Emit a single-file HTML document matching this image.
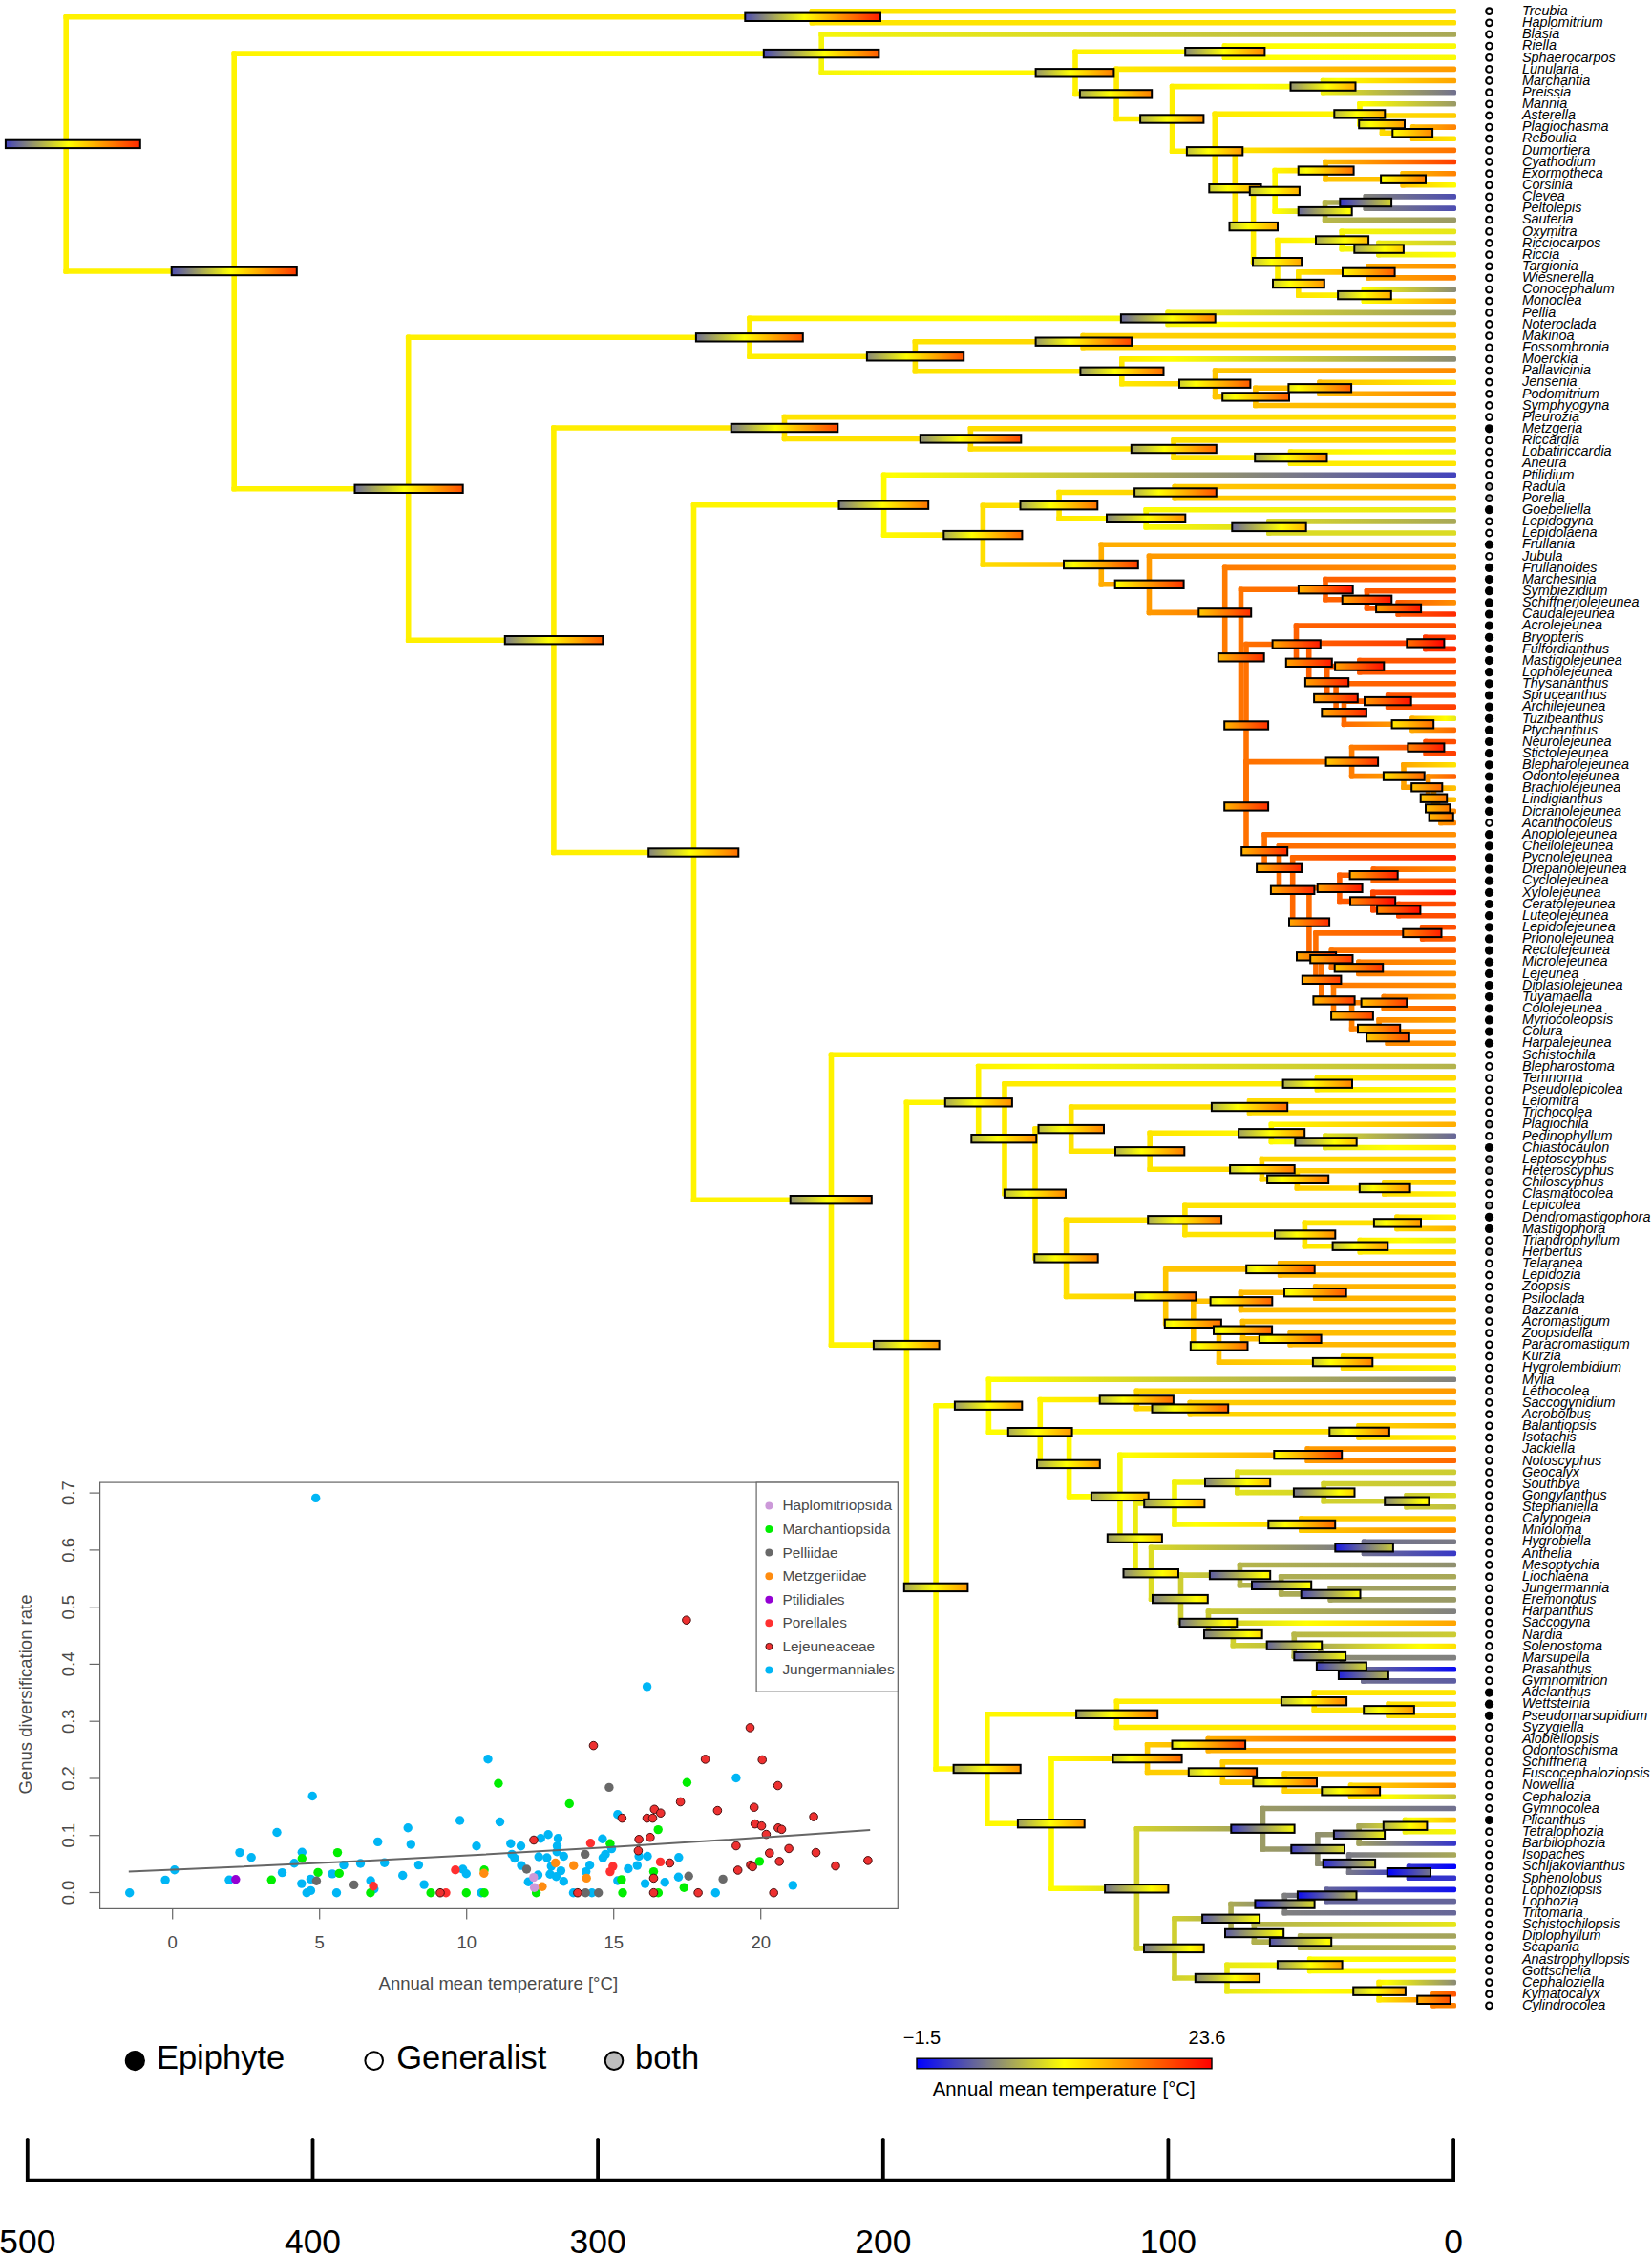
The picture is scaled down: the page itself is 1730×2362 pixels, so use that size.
<!DOCTYPE html>
<html><head><meta charset="utf-8"><title>Liverwort phylogeny</title>
<style>html,body{margin:0;padding:0;background:#fff}svg{display:block}</style></head>
<body><svg width="1730" height="2362" viewBox="0 0 1730 2362"><defs><linearGradient id="g1"><stop offset="0.000" stop-color="#fff200"/><stop offset="1.000" stop-color="#ffe600"/></linearGradient><linearGradient id="g2"><stop offset="0.000" stop-color="#fff200"/><stop offset="1.000" stop-color="#fff400"/></linearGradient><linearGradient id="g3"><stop offset="0.000" stop-color="#4242bd"/><stop offset="0.467" stop-color="#ffff00"/><stop offset="1.000" stop-color="#ff2700"/></linearGradient><linearGradient id="g4"><stop offset="0.000" stop-color="#ffe600"/><stop offset="1.000" stop-color="#ffe000"/></linearGradient><linearGradient id="g5"><stop offset="0.000" stop-color="#ffe600"/><stop offset="1.000" stop-color="#ffe000"/></linearGradient><linearGradient id="g6"><stop offset="0.000" stop-color="#4d4db2"/><stop offset="0.437" stop-color="#ffff00"/><stop offset="1.000" stop-color="#ff1a00"/></linearGradient><linearGradient id="g7"><stop offset="0.000" stop-color="#fff400"/><stop offset="0.537" stop-color="#ffff00"/><stop offset="1.000" stop-color="#f6f609"/></linearGradient><linearGradient id="g8"><stop offset="0.000" stop-color="#fff400"/><stop offset="1.000" stop-color="#fff100"/></linearGradient><linearGradient id="g9"><stop offset="0.000" stop-color="#4e4eb1"/><stop offset="0.471" stop-color="#ffff00"/><stop offset="1.000" stop-color="#ff3800"/></linearGradient><linearGradient id="g10"><stop offset="0.000" stop-color="#f6f609"/><stop offset="1.000" stop-color="#a8a857"/></linearGradient><linearGradient id="g11"><stop offset="0.000" stop-color="#f6f609"/><stop offset="0.413" stop-color="#ffff00"/><stop offset="1.000" stop-color="#fff200"/></linearGradient><linearGradient id="g12"><stop offset="0.000" stop-color="#4949b6"/><stop offset="0.527" stop-color="#ffff00"/><stop offset="1.000" stop-color="#ff5b00"/></linearGradient><linearGradient id="g13"><stop offset="0.000" stop-color="#fff200"/><stop offset="1.000" stop-color="#fffc00"/></linearGradient><linearGradient id="g14"><stop offset="0.000" stop-color="#fff200"/><stop offset="1.000" stop-color="#ffeb00"/></linearGradient><linearGradient id="g15"><stop offset="0.000" stop-color="#969669"/><stop offset="0.444" stop-color="#ffff00"/><stop offset="1.000" stop-color="#ff7c00"/></linearGradient><linearGradient id="g16"><stop offset="0.000" stop-color="#fffc00"/><stop offset="0.356" stop-color="#ffff00"/><stop offset="1.000" stop-color="#fafa05"/></linearGradient><linearGradient id="g17"><stop offset="0.000" stop-color="#fffc00"/><stop offset="0.356" stop-color="#ffff00"/><stop offset="1.000" stop-color="#fafa05"/></linearGradient><linearGradient id="g18"><stop offset="0.000" stop-color="#8a8a75"/><stop offset="0.488" stop-color="#ffff00"/><stop offset="1.000" stop-color="#ff8400"/></linearGradient><linearGradient id="g19"><stop offset="0.000" stop-color="#ffeb00"/><stop offset="1.000" stop-color="#ff9900"/></linearGradient><linearGradient id="g20"><stop offset="0.000" stop-color="#ffeb00"/><stop offset="1.000" stop-color="#fff000"/></linearGradient><linearGradient id="g21"><stop offset="0.000" stop-color="#a6a659"/><stop offset="0.410" stop-color="#ffff00"/><stop offset="1.000" stop-color="#ff7f00"/></linearGradient><linearGradient id="g22"><stop offset="0.000" stop-color="#fff000"/><stop offset="0.526" stop-color="#ffff00"/><stop offset="1.000" stop-color="#f2f20d"/></linearGradient><linearGradient id="g23"><stop offset="0.000" stop-color="#fff000"/><stop offset="1.000" stop-color="#ffec00"/></linearGradient><linearGradient id="g24"><stop offset="0.000" stop-color="#aeae51"/><stop offset="0.423" stop-color="#ffff00"/><stop offset="1.000" stop-color="#ff9100"/></linearGradient><linearGradient id="g25"><stop offset="0.000" stop-color="#f2f20d"/><stop offset="0.127" stop-color="#ffff00"/><stop offset="1.000" stop-color="#ffa300"/></linearGradient><linearGradient id="g26"><stop offset="0.000" stop-color="#f2f20d"/><stop offset="1.000" stop-color="#70708f"/></linearGradient><linearGradient id="g27"><stop offset="0.000" stop-color="#90906f"/><stop offset="0.568" stop-color="#ffff00"/><stop offset="1.000" stop-color="#ffaa00"/></linearGradient><linearGradient id="g28"><stop offset="0.000" stop-color="#ffec00"/><stop offset="1.000" stop-color="#fff700"/></linearGradient><linearGradient id="g29"><stop offset="0.000" stop-color="#ffec00"/><stop offset="1.000" stop-color="#ffe800"/></linearGradient><linearGradient id="g30"><stop offset="0.000" stop-color="#bebe41"/><stop offset="0.387" stop-color="#ffff00"/><stop offset="1.000" stop-color="#ff9800"/></linearGradient><linearGradient id="g31"><stop offset="0.000" stop-color="#fff700"/><stop offset="0.075" stop-color="#ffff00"/><stop offset="1.000" stop-color="#999966"/></linearGradient><linearGradient id="g32"><stop offset="0.000" stop-color="#fff700"/><stop offset="1.000" stop-color="#ffde00"/></linearGradient><linearGradient id="g33"><stop offset="0.000" stop-color="#bbbb44"/><stop offset="0.446" stop-color="#ffff00"/><stop offset="1.000" stop-color="#ffaa00"/></linearGradient><linearGradient id="g34"><stop offset="0.000" stop-color="#ffde00"/><stop offset="1.000" stop-color="#ffcc00"/></linearGradient><linearGradient id="g35"><stop offset="0.000" stop-color="#ffde00"/><stop offset="1.000" stop-color="#ffc400"/></linearGradient><linearGradient id="g36"><stop offset="0.000" stop-color="#dbdb24"/><stop offset="0.261" stop-color="#ffff00"/><stop offset="1.000" stop-color="#ff9900"/></linearGradient><linearGradient id="g37"><stop offset="0.000" stop-color="#ffc400"/><stop offset="1.000" stop-color="#ff8000"/></linearGradient><linearGradient id="g38"><stop offset="0.000" stop-color="#ffc400"/><stop offset="1.000" stop-color="#ffe500"/></linearGradient><linearGradient id="g39"><stop offset="0.000" stop-color="#fefe01"/><stop offset="0.012" stop-color="#ffff00"/><stop offset="1.000" stop-color="#ff8700"/></linearGradient><linearGradient id="g40"><stop offset="0.000" stop-color="#ffe800"/><stop offset="1.000" stop-color="#ff7000"/></linearGradient><linearGradient id="g41"><stop offset="0.000" stop-color="#ffe800"/><stop offset="1.000" stop-color="#ffef00"/></linearGradient><linearGradient id="g42"><stop offset="0.000" stop-color="#c7c738"/><stop offset="0.357" stop-color="#ffff00"/><stop offset="1.000" stop-color="#ff9a00"/></linearGradient><linearGradient id="g43"><stop offset="0.000" stop-color="#ffef00"/><stop offset="1.000" stop-color="#fff900"/></linearGradient><linearGradient id="g44"><stop offset="0.000" stop-color="#c5c53a"/><stop offset="0.393" stop-color="#ffff00"/><stop offset="1.000" stop-color="#ffa600"/></linearGradient><linearGradient id="g45"><stop offset="0.000" stop-color="#fff900"/><stop offset="1.000" stop-color="#ffc300"/></linearGradient><linearGradient id="g46"><stop offset="0.000" stop-color="#fff900"/><stop offset="0.078" stop-color="#ffff00"/><stop offset="1.000" stop-color="#b9b946"/></linearGradient><linearGradient id="g47"><stop offset="0.000" stop-color="#baba45"/><stop offset="0.461" stop-color="#ffff00"/><stop offset="1.000" stop-color="#ffae00"/></linearGradient><linearGradient id="g48"><stop offset="0.000" stop-color="#ffc300"/><stop offset="1.000" stop-color="#ff3d00"/></linearGradient><linearGradient id="g49"><stop offset="0.000" stop-color="#ffc300"/><stop offset="1.000" stop-color="#ffc000"/></linearGradient><linearGradient id="g50"><stop offset="0.000" stop-color="#e8e817"/><stop offset="0.140" stop-color="#ffff00"/><stop offset="1.000" stop-color="#ff6f00"/></linearGradient><linearGradient id="g51"><stop offset="0.000" stop-color="#ffc000"/><stop offset="1.000" stop-color="#ff8000"/></linearGradient><linearGradient id="g52"><stop offset="0.000" stop-color="#ffc000"/><stop offset="1.000" stop-color="#ffff00"/></linearGradient><linearGradient id="g53"><stop offset="0.000" stop-color="#fafa05"/><stop offset="0.037" stop-color="#ffff00"/><stop offset="1.000" stop-color="#ff7c00"/></linearGradient><linearGradient id="g54"><stop offset="0.000" stop-color="#b9b946"/><stop offset="1.000" stop-color="#84847b"/></linearGradient><linearGradient id="g55"><stop offset="0.000" stop-color="#b9b946"/><stop offset="1.000" stop-color="#999966"/></linearGradient><linearGradient id="g56"><stop offset="0.000" stop-color="#686897"/><stop offset="0.934" stop-color="#ffff00"/><stop offset="1.000" stop-color="#fff400"/></linearGradient><linearGradient id="g57"><stop offset="0.000" stop-color="#84847b"/><stop offset="1.000" stop-color="#4c4cb2"/></linearGradient><linearGradient id="g58"><stop offset="0.000" stop-color="#84847b"/><stop offset="1.000" stop-color="#4c4cb2"/></linearGradient><linearGradient id="g59"><stop offset="0.000" stop-color="#3737c8"/><stop offset="1.000" stop-color="#d2d22d"/></linearGradient><linearGradient id="g60"><stop offset="0.000" stop-color="#ffee00"/><stop offset="0.685" stop-color="#ffff00"/><stop offset="1.000" stop-color="#f7f708"/></linearGradient><linearGradient id="g61"><stop offset="0.000" stop-color="#ffee00"/><stop offset="1.000" stop-color="#ffe400"/></linearGradient><linearGradient id="g62"><stop offset="0.000" stop-color="#c6c639"/><stop offset="0.383" stop-color="#ffff00"/><stop offset="1.000" stop-color="#ffa400"/></linearGradient><linearGradient id="g63"><stop offset="0.000" stop-color="#f7f708"/><stop offset="1.000" stop-color="#e6e619"/></linearGradient><linearGradient id="g64"><stop offset="0.000" stop-color="#f7f708"/><stop offset="1.000" stop-color="#eeee11"/></linearGradient><linearGradient id="g65"><stop offset="0.000" stop-color="#a7a758"/><stop offset="0.550" stop-color="#ffff00"/><stop offset="1.000" stop-color="#ffb700"/></linearGradient><linearGradient id="g66"><stop offset="0.000" stop-color="#eeee11"/><stop offset="1.000" stop-color="#cccc33"/></linearGradient><linearGradient id="g67"><stop offset="0.000" stop-color="#eeee11"/><stop offset="1.000" stop-color="#ffff00"/></linearGradient><linearGradient id="g68"><stop offset="0.000" stop-color="#a4a45b"/><stop offset="0.612" stop-color="#ffff00"/><stop offset="1.000" stop-color="#ffc500"/></linearGradient><linearGradient id="g69"><stop offset="0.000" stop-color="#ffe400"/><stop offset="1.000" stop-color="#ffaa00"/></linearGradient><linearGradient id="g70"><stop offset="0.000" stop-color="#ffe400"/><stop offset="1.000" stop-color="#fffc00"/></linearGradient><linearGradient id="g71"><stop offset="0.000" stop-color="#cccc33"/><stop offset="0.327" stop-color="#ffff00"/><stop offset="1.000" stop-color="#ff9600"/></linearGradient><linearGradient id="g72"><stop offset="0.000" stop-color="#ffaa00"/><stop offset="1.000" stop-color="#ff8f00"/></linearGradient><linearGradient id="g73"><stop offset="0.000" stop-color="#ffaa00"/><stop offset="1.000" stop-color="#ff8000"/></linearGradient><linearGradient id="g74"><stop offset="0.000" stop-color="#fff900"/><stop offset="1.000" stop-color="#ff5b00"/></linearGradient><linearGradient id="g75"><stop offset="0.000" stop-color="#fffc00"/><stop offset="0.028" stop-color="#ffff00"/><stop offset="1.000" stop-color="#8a8a75"/></linearGradient><linearGradient id="g76"><stop offset="0.000" stop-color="#fffc00"/><stop offset="1.000" stop-color="#ffa300"/></linearGradient><linearGradient id="g77"><stop offset="0.000" stop-color="#b2b24d"/><stop offset="0.479" stop-color="#ffff00"/><stop offset="1.000" stop-color="#ffab00"/></linearGradient><linearGradient id="g78"><stop offset="0.000" stop-color="#6a6a95"/><stop offset="0.457" stop-color="#ffff00"/><stop offset="1.000" stop-color="#ff4e00"/></linearGradient><linearGradient id="g79"><stop offset="0.000" stop-color="#ffef00"/><stop offset="0.580" stop-color="#ffff00"/><stop offset="1.000" stop-color="#f4f40b"/></linearGradient><linearGradient id="g80"><stop offset="0.000" stop-color="#ffef00"/><stop offset="1.000" stop-color="#ffe400"/></linearGradient><linearGradient id="g81"><stop offset="0.000" stop-color="#6e6e91"/><stop offset="0.452" stop-color="#ffff00"/><stop offset="1.000" stop-color="#ff4f00"/></linearGradient><linearGradient id="g82"><stop offset="0.000" stop-color="#f4f40b"/><stop offset="1.000" stop-color="#999966"/></linearGradient><linearGradient id="g83"><stop offset="0.000" stop-color="#f4f40b"/><stop offset="0.155" stop-color="#ffff00"/><stop offset="1.000" stop-color="#ffc200"/></linearGradient><linearGradient id="g84"><stop offset="0.000" stop-color="#666699"/><stop offset="0.540" stop-color="#ffff00"/><stop offset="1.000" stop-color="#ff7c00"/></linearGradient><linearGradient id="g85"><stop offset="0.000" stop-color="#ffe400"/><stop offset="1.000" stop-color="#ffd400"/></linearGradient><linearGradient id="g86"><stop offset="0.000" stop-color="#ffe400"/><stop offset="1.000" stop-color="#ffea00"/></linearGradient><linearGradient id="g87"><stop offset="0.000" stop-color="#888877"/><stop offset="0.408" stop-color="#ffff00"/><stop offset="1.000" stop-color="#ff5200"/></linearGradient><linearGradient id="g88"><stop offset="0.000" stop-color="#ffd400"/><stop offset="1.000" stop-color="#ffc200"/></linearGradient><linearGradient id="g89"><stop offset="0.000" stop-color="#ffd400"/><stop offset="1.000" stop-color="#ffc200"/></linearGradient><linearGradient id="g90"><stop offset="0.000" stop-color="#9a9a65"/><stop offset="0.351" stop-color="#ffff00"/><stop offset="1.000" stop-color="#ff4300"/></linearGradient><linearGradient id="g91"><stop offset="0.000" stop-color="#ffea00"/><stop offset="0.153" stop-color="#ffff00"/><stop offset="1.000" stop-color="#8a8a75"/></linearGradient><linearGradient id="g92"><stop offset="0.000" stop-color="#ffea00"/><stop offset="1.000" stop-color="#ffc600"/></linearGradient><linearGradient id="g93"><stop offset="0.000" stop-color="#979768"/><stop offset="0.416" stop-color="#ffff00"/><stop offset="1.000" stop-color="#ff6c00"/></linearGradient><linearGradient id="g94"><stop offset="0.000" stop-color="#ffc600"/><stop offset="1.000" stop-color="#ff8a00"/></linearGradient><linearGradient id="g95"><stop offset="0.000" stop-color="#ffc600"/><stop offset="1.000" stop-color="#ffc000"/></linearGradient><linearGradient id="g96"><stop offset="0.000" stop-color="#cdcd32"/><stop offset="0.232" stop-color="#ffff00"/><stop offset="1.000" stop-color="#ff5a00"/></linearGradient><linearGradient id="g97"><stop offset="0.000" stop-color="#ffc000"/><stop offset="1.000" stop-color="#ffbd00"/></linearGradient><linearGradient id="g98"><stop offset="0.000" stop-color="#ffc000"/><stop offset="1.000" stop-color="#ffad00"/></linearGradient><linearGradient id="g99"><stop offset="0.000" stop-color="#d9d926"/><stop offset="0.187" stop-color="#ffff00"/><stop offset="1.000" stop-color="#ff5b00"/></linearGradient><linearGradient id="g100"><stop offset="0.000" stop-color="#ffbd00"/><stop offset="1.000" stop-color="#fff500"/></linearGradient><linearGradient id="g101"><stop offset="0.000" stop-color="#ffbd00"/><stop offset="1.000" stop-color="#ff8000"/></linearGradient><linearGradient id="g102"><stop offset="0.000" stop-color="#e2e21d"/><stop offset="0.153" stop-color="#ffff00"/><stop offset="1.000" stop-color="#ff5e00"/></linearGradient><linearGradient id="g103"><stop offset="0.000" stop-color="#ffef00"/><stop offset="1.000" stop-color="#ffe400"/></linearGradient><linearGradient id="g104"><stop offset="0.000" stop-color="#ffef00"/><stop offset="1.000" stop-color="#fff400"/></linearGradient><linearGradient id="g105"><stop offset="0.000" stop-color="#7b7b84"/><stop offset="0.446" stop-color="#ffff00"/><stop offset="1.000" stop-color="#ff5c00"/></linearGradient><linearGradient id="g106"><stop offset="0.000" stop-color="#ffe400"/><stop offset="1.000" stop-color="#ffdb00"/></linearGradient><linearGradient id="g107"><stop offset="0.000" stop-color="#ffe400"/><stop offset="1.000" stop-color="#ffde00"/></linearGradient><linearGradient id="g108"><stop offset="0.000" stop-color="#797986"/><stop offset="0.416" stop-color="#ffff00"/><stop offset="1.000" stop-color="#ff4400"/></linearGradient><linearGradient id="g109"><stop offset="0.000" stop-color="#ffde00"/><stop offset="1.000" stop-color="#ffc200"/></linearGradient><linearGradient id="g110"><stop offset="0.000" stop-color="#ffde00"/><stop offset="1.000" stop-color="#ffe300"/></linearGradient><linearGradient id="g111"><stop offset="0.000" stop-color="#898976"/><stop offset="0.391" stop-color="#ffff00"/><stop offset="1.000" stop-color="#ff4600"/></linearGradient><linearGradient id="g112"><stop offset="0.000" stop-color="#ffe300"/><stop offset="1.000" stop-color="#ffcc00"/></linearGradient><linearGradient id="g113"><stop offset="0.000" stop-color="#ffe300"/><stop offset="1.000" stop-color="#ffef00"/></linearGradient><linearGradient id="g114"><stop offset="0.000" stop-color="#9b9b64"/><stop offset="0.389" stop-color="#ffff00"/><stop offset="1.000" stop-color="#ff6300"/></linearGradient><linearGradient id="g115"><stop offset="0.000" stop-color="#ffef00"/><stop offset="0.613" stop-color="#ffff00"/><stop offset="1.000" stop-color="#f5f50a"/></linearGradient><linearGradient id="g116"><stop offset="0.000" stop-color="#ffef00"/><stop offset="1.000" stop-color="#ffe500"/></linearGradient><linearGradient id="g117"><stop offset="0.000" stop-color="#a3a35c"/><stop offset="0.426" stop-color="#ffff00"/><stop offset="1.000" stop-color="#ff8200"/></linearGradient><linearGradient id="g118"><stop offset="0.000" stop-color="#fff400"/><stop offset="1.000" stop-color="#fffb00"/></linearGradient><linearGradient id="g119"><stop offset="0.000" stop-color="#83837c"/><stop offset="0.459" stop-color="#ffff00"/><stop offset="1.000" stop-color="#ff6d00"/></linearGradient><linearGradient id="g120"><stop offset="0.000" stop-color="#fffb00"/><stop offset="0.020" stop-color="#ffff00"/><stop offset="1.000" stop-color="#4242bd"/></linearGradient><linearGradient id="g121"><stop offset="0.000" stop-color="#fffb00"/><stop offset="1.000" stop-color="#ffde00"/></linearGradient><linearGradient id="g122"><stop offset="0.000" stop-color="#7c7c83"/><stop offset="0.486" stop-color="#ffff00"/><stop offset="1.000" stop-color="#ff7400"/></linearGradient><linearGradient id="g123"><stop offset="0.000" stop-color="#ffde00"/><stop offset="1.000" stop-color="#ffe600"/></linearGradient><linearGradient id="g124"><stop offset="0.000" stop-color="#ffde00"/><stop offset="1.000" stop-color="#ffad00"/></linearGradient><linearGradient id="g125"><stop offset="0.000" stop-color="#aaaa55"/><stop offset="0.358" stop-color="#ffff00"/><stop offset="1.000" stop-color="#ff6700"/></linearGradient><linearGradient id="g126"><stop offset="0.000" stop-color="#ffe600"/><stop offset="1.000" stop-color="#ffcc00"/></linearGradient><linearGradient id="g127"><stop offset="0.000" stop-color="#ffe600"/><stop offset="0.857" stop-color="#ffff00"/><stop offset="1.000" stop-color="#fbfb04"/></linearGradient><linearGradient id="g128"><stop offset="0.000" stop-color="#a4a45b"/><stop offset="0.393" stop-color="#ffff00"/><stop offset="1.000" stop-color="#ff7200"/></linearGradient><linearGradient id="g129"><stop offset="0.000" stop-color="#ffcc00"/><stop offset="1.000" stop-color="#ffa300"/></linearGradient><linearGradient id="g130"><stop offset="0.000" stop-color="#ffcc00"/><stop offset="1.000" stop-color="#ffb800"/></linearGradient><linearGradient id="g131"><stop offset="0.000" stop-color="#b6b649"/><stop offset="0.295" stop-color="#ffff00"/><stop offset="1.000" stop-color="#ff5100"/></linearGradient><linearGradient id="g132"><stop offset="0.000" stop-color="#fbfb04"/><stop offset="1.000" stop-color="#e6e619"/></linearGradient><linearGradient id="g133"><stop offset="0.000" stop-color="#fbfb04"/><stop offset="1.000" stop-color="#dada25"/></linearGradient><linearGradient id="g134"><stop offset="0.000" stop-color="#84847b"/><stop offset="0.518" stop-color="#ffff00"/><stop offset="1.000" stop-color="#ff8d00"/></linearGradient><linearGradient id="g135"><stop offset="0.000" stop-color="#dada25"/><stop offset="1.000" stop-color="#a8a857"/></linearGradient><linearGradient id="g136"><stop offset="0.000" stop-color="#6b6b94"/><stop offset="0.665" stop-color="#ffff00"/><stop offset="1.000" stop-color="#ffb400"/></linearGradient><linearGradient id="g137"><stop offset="0.000" stop-color="#ffad00"/><stop offset="1.000" stop-color="#ffa300"/></linearGradient><linearGradient id="g138"><stop offset="0.000" stop-color="#ffad00"/><stop offset="1.000" stop-color="#ff9a00"/></linearGradient><linearGradient id="g139"><stop offset="0.000" stop-color="#e1e11e"/><stop offset="0.133" stop-color="#ffff00"/><stop offset="1.000" stop-color="#ff3d00"/></linearGradient><linearGradient id="g140"><stop offset="0.000" stop-color="#ff9a00"/><stop offset="1.000" stop-color="#ffa300"/></linearGradient><linearGradient id="g141"><stop offset="0.000" stop-color="#ff9a00"/><stop offset="1.000" stop-color="#ff7b00"/></linearGradient><linearGradient id="g142"><stop offset="0.000" stop-color="#fcfc03"/><stop offset="0.014" stop-color="#ffff00"/><stop offset="1.000" stop-color="#ff3300"/></linearGradient><linearGradient id="g143"><stop offset="0.000" stop-color="#ff7b00"/><stop offset="1.000" stop-color="#ff8f00"/></linearGradient><linearGradient id="g144"><stop offset="0.000" stop-color="#ff7b00"/><stop offset="1.000" stop-color="#ff7300"/></linearGradient><linearGradient id="g145"><stop offset="0.000" stop-color="#ffca00"/><stop offset="1.000" stop-color="#ff2c00"/></linearGradient><linearGradient id="g146"><stop offset="0.000" stop-color="#ff7300"/><stop offset="1.000" stop-color="#ff6200"/></linearGradient><linearGradient id="g147"><stop offset="0.000" stop-color="#ffb800"/><stop offset="1.000" stop-color="#ff2e00"/></linearGradient><linearGradient id="g148"><stop offset="0.000" stop-color="#ff6200"/><stop offset="1.000" stop-color="#ff5c00"/></linearGradient><linearGradient id="g149"><stop offset="0.000" stop-color="#ff6200"/><stop offset="1.000" stop-color="#ff5b00"/></linearGradient><linearGradient id="g150"><stop offset="0.000" stop-color="#ffb400"/><stop offset="1.000" stop-color="#ff1000"/></linearGradient><linearGradient id="g151"><stop offset="0.000" stop-color="#ff5b00"/><stop offset="1.000" stop-color="#ff4d00"/></linearGradient><linearGradient id="g152"><stop offset="0.000" stop-color="#ffa600"/><stop offset="1.000" stop-color="#ff1000"/></linearGradient><linearGradient id="g153"><stop offset="0.000" stop-color="#ff5b00"/><stop offset="1.000" stop-color="#ff8f00"/></linearGradient><linearGradient id="g154"><stop offset="0.000" stop-color="#ff5b00"/><stop offset="1.000" stop-color="#ff2900"/></linearGradient><linearGradient id="g155"><stop offset="0.000" stop-color="#ffa000"/><stop offset="1.000" stop-color="#ff1700"/></linearGradient><linearGradient id="g156"><stop offset="0.000" stop-color="#ff7100"/><stop offset="1.000" stop-color="#ff6100"/></linearGradient><linearGradient id="g157"><stop offset="0.000" stop-color="#ffb400"/><stop offset="1.000" stop-color="#ff2f00"/></linearGradient><linearGradient id="g158"><stop offset="0.000" stop-color="#ff6100"/><stop offset="1.000" stop-color="#ff4d00"/></linearGradient><linearGradient id="g159"><stop offset="0.000" stop-color="#ff6100"/><stop offset="1.000" stop-color="#ff5f00"/></linearGradient><linearGradient id="g160"><stop offset="0.000" stop-color="#ffaa00"/><stop offset="1.000" stop-color="#ff1900"/></linearGradient><linearGradient id="g161"><stop offset="0.000" stop-color="#ff5f00"/><stop offset="1.000" stop-color="#ff3800"/></linearGradient><linearGradient id="g162"><stop offset="0.000" stop-color="#ff5f00"/><stop offset="1.000" stop-color="#ff6200"/></linearGradient><linearGradient id="g163"><stop offset="0.000" stop-color="#ffa400"/><stop offset="1.000" stop-color="#ff1900"/></linearGradient><linearGradient id="g164"><stop offset="0.000" stop-color="#ff3800"/><stop offset="1.000" stop-color="#ff3d00"/></linearGradient><linearGradient id="g165"><stop offset="0.000" stop-color="#ff3800"/><stop offset="1.000" stop-color="#ff2900"/></linearGradient><linearGradient id="g166"><stop offset="0.000" stop-color="#ff7100"/><stop offset="1.000" stop-color="#ff0000"/></linearGradient><linearGradient id="g167"><stop offset="0.000" stop-color="#ff6200"/><stop offset="1.000" stop-color="#ff5900"/></linearGradient><linearGradient id="g168"><stop offset="0.000" stop-color="#ff6200"/><stop offset="1.000" stop-color="#ff6500"/></linearGradient><linearGradient id="g169"><stop offset="0.000" stop-color="#ffa300"/><stop offset="1.000" stop-color="#ff2000"/></linearGradient><linearGradient id="g170"><stop offset="0.000" stop-color="#ff5900"/><stop offset="1.000" stop-color="#ff4d00"/></linearGradient><linearGradient id="g171"><stop offset="0.000" stop-color="#ff5900"/><stop offset="1.000" stop-color="#ff4d00"/></linearGradient><linearGradient id="g172"><stop offset="0.000" stop-color="#ffa300"/><stop offset="1.000" stop-color="#ff0f00"/></linearGradient><linearGradient id="g173"><stop offset="0.000" stop-color="#ff6500"/><stop offset="1.000" stop-color="#ff5c00"/></linearGradient><linearGradient id="g174"><stop offset="0.000" stop-color="#ff6500"/><stop offset="1.000" stop-color="#ff6900"/></linearGradient><linearGradient id="g175"><stop offset="0.000" stop-color="#ffa800"/><stop offset="1.000" stop-color="#ff2300"/></linearGradient><linearGradient id="g176"><stop offset="0.000" stop-color="#ff6900"/><stop offset="1.000" stop-color="#ff5400"/></linearGradient><linearGradient id="g177"><stop offset="0.000" stop-color="#ff6900"/><stop offset="1.000" stop-color="#ffab00"/></linearGradient><linearGradient id="g178"><stop offset="0.000" stop-color="#ffad00"/><stop offset="1.000" stop-color="#ff2600"/></linearGradient><linearGradient id="g179"><stop offset="0.000" stop-color="#ff5400"/><stop offset="1.000" stop-color="#ff4d00"/></linearGradient><linearGradient id="g180"><stop offset="0.000" stop-color="#ff5400"/><stop offset="1.000" stop-color="#ff3d00"/></linearGradient><linearGradient id="g181"><stop offset="0.000" stop-color="#ff9b00"/><stop offset="1.000" stop-color="#ff0e00"/></linearGradient><linearGradient id="g182"><stop offset="0.000" stop-color="#ffab00"/><stop offset="0.766" stop-color="#ffff00"/><stop offset="1.000" stop-color="#e6e619"/></linearGradient><linearGradient id="g183"><stop offset="0.000" stop-color="#ffab00"/><stop offset="1.000" stop-color="#ff6600"/></linearGradient><linearGradient id="g184"><stop offset="0.000" stop-color="#ffeb00"/><stop offset="1.000" stop-color="#ff6c00"/></linearGradient><linearGradient id="g185"><stop offset="0.000" stop-color="#ff7100"/><stop offset="1.000" stop-color="#ff7d00"/></linearGradient><linearGradient id="g186"><stop offset="0.000" stop-color="#ffb400"/><stop offset="1.000" stop-color="#ff2f00"/></linearGradient><linearGradient id="g187"><stop offset="0.000" stop-color="#ff7d00"/><stop offset="1.000" stop-color="#ff4e00"/></linearGradient><linearGradient id="g188"><stop offset="0.000" stop-color="#ff7d00"/><stop offset="1.000" stop-color="#ffa300"/></linearGradient><linearGradient id="g189"><stop offset="0.000" stop-color="#ffcb00"/><stop offset="1.000" stop-color="#ff2e00"/></linearGradient><linearGradient id="g190"><stop offset="0.000" stop-color="#ff4e00"/><stop offset="1.000" stop-color="#ff3d00"/></linearGradient><linearGradient id="g191"><stop offset="0.000" stop-color="#ff8500"/><stop offset="1.000" stop-color="#ff1600"/></linearGradient><linearGradient id="g192"><stop offset="0.000" stop-color="#ffa300"/><stop offset="1.000" stop-color="#ffe500"/></linearGradient><linearGradient id="g193"><stop offset="0.000" stop-color="#ffa300"/><stop offset="1.000" stop-color="#ff9400"/></linearGradient><linearGradient id="g194"><stop offset="0.000" stop-color="#ffe100"/><stop offset="1.000" stop-color="#ff6500"/></linearGradient><linearGradient id="g195"><stop offset="0.000" stop-color="#ff9400"/><stop offset="1.000" stop-color="#ff5c00"/></linearGradient><linearGradient id="g196"><stop offset="0.000" stop-color="#ff9400"/><stop offset="1.000" stop-color="#ff9e00"/></linearGradient><linearGradient id="g197"><stop offset="0.000" stop-color="#ffc300"/><stop offset="1.000" stop-color="#ff6600"/></linearGradient><linearGradient id="g198"><stop offset="0.000" stop-color="#ff9e00"/><stop offset="1.000" stop-color="#ffc200"/></linearGradient><linearGradient id="g199"><stop offset="0.000" stop-color="#ffc600"/><stop offset="1.000" stop-color="#ff7500"/></linearGradient><linearGradient id="g200"><stop offset="0.000" stop-color="#ff9d00"/><stop offset="1.000" stop-color="#ffc200"/></linearGradient><linearGradient id="g201"><stop offset="0.000" stop-color="#ff9d00"/><stop offset="1.000" stop-color="#ff9400"/></linearGradient><linearGradient id="g202"><stop offset="0.000" stop-color="#ffc200"/><stop offset="1.000" stop-color="#ff7800"/></linearGradient><linearGradient id="g203"><stop offset="0.000" stop-color="#ff9400"/><stop offset="1.000" stop-color="#ff8500"/></linearGradient><linearGradient id="g204"><stop offset="0.000" stop-color="#ff9400"/><stop offset="1.000" stop-color="#ff8500"/></linearGradient><linearGradient id="g205"><stop offset="0.000" stop-color="#ffb900"/><stop offset="1.000" stop-color="#ff6f00"/></linearGradient><linearGradient id="g206"><stop offset="0.000" stop-color="#ff7000"/><stop offset="1.000" stop-color="#ff8f00"/></linearGradient><linearGradient id="g207"><stop offset="0.000" stop-color="#ff7000"/><stop offset="1.000" stop-color="#ff6c00"/></linearGradient><linearGradient id="g208"><stop offset="0.000" stop-color="#ffb600"/><stop offset="1.000" stop-color="#ff2a00"/></linearGradient><linearGradient id="g209"><stop offset="0.000" stop-color="#ff6c00"/><stop offset="1.000" stop-color="#ff8000"/></linearGradient><linearGradient id="g210"><stop offset="0.000" stop-color="#ff6c00"/><stop offset="1.000" stop-color="#ff6800"/></linearGradient><linearGradient id="g211"><stop offset="0.000" stop-color="#ffb100"/><stop offset="1.000" stop-color="#ff2800"/></linearGradient><linearGradient id="g212"><stop offset="0.000" stop-color="#ff6800"/><stop offset="1.000" stop-color="#ff1a00"/></linearGradient><linearGradient id="g213"><stop offset="0.000" stop-color="#ff6800"/><stop offset="1.000" stop-color="#ff6a00"/></linearGradient><linearGradient id="g214"><stop offset="0.000" stop-color="#ffaa00"/><stop offset="1.000" stop-color="#ff2600"/></linearGradient><linearGradient id="g215"><stop offset="0.000" stop-color="#ff6a00"/><stop offset="1.000" stop-color="#ff5d00"/></linearGradient><linearGradient id="g216"><stop offset="0.000" stop-color="#ff6a00"/><stop offset="1.000" stop-color="#ff6e00"/></linearGradient><linearGradient id="g217"><stop offset="0.000" stop-color="#ffa700"/><stop offset="1.000" stop-color="#ff2d00"/></linearGradient><linearGradient id="g218"><stop offset="0.000" stop-color="#ff5d00"/><stop offset="1.000" stop-color="#ff6500"/></linearGradient><linearGradient id="g219"><stop offset="0.000" stop-color="#ff5d00"/><stop offset="1.000" stop-color="#ff4800"/></linearGradient><linearGradient id="g220"><stop offset="0.000" stop-color="#ffa100"/><stop offset="1.000" stop-color="#ff1900"/></linearGradient><linearGradient id="g221"><stop offset="0.000" stop-color="#ff6500"/><stop offset="1.000" stop-color="#ff8f00"/></linearGradient><linearGradient id="g222"><stop offset="0.000" stop-color="#ff6500"/><stop offset="1.000" stop-color="#ff4d00"/></linearGradient><linearGradient id="g223"><stop offset="0.000" stop-color="#ffad00"/><stop offset="1.000" stop-color="#ff1c00"/></linearGradient><linearGradient id="g224"><stop offset="0.000" stop-color="#ff4800"/><stop offset="1.000" stop-color="#ff0f00"/></linearGradient><linearGradient id="g225"><stop offset="0.000" stop-color="#ff8d00"/><stop offset="1.000" stop-color="#ff0400"/></linearGradient><linearGradient id="g226"><stop offset="0.000" stop-color="#ff4a00"/><stop offset="1.000" stop-color="#ff4d00"/></linearGradient><linearGradient id="g227"><stop offset="0.000" stop-color="#ff4a00"/><stop offset="1.000" stop-color="#ff4d00"/></linearGradient><linearGradient id="g228"><stop offset="0.000" stop-color="#ff8c00"/><stop offset="1.000" stop-color="#ff0900"/></linearGradient><linearGradient id="g229"><stop offset="0.000" stop-color="#ff6e00"/><stop offset="1.000" stop-color="#ff5700"/></linearGradient><linearGradient id="g230"><stop offset="0.000" stop-color="#ff6e00"/><stop offset="1.000" stop-color="#ff7200"/></linearGradient><linearGradient id="g231"><stop offset="0.000" stop-color="#ffa900"/><stop offset="1.000" stop-color="#ff3200"/></linearGradient><linearGradient id="g232"><stop offset="0.000" stop-color="#ff5700"/><stop offset="1.000" stop-color="#ff4d00"/></linearGradient><linearGradient id="g233"><stop offset="0.000" stop-color="#ff5700"/><stop offset="1.000" stop-color="#ff5c00"/></linearGradient><linearGradient id="g234"><stop offset="0.000" stop-color="#ff9200"/><stop offset="1.000" stop-color="#ff1d00"/></linearGradient><linearGradient id="g235"><stop offset="0.000" stop-color="#ff7200"/><stop offset="1.000" stop-color="#ff7900"/></linearGradient><linearGradient id="g236"><stop offset="0.000" stop-color="#ffad00"/><stop offset="1.000" stop-color="#ff3700"/></linearGradient><linearGradient id="g237"><stop offset="0.000" stop-color="#ff7400"/><stop offset="1.000" stop-color="#ff5c00"/></linearGradient><linearGradient id="g238"><stop offset="0.000" stop-color="#ff7400"/><stop offset="1.000" stop-color="#ff7d00"/></linearGradient><linearGradient id="g239"><stop offset="0.000" stop-color="#ffb400"/><stop offset="1.000" stop-color="#ff3300"/></linearGradient><linearGradient id="g240"><stop offset="0.000" stop-color="#ff7d00"/><stop offset="1.000" stop-color="#ff8f00"/></linearGradient><linearGradient id="g241"><stop offset="0.000" stop-color="#ff7d00"/><stop offset="1.000" stop-color="#ff8f00"/></linearGradient><linearGradient id="g242"><stop offset="0.000" stop-color="#ffc700"/><stop offset="1.000" stop-color="#ff3400"/></linearGradient><linearGradient id="g243"><stop offset="0.000" stop-color="#ff7900"/><stop offset="1.000" stop-color="#ff8f00"/></linearGradient><linearGradient id="g244"><stop offset="0.000" stop-color="#ff7900"/><stop offset="1.000" stop-color="#ff8000"/></linearGradient><linearGradient id="g245"><stop offset="0.000" stop-color="#ffb800"/><stop offset="1.000" stop-color="#ff3a00"/></linearGradient><linearGradient id="g246"><stop offset="0.000" stop-color="#ff8000"/><stop offset="1.000" stop-color="#ff8b00"/></linearGradient><linearGradient id="g247"><stop offset="0.000" stop-color="#ffc000"/><stop offset="1.000" stop-color="#ff4100"/></linearGradient><linearGradient id="g248"><stop offset="0.000" stop-color="#ff8000"/><stop offset="1.000" stop-color="#ff9900"/></linearGradient><linearGradient id="g249"><stop offset="0.000" stop-color="#ff8000"/><stop offset="1.000" stop-color="#ff6600"/></linearGradient><linearGradient id="g250"><stop offset="0.000" stop-color="#ffc500"/><stop offset="1.000" stop-color="#ff3b00"/></linearGradient><linearGradient id="g251"><stop offset="0.000" stop-color="#ff8b00"/><stop offset="1.000" stop-color="#ffa300"/></linearGradient><linearGradient id="g252"><stop offset="0.000" stop-color="#ffcb00"/><stop offset="1.000" stop-color="#ff4b00"/></linearGradient><linearGradient id="g253"><stop offset="0.000" stop-color="#ff8c00"/><stop offset="1.000" stop-color="#ff8f00"/></linearGradient><linearGradient id="g254"><stop offset="0.000" stop-color="#ff8c00"/><stop offset="1.000" stop-color="#ff8f00"/></linearGradient><linearGradient id="g255"><stop offset="0.000" stop-color="#ffcd00"/><stop offset="1.000" stop-color="#ff4b00"/></linearGradient><linearGradient id="g256"><stop offset="0.000" stop-color="#fff300"/><stop offset="1.000" stop-color="#ffdb00"/></linearGradient><linearGradient id="g257"><stop offset="0.000" stop-color="#fff300"/><stop offset="1.000" stop-color="#fff600"/></linearGradient><linearGradient id="g258"><stop offset="0.000" stop-color="#90906f"/><stop offset="0.453" stop-color="#ffff00"/><stop offset="1.000" stop-color="#ff7900"/></linearGradient><linearGradient id="g259"><stop offset="0.000" stop-color="#fff600"/><stop offset="1.000" stop-color="#fff200"/></linearGradient><linearGradient id="g260"><stop offset="0.000" stop-color="#fff600"/><stop offset="1.000" stop-color="#fff900"/></linearGradient><linearGradient id="g261"><stop offset="0.000" stop-color="#a5a55a"/><stop offset="0.455" stop-color="#ffff00"/><stop offset="1.000" stop-color="#ff9300"/></linearGradient><linearGradient id="g262"><stop offset="0.000" stop-color="#fff200"/><stop offset="0.142" stop-color="#ffff00"/><stop offset="1.000" stop-color="#b2b24d"/></linearGradient><linearGradient id="g263"><stop offset="0.000" stop-color="#fff200"/><stop offset="1.000" stop-color="#ffec00"/></linearGradient><linearGradient id="g264"><stop offset="0.000" stop-color="#a7a758"/><stop offset="0.438" stop-color="#ffff00"/><stop offset="1.000" stop-color="#ff8d00"/></linearGradient><linearGradient id="g265"><stop offset="0.000" stop-color="#ffec00"/><stop offset="1.000" stop-color="#ffe500"/></linearGradient><linearGradient id="g266"><stop offset="0.000" stop-color="#b0b04f"/><stop offset="0.404" stop-color="#ffff00"/><stop offset="1.000" stop-color="#ff8a00"/></linearGradient><linearGradient id="g267"><stop offset="0.000" stop-color="#ffeb00"/><stop offset="1.000" stop-color="#ffd600"/></linearGradient><linearGradient id="g268"><stop offset="0.000" stop-color="#ffeb00"/><stop offset="1.000" stop-color="#ffff00"/></linearGradient><linearGradient id="g269"><stop offset="0.000" stop-color="#abab54"/><stop offset="0.404" stop-color="#ffff00"/><stop offset="1.000" stop-color="#ff8200"/></linearGradient><linearGradient id="g270"><stop offset="0.000" stop-color="#ffe500"/><stop offset="1.000" stop-color="#ffdf00"/></linearGradient><linearGradient id="g271"><stop offset="0.000" stop-color="#bdbd42"/><stop offset="0.359" stop-color="#ffff00"/><stop offset="1.000" stop-color="#ff8800"/></linearGradient><linearGradient id="g272"><stop offset="0.000" stop-color="#ffe400"/><stop offset="1.000" stop-color="#ffdb00"/></linearGradient><linearGradient id="g273"><stop offset="0.000" stop-color="#b7b748"/><stop offset="0.363" stop-color="#ffff00"/><stop offset="1.000" stop-color="#ff8100"/></linearGradient><linearGradient id="g274"><stop offset="0.000" stop-color="#ffdb00"/><stop offset="1.000" stop-color="#ffd600"/></linearGradient><linearGradient id="g275"><stop offset="0.000" stop-color="#ffdb00"/><stop offset="1.000" stop-color="#ffd600"/></linearGradient><linearGradient id="g276"><stop offset="0.000" stop-color="#b1b14e"/><stop offset="0.343" stop-color="#ffff00"/><stop offset="1.000" stop-color="#ff6900"/></linearGradient><linearGradient id="g277"><stop offset="0.000" stop-color="#ffe600"/><stop offset="1.000" stop-color="#fffa00"/></linearGradient><linearGradient id="g278"><stop offset="0.000" stop-color="#ffe600"/><stop offset="1.000" stop-color="#ffd500"/></linearGradient><linearGradient id="g279"><stop offset="0.000" stop-color="#b0b04f"/><stop offset="0.378" stop-color="#ffff00"/><stop offset="1.000" stop-color="#ff7d00"/></linearGradient><linearGradient id="g280"><stop offset="0.000" stop-color="#fffa00"/><stop offset="1.000" stop-color="#ffad00"/></linearGradient><linearGradient id="g281"><stop offset="0.000" stop-color="#fffa00"/><stop offset="0.168" stop-color="#ffff00"/><stop offset="1.000" stop-color="#e5e51a"/></linearGradient><linearGradient id="g282"><stop offset="0.000" stop-color="#a1a15e"/><stop offset="0.473" stop-color="#ffff00"/><stop offset="1.000" stop-color="#ff9600"/></linearGradient><linearGradient id="g283"><stop offset="0.000" stop-color="#e5e51a"/><stop offset="1.000" stop-color="#666699"/></linearGradient><linearGradient id="g284"><stop offset="0.000" stop-color="#e5e51a"/><stop offset="0.508" stop-color="#ffff00"/><stop offset="1.000" stop-color="#ffe500"/></linearGradient><linearGradient id="g285"><stop offset="0.000" stop-color="#888877"/><stop offset="0.641" stop-color="#ffff00"/><stop offset="1.000" stop-color="#ffbc00"/></linearGradient><linearGradient id="g286"><stop offset="0.000" stop-color="#ffd500"/><stop offset="1.000" stop-color="#ffd000"/></linearGradient><linearGradient id="g287"><stop offset="0.000" stop-color="#c7c738"/><stop offset="0.286" stop-color="#ffff00"/><stop offset="1.000" stop-color="#ff7400"/></linearGradient><linearGradient id="g288"><stop offset="0.000" stop-color="#ffd000"/><stop offset="1.000" stop-color="#ffa300"/></linearGradient><linearGradient id="g289"><stop offset="0.000" stop-color="#ffd000"/><stop offset="1.000" stop-color="#ffdc00"/></linearGradient><linearGradient id="g290"><stop offset="0.000" stop-color="#d2d22d"/><stop offset="0.246" stop-color="#ffff00"/><stop offset="1.000" stop-color="#ff7300"/></linearGradient><linearGradient id="g291"><stop offset="0.000" stop-color="#ffdc00"/><stop offset="1.000" stop-color="#ffcc00"/></linearGradient><linearGradient id="g292"><stop offset="0.000" stop-color="#ffdc00"/><stop offset="1.000" stop-color="#fff500"/></linearGradient><linearGradient id="g293"><stop offset="0.000" stop-color="#d6d629"/><stop offset="0.269" stop-color="#ffff00"/><stop offset="1.000" stop-color="#ff8f00"/></linearGradient><linearGradient id="g294"><stop offset="0.000" stop-color="#ffdf00"/><stop offset="1.000" stop-color="#ffe300"/></linearGradient><linearGradient id="g295"><stop offset="0.000" stop-color="#ffdf00"/><stop offset="1.000" stop-color="#ffc600"/></linearGradient><linearGradient id="g296"><stop offset="0.000" stop-color="#c0c03f"/><stop offset="0.331" stop-color="#ffff00"/><stop offset="1.000" stop-color="#ff7f00"/></linearGradient><linearGradient id="g297"><stop offset="0.000" stop-color="#ffe300"/><stop offset="1.000" stop-color="#ffe500"/></linearGradient><linearGradient id="g298"><stop offset="0.000" stop-color="#ffe300"/><stop offset="1.000" stop-color="#ffe600"/></linearGradient><linearGradient id="g299"><stop offset="0.000" stop-color="#acac53"/><stop offset="0.374" stop-color="#ffff00"/><stop offset="1.000" stop-color="#ff7400"/></linearGradient><linearGradient id="g300"><stop offset="0.000" stop-color="#ffe600"/><stop offset="1.000" stop-color="#ffdc00"/></linearGradient><linearGradient id="g301"><stop offset="0.000" stop-color="#ffe600"/><stop offset="1.000" stop-color="#ffee00"/></linearGradient><linearGradient id="g302"><stop offset="0.000" stop-color="#bcbc43"/><stop offset="0.365" stop-color="#ffff00"/><stop offset="1.000" stop-color="#ff8b00"/></linearGradient><linearGradient id="g303"><stop offset="0.000" stop-color="#ffdc00"/><stop offset="1.000" stop-color="#ffff00"/></linearGradient><linearGradient id="g304"><stop offset="0.000" stop-color="#ffdc00"/><stop offset="1.000" stop-color="#ffb200"/></linearGradient><linearGradient id="g305"><stop offset="0.000" stop-color="#dbdb24"/><stop offset="0.253" stop-color="#ffff00"/><stop offset="1.000" stop-color="#ff9500"/></linearGradient><linearGradient id="g306"><stop offset="0.000" stop-color="#ffee00"/><stop offset="0.452" stop-color="#ffff00"/><stop offset="1.000" stop-color="#ebeb14"/></linearGradient><linearGradient id="g307"><stop offset="0.000" stop-color="#ffee00"/><stop offset="1.000" stop-color="#ffd600"/></linearGradient><linearGradient id="g308"><stop offset="0.000" stop-color="#bcbc43"/><stop offset="0.399" stop-color="#ffff00"/><stop offset="1.000" stop-color="#ff9b00"/></linearGradient><linearGradient id="g309"><stop offset="0.000" stop-color="#ffc600"/><stop offset="1.000" stop-color="#ffb800"/></linearGradient><linearGradient id="g310"><stop offset="0.000" stop-color="#ffc600"/><stop offset="1.000" stop-color="#ffc300"/></linearGradient><linearGradient id="g311"><stop offset="0.000" stop-color="#dcdc23"/><stop offset="0.189" stop-color="#ffff00"/><stop offset="1.000" stop-color="#ff6b00"/></linearGradient><linearGradient id="g312"><stop offset="0.000" stop-color="#ffb800"/><stop offset="1.000" stop-color="#ff9900"/></linearGradient><linearGradient id="g313"><stop offset="0.000" stop-color="#ffb800"/><stop offset="1.000" stop-color="#ffc200"/></linearGradient><linearGradient id="g314"><stop offset="0.000" stop-color="#dfdf20"/><stop offset="0.156" stop-color="#ffff00"/><stop offset="1.000" stop-color="#ff5100"/></linearGradient><linearGradient id="g315"><stop offset="0.000" stop-color="#ffc300"/><stop offset="1.000" stop-color="#ffbd00"/></linearGradient><linearGradient id="g316"><stop offset="0.000" stop-color="#e6e619"/><stop offset="0.148" stop-color="#ffff00"/><stop offset="1.000" stop-color="#ff6d00"/></linearGradient><linearGradient id="g317"><stop offset="0.000" stop-color="#ffbd00"/><stop offset="1.000" stop-color="#ffb500"/></linearGradient><linearGradient id="g318"><stop offset="0.000" stop-color="#ffbd00"/><stop offset="1.000" stop-color="#ffb800"/></linearGradient><linearGradient id="g319"><stop offset="0.000" stop-color="#e4e41b"/><stop offset="0.145" stop-color="#ffff00"/><stop offset="1.000" stop-color="#ff5f00"/></linearGradient><linearGradient id="g320"><stop offset="0.000" stop-color="#ffb500"/><stop offset="1.000" stop-color="#ffad00"/></linearGradient><linearGradient id="g321"><stop offset="0.000" stop-color="#ffb500"/><stop offset="1.000" stop-color="#ffad00"/></linearGradient><linearGradient id="g322"><stop offset="0.000" stop-color="#ecec13"/><stop offset="0.102" stop-color="#ffff00"/><stop offset="1.000" stop-color="#ff5700"/></linearGradient><linearGradient id="g323"><stop offset="0.000" stop-color="#ffc300"/><stop offset="1.000" stop-color="#ffbf00"/></linearGradient><linearGradient id="g324"><stop offset="0.000" stop-color="#ffc300"/><stop offset="1.000" stop-color="#ffdb00"/></linearGradient><linearGradient id="g325"><stop offset="0.000" stop-color="#e5e51a"/><stop offset="0.153" stop-color="#ffff00"/><stop offset="1.000" stop-color="#ff6d00"/></linearGradient><linearGradient id="g326"><stop offset="0.000" stop-color="#ffbf00"/><stop offset="1.000" stop-color="#ffa800"/></linearGradient><linearGradient id="g327"><stop offset="0.000" stop-color="#ffbf00"/><stop offset="1.000" stop-color="#ffbb00"/></linearGradient><linearGradient id="g328"><stop offset="0.000" stop-color="#e7e718"/><stop offset="0.136" stop-color="#ffff00"/><stop offset="1.000" stop-color="#ff6700"/></linearGradient><linearGradient id="g329"><stop offset="0.000" stop-color="#ffbb00"/><stop offset="1.000" stop-color="#ffad00"/></linearGradient><linearGradient id="g330"><stop offset="0.000" stop-color="#e5e51a"/><stop offset="0.138" stop-color="#ffff00"/><stop offset="1.000" stop-color="#ff5e00"/></linearGradient><linearGradient id="g331"><stop offset="0.000" stop-color="#ffdb00"/><stop offset="1.000" stop-color="#ffd600"/></linearGradient><linearGradient id="g332"><stop offset="0.000" stop-color="#ffdb00"/><stop offset="1.000" stop-color="#fff500"/></linearGradient><linearGradient id="g333"><stop offset="0.000" stop-color="#c9c936"/><stop offset="0.300" stop-color="#ffff00"/><stop offset="1.000" stop-color="#ff8100"/></linearGradient><linearGradient id="g334"><stop offset="0.000" stop-color="#fff900"/><stop offset="1.000" stop-color="#fffe00"/></linearGradient><linearGradient id="g335"><stop offset="0.000" stop-color="#a5a55a"/><stop offset="0.467" stop-color="#ffff00"/><stop offset="1.000" stop-color="#ff9900"/></linearGradient><linearGradient id="g336"><stop offset="0.000" stop-color="#fffe00"/><stop offset="0.008" stop-color="#ffff00"/><stop offset="1.000" stop-color="#808080"/></linearGradient><linearGradient id="g337"><stop offset="0.000" stop-color="#fffe00"/><stop offset="1.000" stop-color="#fff500"/></linearGradient><linearGradient id="g338"><stop offset="0.000" stop-color="#9a9a65"/><stop offset="0.495" stop-color="#ffff00"/><stop offset="1.000" stop-color="#ff9800"/></linearGradient><linearGradient id="g339"><stop offset="0.000" stop-color="#fff500"/><stop offset="1.000" stop-color="#ffd700"/></linearGradient><linearGradient id="g340"><stop offset="0.000" stop-color="#fff500"/><stop offset="1.000" stop-color="#fff900"/></linearGradient><linearGradient id="g341"><stop offset="0.000" stop-color="#a9a956"/><stop offset="0.448" stop-color="#ffff00"/><stop offset="1.000" stop-color="#ff9500"/></linearGradient><linearGradient id="g342"><stop offset="0.000" stop-color="#ffd700"/><stop offset="1.000" stop-color="#ff9900"/></linearGradient><linearGradient id="g343"><stop offset="0.000" stop-color="#ffd700"/><stop offset="1.000" stop-color="#ffd100"/></linearGradient><linearGradient id="g344"><stop offset="0.000" stop-color="#b8b847"/><stop offset="0.320" stop-color="#ffff00"/><stop offset="1.000" stop-color="#ff6800"/></linearGradient><linearGradient id="g345"><stop offset="0.000" stop-color="#ffd100"/><stop offset="1.000" stop-color="#ffad00"/></linearGradient><linearGradient id="g346"><stop offset="0.000" stop-color="#ffd100"/><stop offset="1.000" stop-color="#ffd600"/></linearGradient><linearGradient id="g347"><stop offset="0.000" stop-color="#baba45"/><stop offset="0.299" stop-color="#ffff00"/><stop offset="1.000" stop-color="#ff5e00"/></linearGradient><linearGradient id="g348"><stop offset="0.000" stop-color="#fff900"/><stop offset="1.000" stop-color="#ffd900"/></linearGradient><linearGradient id="g349"><stop offset="0.000" stop-color="#fff900"/><stop offset="0.497" stop-color="#ffff00"/><stop offset="1.000" stop-color="#f9f906"/></linearGradient><linearGradient id="g350"><stop offset="0.000" stop-color="#a6a659"/><stop offset="0.467" stop-color="#ffff00"/><stop offset="1.000" stop-color="#ff9a00"/></linearGradient><linearGradient id="g351"><stop offset="0.000" stop-color="#ffd900"/><stop offset="1.000" stop-color="#ffb200"/></linearGradient><linearGradient id="g352"><stop offset="0.000" stop-color="#ffd900"/><stop offset="1.000" stop-color="#fff500"/></linearGradient><linearGradient id="g353"><stop offset="0.000" stop-color="#cbcb34"/><stop offset="0.289" stop-color="#ffff00"/><stop offset="1.000" stop-color="#ff7e00"/></linearGradient><linearGradient id="g354"><stop offset="0.000" stop-color="#f9f906"/><stop offset="0.059" stop-color="#ffff00"/><stop offset="1.000" stop-color="#ff9c00"/></linearGradient><linearGradient id="g355"><stop offset="0.000" stop-color="#f9f906"/><stop offset="1.000" stop-color="#ecec13"/></linearGradient><linearGradient id="g356"><stop offset="0.000" stop-color="#a2a25d"/><stop offset="0.536" stop-color="#ffff00"/><stop offset="1.000" stop-color="#ffaf00"/></linearGradient><linearGradient id="g357"><stop offset="0.000" stop-color="#ff9c00"/><stop offset="1.000" stop-color="#ff8000"/></linearGradient><linearGradient id="g358"><stop offset="0.000" stop-color="#ff9c00"/><stop offset="1.000" stop-color="#ff6600"/></linearGradient><linearGradient id="g359"><stop offset="0.000" stop-color="#fcfc03"/><stop offset="0.015" stop-color="#ffff00"/><stop offset="1.000" stop-color="#ff3600"/></linearGradient><linearGradient id="g360"><stop offset="0.000" stop-color="#ecec13"/><stop offset="1.000" stop-color="#f4f40b"/></linearGradient><linearGradient id="g361"><stop offset="0.000" stop-color="#ecec13"/><stop offset="1.000" stop-color="#dcdc23"/></linearGradient><linearGradient id="g362"><stop offset="0.000" stop-color="#9a9a65"/><stop offset="0.613" stop-color="#ffff00"/><stop offset="1.000" stop-color="#ffbf00"/></linearGradient><linearGradient id="g363"><stop offset="0.000" stop-color="#f4f40b"/><stop offset="1.000" stop-color="#e2e21d"/></linearGradient><linearGradient id="g364"><stop offset="0.000" stop-color="#f4f40b"/><stop offset="0.180" stop-color="#ffff00"/><stop offset="1.000" stop-color="#ffcd00"/></linearGradient><linearGradient id="g365"><stop offset="0.000" stop-color="#999966"/><stop offset="0.560" stop-color="#ffff00"/><stop offset="1.000" stop-color="#ffaf00"/></linearGradient><linearGradient id="g366"><stop offset="0.000" stop-color="#e2e21d"/><stop offset="1.000" stop-color="#cccc33"/></linearGradient><linearGradient id="g367"><stop offset="0.000" stop-color="#e2e21d"/><stop offset="1.000" stop-color="#d2d22d"/></linearGradient><linearGradient id="g368"><stop offset="0.000" stop-color="#80807f"/><stop offset="0.647" stop-color="#ffff00"/><stop offset="1.000" stop-color="#ffba00"/></linearGradient><linearGradient id="g369"><stop offset="0.000" stop-color="#d2d22d"/><stop offset="1.000" stop-color="#c2c23d"/></linearGradient><linearGradient id="g370"><stop offset="0.000" stop-color="#d2d22d"/><stop offset="1.000" stop-color="#cdcd32"/></linearGradient><linearGradient id="g371"><stop offset="0.000" stop-color="#767689"/><stop offset="0.744" stop-color="#ffff00"/><stop offset="1.000" stop-color="#ffd000"/></linearGradient><linearGradient id="g372"><stop offset="0.000" stop-color="#cdcd32"/><stop offset="1.000" stop-color="#dbdb24"/></linearGradient><linearGradient id="g373"><stop offset="0.000" stop-color="#cdcd32"/><stop offset="1.000" stop-color="#bdbd42"/></linearGradient><linearGradient id="g374"><stop offset="0.000" stop-color="#8a8a75"/><stop offset="0.871" stop-color="#ffff00"/><stop offset="1.000" stop-color="#ffee00"/></linearGradient><linearGradient id="g375"><stop offset="0.000" stop-color="#ffcd00"/><stop offset="1.000" stop-color="#ff8500"/></linearGradient><linearGradient id="g376"><stop offset="0.000" stop-color="#cccc33"/><stop offset="0.252" stop-color="#ffff00"/><stop offset="1.000" stop-color="#ff6800"/></linearGradient><linearGradient id="g377"><stop offset="0.000" stop-color="#dcdc23"/><stop offset="1.000" stop-color="#70708f"/></linearGradient><linearGradient id="g378"><stop offset="0.000" stop-color="#dcdc23"/><stop offset="1.000" stop-color="#cece31"/></linearGradient><linearGradient id="g379"><stop offset="0.000" stop-color="#898976"/><stop offset="0.708" stop-color="#ffff00"/><stop offset="1.000" stop-color="#ffce00"/></linearGradient><linearGradient id="g380"><stop offset="0.000" stop-color="#70708f"/><stop offset="1.000" stop-color="#7a7a85"/></linearGradient><linearGradient id="g381"><stop offset="0.000" stop-color="#70708f"/><stop offset="1.000" stop-color="#3838c7"/></linearGradient><linearGradient id="g382"><stop offset="0.000" stop-color="#1818e7"/><stop offset="1.000" stop-color="#c8c837"/></linearGradient><linearGradient id="g383"><stop offset="0.000" stop-color="#cece31"/><stop offset="1.000" stop-color="#b6b649"/></linearGradient><linearGradient id="g384"><stop offset="0.000" stop-color="#cece31"/><stop offset="1.000" stop-color="#cbcb34"/></linearGradient><linearGradient id="g385"><stop offset="0.000" stop-color="#7a7a85"/><stop offset="0.794" stop-color="#ffff00"/><stop offset="1.000" stop-color="#ffdd00"/></linearGradient><linearGradient id="g386"><stop offset="0.000" stop-color="#b6b649"/><stop offset="1.000" stop-color="#8f8f70"/></linearGradient><linearGradient id="g387"><stop offset="0.000" stop-color="#b6b649"/><stop offset="1.000" stop-color="#adad52"/></linearGradient><linearGradient id="g388"><stop offset="0.000" stop-color="#5b5ba4"/><stop offset="0.898" stop-color="#ffff00"/><stop offset="1.000" stop-color="#ffec00"/></linearGradient><linearGradient id="g389"><stop offset="0.000" stop-color="#adad52"/><stop offset="1.000" stop-color="#a8a857"/></linearGradient><linearGradient id="g390"><stop offset="0.000" stop-color="#adad52"/><stop offset="1.000" stop-color="#a4a45b"/></linearGradient><linearGradient id="g391"><stop offset="0.000" stop-color="#5454ab"/><stop offset="0.954" stop-color="#ffff00"/><stop offset="1.000" stop-color="#fff700"/></linearGradient><linearGradient id="g392"><stop offset="0.000" stop-color="#a4a45b"/><stop offset="1.000" stop-color="#999966"/></linearGradient><linearGradient id="g393"><stop offset="0.000" stop-color="#a4a45b"/><stop offset="1.000" stop-color="#999966"/></linearGradient><linearGradient id="g394"><stop offset="0.000" stop-color="#4b4bb4"/><stop offset="1.000" stop-color="#fefe01"/></linearGradient><linearGradient id="g395"><stop offset="0.000" stop-color="#cbcb34"/><stop offset="1.000" stop-color="#808080"/></linearGradient><linearGradient id="g396"><stop offset="0.000" stop-color="#cbcb34"/><stop offset="1.000" stop-color="#d1d12e"/></linearGradient><linearGradient id="g397"><stop offset="0.000" stop-color="#75758a"/><stop offset="0.799" stop-color="#ffff00"/><stop offset="1.000" stop-color="#ffdc00"/></linearGradient><linearGradient id="g398"><stop offset="0.000" stop-color="#d1d12e"/><stop offset="0.336" stop-color="#ffff00"/><stop offset="1.000" stop-color="#ffa300"/></linearGradient><linearGradient id="g399"><stop offset="0.000" stop-color="#d1d12e"/><stop offset="1.000" stop-color="#b7b748"/></linearGradient><linearGradient id="g400"><stop offset="0.000" stop-color="#797986"/><stop offset="0.765" stop-color="#ffff00"/><stop offset="1.000" stop-color="#ffd600"/></linearGradient><linearGradient id="g401"><stop offset="0.000" stop-color="#b7b748"/><stop offset="1.000" stop-color="#cccc33"/></linearGradient><linearGradient id="g402"><stop offset="0.000" stop-color="#b7b748"/><stop offset="1.000" stop-color="#a9a956"/></linearGradient><linearGradient id="g403"><stop offset="0.000" stop-color="#64649b"/><stop offset="0.931" stop-color="#ffff00"/><stop offset="1.000" stop-color="#fff400"/></linearGradient><linearGradient id="g404"><stop offset="0.000" stop-color="#a9a956"/><stop offset="0.737" stop-color="#ffff00"/><stop offset="1.000" stop-color="#ffe000"/></linearGradient><linearGradient id="g405"><stop offset="0.000" stop-color="#a9a956"/><stop offset="1.000" stop-color="#8b8b74"/></linearGradient><linearGradient id="g406"><stop offset="0.000" stop-color="#5b5ba4"/><stop offset="1.000" stop-color="#f7f708"/></linearGradient><linearGradient id="g407"><stop offset="0.000" stop-color="#8b8b74"/><stop offset="1.000" stop-color="#808080"/></linearGradient><linearGradient id="g408"><stop offset="0.000" stop-color="#8b8b74"/><stop offset="1.000" stop-color="#6e6e91"/></linearGradient><linearGradient id="g409"><stop offset="0.000" stop-color="#3f3fc0"/><stop offset="1.000" stop-color="#d6d629"/></linearGradient><linearGradient id="g410"><stop offset="0.000" stop-color="#6e6e91"/><stop offset="1.000" stop-color="#0a0af5"/></linearGradient><linearGradient id="g411"><stop offset="0.000" stop-color="#6e6e91"/><stop offset="1.000" stop-color="#5c5ca3"/></linearGradient><linearGradient id="g412"><stop offset="0.000" stop-color="#2323dc"/><stop offset="1.000" stop-color="#baba45"/></linearGradient><linearGradient id="g413"><stop offset="0.000" stop-color="#fff800"/><stop offset="1.000" stop-color="#ffee00"/></linearGradient><linearGradient id="g414"><stop offset="0.000" stop-color="#fff800"/><stop offset="1.000" stop-color="#fffc00"/></linearGradient><linearGradient id="g415"><stop offset="0.000" stop-color="#a1a15e"/><stop offset="0.465" stop-color="#ffff00"/><stop offset="1.000" stop-color="#ff9300"/></linearGradient><linearGradient id="g416"><stop offset="0.000" stop-color="#ffee00"/><stop offset="1.000" stop-color="#ffe400"/></linearGradient><linearGradient id="g417"><stop offset="0.000" stop-color="#ffee00"/><stop offset="1.000" stop-color="#ffe500"/></linearGradient><linearGradient id="g418"><stop offset="0.000" stop-color="#95956a"/><stop offset="0.431" stop-color="#ffff00"/><stop offset="1.000" stop-color="#ff7400"/></linearGradient><linearGradient id="g419"><stop offset="0.000" stop-color="#ffe400"/><stop offset="1.000" stop-color="#ffe000"/></linearGradient><linearGradient id="g420"><stop offset="0.000" stop-color="#b7b748"/><stop offset="0.364" stop-color="#ffff00"/><stop offset="1.000" stop-color="#ff8200"/></linearGradient><linearGradient id="g421"><stop offset="0.000" stop-color="#ffe000"/><stop offset="1.000" stop-color="#ffe500"/></linearGradient><linearGradient id="g422"><stop offset="0.000" stop-color="#ffe000"/><stop offset="1.000" stop-color="#ffd600"/></linearGradient><linearGradient id="g423"><stop offset="0.000" stop-color="#d2d22d"/><stop offset="0.295" stop-color="#ffff00"/><stop offset="1.000" stop-color="#ff9400"/></linearGradient><linearGradient id="g424"><stop offset="0.000" stop-color="#fffc00"/><stop offset="1.000" stop-color="#ffcd00"/></linearGradient><linearGradient id="g425"><stop offset="0.000" stop-color="#fffc00"/><stop offset="0.066" stop-color="#ffff00"/><stop offset="1.000" stop-color="#d3d32c"/></linearGradient><linearGradient id="g426"><stop offset="0.000" stop-color="#9d9d62"/><stop offset="0.485" stop-color="#ffff00"/><stop offset="1.000" stop-color="#ff9700"/></linearGradient><linearGradient id="g427"><stop offset="0.000" stop-color="#ffcd00"/><stop offset="1.000" stop-color="#ffaf00"/></linearGradient><linearGradient id="g428"><stop offset="0.000" stop-color="#c9c936"/><stop offset="0.258" stop-color="#ffff00"/><stop offset="1.000" stop-color="#ff6500"/></linearGradient><linearGradient id="g429"><stop offset="0.000" stop-color="#ffaf00"/><stop offset="1.000" stop-color="#ff3300"/></linearGradient><linearGradient id="g430"><stop offset="0.000" stop-color="#ffaf00"/><stop offset="1.000" stop-color="#ffb200"/></linearGradient><linearGradient id="g431"><stop offset="0.000" stop-color="#e1e11e"/><stop offset="0.137" stop-color="#ffff00"/><stop offset="1.000" stop-color="#ff4000"/></linearGradient><linearGradient id="g432"><stop offset="0.000" stop-color="#ffcd00"/><stop offset="1.000" stop-color="#ffc200"/></linearGradient><linearGradient id="g433"><stop offset="0.000" stop-color="#ffcd00"/><stop offset="1.000" stop-color="#ffcf00"/></linearGradient><linearGradient id="g434"><stop offset="0.000" stop-color="#cbcb34"/><stop offset="0.255" stop-color="#ffff00"/><stop offset="1.000" stop-color="#ff6600"/></linearGradient><linearGradient id="g435"><stop offset="0.000" stop-color="#ffcf00"/><stop offset="1.000" stop-color="#ffb800"/></linearGradient><linearGradient id="g436"><stop offset="0.000" stop-color="#ffcf00"/><stop offset="1.000" stop-color="#ffdc00"/></linearGradient><linearGradient id="g437"><stop offset="0.000" stop-color="#cece31"/><stop offset="0.253" stop-color="#ffff00"/><stop offset="1.000" stop-color="#ff6f00"/></linearGradient><linearGradient id="g438"><stop offset="0.000" stop-color="#ffdc00"/><stop offset="1.000" stop-color="#ff8f00"/></linearGradient><linearGradient id="g439"><stop offset="0.000" stop-color="#ffdc00"/><stop offset="0.365" stop-color="#ffff00"/><stop offset="1.000" stop-color="#c2c23d"/></linearGradient><linearGradient id="g440"><stop offset="0.000" stop-color="#caca35"/><stop offset="0.300" stop-color="#ffff00"/><stop offset="1.000" stop-color="#ff8400"/></linearGradient><linearGradient id="g441"><stop offset="0.000" stop-color="#d3d32c"/><stop offset="1.000" stop-color="#9b9b64"/></linearGradient><linearGradient id="g442"><stop offset="0.000" stop-color="#d3d32c"/><stop offset="1.000" stop-color="#cfcf30"/></linearGradient><linearGradient id="g443"><stop offset="0.000" stop-color="#73738c"/><stop offset="0.730" stop-color="#ffff00"/><stop offset="1.000" stop-color="#ffcb00"/></linearGradient><linearGradient id="g444"><stop offset="0.000" stop-color="#9b9b64"/><stop offset="1.000" stop-color="#70708f"/></linearGradient><linearGradient id="g445"><stop offset="0.000" stop-color="#9b9b64"/><stop offset="1.000" stop-color="#8f8f70"/></linearGradient><linearGradient id="g446"><stop offset="0.000" stop-color="#3b3bc4"/><stop offset="1.000" stop-color="#fbfb04"/></linearGradient><linearGradient id="g447"><stop offset="0.000" stop-color="#8f8f70"/><stop offset="1.000" stop-color="#a3a35c"/></linearGradient><linearGradient id="g448"><stop offset="0.000" stop-color="#8f8f70"/><stop offset="1.000" stop-color="#797986"/></linearGradient><linearGradient id="g449"><stop offset="0.000" stop-color="#3e3ec1"/><stop offset="1.000" stop-color="#dfdf20"/></linearGradient><linearGradient id="g450"><stop offset="0.000" stop-color="#a3a35c"/><stop offset="1.000" stop-color="#f0f00f"/></linearGradient><linearGradient id="g451"><stop offset="0.000" stop-color="#a3a35c"/><stop offset="1.000" stop-color="#3333cc"/></linearGradient><linearGradient id="g452"><stop offset="0.000" stop-color="#5656a9"/><stop offset="1.000" stop-color="#f0f00f"/></linearGradient><linearGradient id="g453"><stop offset="0.000" stop-color="#f0f00f"/><stop offset="0.195" stop-color="#ffff00"/><stop offset="1.000" stop-color="#ffc200"/></linearGradient><linearGradient id="g454"><stop offset="0.000" stop-color="#f0f00f"/><stop offset="1.000" stop-color="#f5f50a"/></linearGradient><linearGradient id="g455"><stop offset="0.000" stop-color="#aeae51"/><stop offset="0.612" stop-color="#ffff00"/><stop offset="1.000" stop-color="#ffcc00"/></linearGradient><linearGradient id="g456"><stop offset="0.000" stop-color="#797986"/><stop offset="1.000" stop-color="#a8a857"/></linearGradient><linearGradient id="g457"><stop offset="0.000" stop-color="#797986"/><stop offset="1.000" stop-color="#3333cc"/></linearGradient><linearGradient id="g458"><stop offset="0.000" stop-color="#2a2ad5"/><stop offset="1.000" stop-color="#c8c837"/></linearGradient><linearGradient id="g459"><stop offset="0.000" stop-color="#3333cc"/><stop offset="1.000" stop-color="#0000ff"/></linearGradient><linearGradient id="g460"><stop offset="0.000" stop-color="#0000ff"/><stop offset="1.000" stop-color="#75758a"/></linearGradient><linearGradient id="g461"><stop offset="0.000" stop-color="#cfcf30"/><stop offset="1.000" stop-color="#acac53"/></linearGradient><linearGradient id="g462"><stop offset="0.000" stop-color="#cfcf30"/><stop offset="1.000" stop-color="#e9e916"/></linearGradient><linearGradient id="g463"><stop offset="0.000" stop-color="#74748b"/><stop offset="0.766" stop-color="#ffff00"/><stop offset="1.000" stop-color="#ffd500"/></linearGradient><linearGradient id="g464"><stop offset="0.000" stop-color="#acac53"/><stop offset="1.000" stop-color="#80807f"/></linearGradient><linearGradient id="g465"><stop offset="0.000" stop-color="#acac53"/><stop offset="1.000" stop-color="#b1b14e"/></linearGradient><linearGradient id="g466"><stop offset="0.000" stop-color="#5656a9"/><stop offset="0.976" stop-color="#ffff00"/><stop offset="1.000" stop-color="#fffb00"/></linearGradient><linearGradient id="g467"><stop offset="0.000" stop-color="#80807f"/><stop offset="1.000" stop-color="#65659a"/></linearGradient><linearGradient id="g468"><stop offset="0.000" stop-color="#80807f"/><stop offset="1.000" stop-color="#666699"/></linearGradient><linearGradient id="g469"><stop offset="0.000" stop-color="#2727d8"/><stop offset="1.000" stop-color="#dada25"/></linearGradient><linearGradient id="g470"><stop offset="0.000" stop-color="#65659a"/><stop offset="1.000" stop-color="#0f0ff0"/></linearGradient><linearGradient id="g471"><stop offset="0.000" stop-color="#0c0cf3"/><stop offset="1.000" stop-color="#bebe41"/></linearGradient><linearGradient id="g472"><stop offset="0.000" stop-color="#b1b14e"/><stop offset="1.000" stop-color="#e6e619"/></linearGradient><linearGradient id="g473"><stop offset="0.000" stop-color="#b1b14e"/><stop offset="1.000" stop-color="#afaf50"/></linearGradient><linearGradient id="g474"><stop offset="0.000" stop-color="#5959a6"/><stop offset="0.940" stop-color="#ffff00"/><stop offset="1.000" stop-color="#fff400"/></linearGradient><linearGradient id="g475"><stop offset="0.000" stop-color="#afaf50"/><stop offset="1.000" stop-color="#a3a35c"/></linearGradient><linearGradient id="g476"><stop offset="0.000" stop-color="#afaf50"/><stop offset="1.000" stop-color="#b2b24d"/></linearGradient><linearGradient id="g477"><stop offset="0.000" stop-color="#5252ad"/><stop offset="0.932" stop-color="#ffff00"/><stop offset="1.000" stop-color="#fff200"/></linearGradient><linearGradient id="g478"><stop offset="0.000" stop-color="#e9e916"/><stop offset="1.000" stop-color="#fdfd02"/></linearGradient><linearGradient id="g479"><stop offset="0.000" stop-color="#e9e916"/><stop offset="0.559" stop-color="#ffff00"/><stop offset="1.000" stop-color="#ffee00"/></linearGradient><linearGradient id="g480"><stop offset="0.000" stop-color="#888877"/><stop offset="0.613" stop-color="#ffff00"/><stop offset="1.000" stop-color="#ffb400"/></linearGradient><linearGradient id="g481"><stop offset="0.000" stop-color="#fdfd02"/><stop offset="0.117" stop-color="#ffff00"/><stop offset="1.000" stop-color="#fff000"/></linearGradient><linearGradient id="g482"><stop offset="0.000" stop-color="#fdfd02"/><stop offset="0.117" stop-color="#ffff00"/><stop offset="1.000" stop-color="#fff000"/></linearGradient><linearGradient id="g483"><stop offset="0.000" stop-color="#9b9b64"/><stop offset="0.510" stop-color="#ffff00"/><stop offset="1.000" stop-color="#ff9f00"/></linearGradient><linearGradient id="g484"><stop offset="0.000" stop-color="#ffee00"/><stop offset="0.129" stop-color="#ffff00"/><stop offset="1.000" stop-color="#8a8a75"/></linearGradient><linearGradient id="g485"><stop offset="0.000" stop-color="#ffee00"/><stop offset="1.000" stop-color="#ff7d00"/></linearGradient><linearGradient id="g486"><stop offset="0.000" stop-color="#c1c13e"/><stop offset="0.390" stop-color="#ffff00"/><stop offset="1.000" stop-color="#ff9f00"/></linearGradient><linearGradient id="g487"><stop offset="0.000" stop-color="#ff7d00"/><stop offset="1.000" stop-color="#ff5200"/></linearGradient><linearGradient id="g488"><stop offset="0.000" stop-color="#ff7d00"/><stop offset="1.000" stop-color="#ff8000"/></linearGradient><linearGradient id="g489"><stop offset="0.000" stop-color="#ffb000"/><stop offset="1.000" stop-color="#ff4b00"/></linearGradient><linearGradient id="cb"><stop offset="0" stop-color="#0000ff"/><stop offset="0.5" stop-color="#ffff00"/><stop offset="1" stop-color="#ff0000"/></linearGradient></defs>
<g shape-rendering="auto">
<rect rx="1.6" x="66.4" y="15.0" width="5.6" height="271.8" fill="#fff200"/>
<rect rx="1.6" x="847.7" y="8.9" width="5.6" height="17.7" fill="#ffe600"/>
<rect rx="1.6" x="242.4" y="53.3" width="5.6" height="461.2" fill="#fff400"/>
<rect rx="1.6" x="857.4" y="33.2" width="5.6" height="45.9" fill="#f6f609"/>
<rect rx="1.6" x="1123.2" y="51.4" width="5.6" height="49.8" fill="#fff200"/>
<rect rx="1.6" x="1279.7" y="45.3" width="5.6" height="17.7" fill="#fffc00"/>
<rect rx="1.6" x="1166.3" y="69.6" width="5.6" height="57.7" fill="#ffeb00"/>
<rect rx="1.6" x="1224.8" y="87.8" width="5.6" height="73.3" fill="#fff000"/>
<rect rx="1.6" x="1382.9" y="81.7" width="5.6" height="17.7" fill="#f2f20d"/>
<rect rx="1.6" x="1269.5" y="116.6" width="5.6" height="83.4" fill="#ffec00"/>
<rect rx="1.6" x="1421.2" y="106.0" width="5.6" height="26.8" fill="#fff700"/>
<rect rx="1.6" x="1444.7" y="118.2" width="5.6" height="23.8" fill="#ffde00"/>
<rect rx="1.6" x="1476.9" y="130.3" width="5.6" height="17.7" fill="#ffc400"/>
<rect rx="1.6" x="1290.5" y="154.6" width="5.6" height="85.3" fill="#ffe800"/>
<rect rx="1.6" x="1309.8" y="197.1" width="5.6" height="80.0" fill="#ffef00"/>
<rect rx="1.6" x="1332.4" y="175.8" width="5.6" height="48.1" fill="#fff900"/>
<rect rx="1.6" x="1385.3" y="166.7" width="5.6" height="23.8" fill="#ffc300"/>
<rect rx="1.6" x="1466.5" y="178.9" width="5.6" height="17.7" fill="#ffc000"/>
<rect rx="1.6" x="1384.8" y="209.2" width="5.6" height="23.8" fill="#b9b946"/>
<rect rx="1.6" x="1427.6" y="203.1" width="5.6" height="17.7" fill="#84847b"/>
<rect rx="1.6" x="1335.2" y="248.7" width="5.6" height="51.1" fill="#ffee00"/>
<rect rx="1.6" x="1402.5" y="239.6" width="5.6" height="23.8" fill="#f7f708"/>
<rect rx="1.6" x="1441.2" y="251.7" width="5.6" height="17.7" fill="#eeee11"/>
<rect rx="1.6" x="1357.0" y="282.1" width="5.6" height="29.9" fill="#ffe400"/>
<rect rx="1.6" x="1430.3" y="276.0" width="5.6" height="17.7" fill="#ffaa00"/>
<rect rx="1.6" x="1425.7" y="300.3" width="5.6" height="17.7" fill="#fffc00"/>
<rect rx="1.6" x="424.9" y="350.5" width="5.6" height="322.5" fill="#fff100"/>
<rect rx="1.6" x="782.2" y="330.6" width="5.6" height="45.4" fill="#ffef00"/>
<rect rx="1.6" x="1220.5" y="324.6" width="5.6" height="17.7" fill="#f4f40b"/>
<rect rx="1.6" x="955.6" y="354.9" width="5.6" height="36.7" fill="#ffe400"/>
<rect rx="1.6" x="1131.5" y="348.8" width="5.6" height="17.7" fill="#ffd400"/>
<rect rx="1.6" x="1172.0" y="373.1" width="5.6" height="31.4" fill="#ffea00"/>
<rect rx="1.6" x="1269.8" y="385.3" width="5.6" height="32.9" fill="#ffc600"/>
<rect rx="1.6" x="1312.1" y="403.5" width="5.6" height="23.8" fill="#ffc000"/>
<rect rx="1.6" x="1379.3" y="397.4" width="5.6" height="17.7" fill="#ffbd00"/>
<rect rx="1.6" x="577.1" y="445.2" width="5.6" height="450.1" fill="#ffef00"/>
<rect rx="1.6" x="818.7" y="433.8" width="5.6" height="28.4" fill="#ffe400"/>
<rect rx="1.6" x="1013.6" y="446.0" width="5.6" height="26.8" fill="#ffde00"/>
<rect rx="1.6" x="1226.3" y="458.1" width="5.6" height="23.8" fill="#ffe300"/>
<rect rx="1.6" x="1348.8" y="470.2" width="5.6" height="17.7" fill="#ffef00"/>
<rect rx="1.6" x="723.7" y="525.9" width="5.6" height="733.1" fill="#fff400"/>
<rect rx="1.6" x="922.8" y="494.5" width="5.6" height="68.4" fill="#fffb00"/>
<rect rx="1.6" x="1026.6" y="526.4" width="5.6" height="67.4" fill="#ffde00"/>
<rect rx="1.6" x="1106.3" y="512.7" width="5.6" height="32.9" fill="#ffe600"/>
<rect rx="1.6" x="1227.6" y="506.7" width="5.6" height="17.7" fill="#ffcc00"/>
<rect rx="1.6" x="1197.4" y="530.9" width="5.6" height="23.8" fill="#fbfb04"/>
<rect rx="1.6" x="1326.2" y="543.1" width="5.6" height="17.7" fill="#dada25"/>
<rect rx="1.6" x="1150.5" y="567.4" width="5.6" height="47.3" fill="#ffad00"/>
<rect rx="1.6" x="1200.7" y="579.5" width="5.6" height="64.7" fill="#ff9a00"/>
<rect rx="1.6" x="1279.9" y="591.6" width="5.6" height="99.5" fill="#ff7b00"/>
<rect rx="1.6" x="1296.7" y="614.4" width="5.6" height="147.8" fill="#ff7300"/>
<rect rx="1.6" x="1385.2" y="603.8" width="5.6" height="26.8" fill="#ff6200"/>
<rect rx="1.6" x="1428.7" y="615.9" width="5.6" height="23.8" fill="#ff5b00"/>
<rect rx="1.6" x="1461.5" y="628.1" width="5.6" height="17.7" fill="#ff5b00"/>
<rect rx="1.6" x="1302.2" y="671.7" width="5.6" height="175.5" fill="#ff7100"/>
<rect rx="1.6" x="1354.7" y="652.3" width="5.6" height="44.3" fill="#ff6100"/>
<rect rx="1.6" x="1367.9" y="670.6" width="5.6" height="46.6" fill="#ff5f00"/>
<rect rx="1.6" x="1490.1" y="664.5" width="5.6" height="17.7" fill="#ff3800"/>
<rect rx="1.6" x="1386.9" y="694.8" width="5.6" height="39.0" fill="#ff6200"/>
<rect rx="1.6" x="1421.2" y="688.8" width="5.6" height="17.7" fill="#ff5900"/>
<rect rx="1.6" x="1396.3" y="713.0" width="5.6" height="36.0" fill="#ff6500"/>
<rect rx="1.6" x="1404.7" y="731.3" width="5.6" height="29.9" fill="#ff6900"/>
<rect rx="1.6" x="1450.9" y="725.2" width="5.6" height="17.7" fill="#ff5400"/>
<rect rx="1.6" x="1476.3" y="749.5" width="5.6" height="17.7" fill="#ffab00"/>
<rect rx="1.6" x="1302.2" y="794.8" width="5.6" height="99.2" fill="#ff7100"/>
<rect rx="1.6" x="1412.8" y="779.8" width="5.6" height="35.6" fill="#ff7d00"/>
<rect rx="1.6" x="1490.5" y="773.7" width="5.6" height="17.7" fill="#ff4e00"/>
<rect rx="1.6" x="1467.2" y="798.0" width="5.6" height="29.1" fill="#ffa300"/>
<rect rx="1.6" x="1492.8" y="810.2" width="5.6" height="28.4" fill="#ff9400"/>
<rect rx="1.6" x="1498.7" y="822.3" width="5.6" height="26.8" fill="#ff9e00"/>
<rect rx="1.6" x="1502.7" y="834.4" width="5.6" height="23.8" fill="#ff9d00"/>
<rect rx="1.6" x="1506.2" y="846.6" width="5.6" height="17.7" fill="#ff9400"/>
<rect rx="1.6" x="1321.3" y="870.9" width="5.6" height="40.7" fill="#ff7000"/>
<rect rx="1.6" x="1336.7" y="883.0" width="5.6" height="51.6" fill="#ff6c00"/>
<rect rx="1.6" x="1350.9" y="895.1" width="5.6" height="73.2" fill="#ff6800"/>
<rect rx="1.6" x="1368.1" y="927.0" width="5.6" height="77.1" fill="#ff6a00"/>
<rect rx="1.6" x="1400.1" y="913.4" width="5.6" height="32.9" fill="#ff5d00"/>
<rect rx="1.6" x="1435.6" y="907.3" width="5.6" height="17.7" fill="#ff6500"/>
<rect rx="1.6" x="1435.0" y="931.6" width="5.6" height="23.8" fill="#ff4800"/>
<rect rx="1.6" x="1462.1" y="943.7" width="5.6" height="17.7" fill="#ff4a00"/>
<rect rx="1.6" x="1375.1" y="974.1" width="5.6" height="54.5" fill="#ff6e00"/>
<rect rx="1.6" x="1486.9" y="968.0" width="5.6" height="17.7" fill="#ff5700"/>
<rect rx="1.6" x="1381.0" y="1001.4" width="5.6" height="48.9" fill="#ff7200"/>
<rect rx="1.6" x="1391.6" y="992.3" width="5.6" height="23.8" fill="#ff7400"/>
<rect rx="1.6" x="1420.2" y="1004.4" width="5.6" height="17.7" fill="#ff7d00"/>
<rect rx="1.6" x="1393.7" y="1028.7" width="5.6" height="37.5" fill="#ff7900"/>
<rect rx="1.6" x="1412.8" y="1046.9" width="5.6" height="32.9" fill="#ff8000"/>
<rect rx="1.6" x="1446.6" y="1040.8" width="5.6" height="17.7" fill="#ff8000"/>
<rect rx="1.6" x="1441.3" y="1065.1" width="5.6" height="23.8" fill="#ff8b00"/>
<rect rx="1.6" x="1450.5" y="1077.3" width="5.6" height="17.7" fill="#ff8c00"/>
<rect rx="1.6" x="867.7" y="1101.5" width="5.6" height="309.4" fill="#fff300"/>
<rect rx="1.6" x="946.6" y="1151.5" width="5.6" height="513.1" fill="#fff600"/>
<rect rx="1.6" x="1021.9" y="1113.7" width="5.6" height="81.3" fill="#fff200"/>
<rect rx="1.6" x="1049.2" y="1131.9" width="5.6" height="120.6" fill="#ffec00"/>
<rect rx="1.6" x="1376.7" y="1125.8" width="5.6" height="17.7" fill="#ffeb00"/>
<rect rx="1.6" x="1081.2" y="1179.3" width="5.6" height="140.9" fill="#ffe500"/>
<rect rx="1.6" x="1118.9" y="1156.2" width="5.6" height="51.9" fill="#ffe400"/>
<rect rx="1.6" x="1305.8" y="1150.1" width="5.6" height="17.7" fill="#ffdb00"/>
<rect rx="1.6" x="1201.4" y="1183.5" width="5.6" height="43.5" fill="#ffe600"/>
<rect rx="1.6" x="1328.6" y="1174.4" width="5.6" height="23.8" fill="#fffa00"/>
<rect rx="1.6" x="1385.2" y="1186.5" width="5.6" height="17.7" fill="#e5e51a"/>
<rect rx="1.6" x="1318.6" y="1210.8" width="5.6" height="26.8" fill="#ffd500"/>
<rect rx="1.6" x="1355.6" y="1222.9" width="5.6" height="23.8" fill="#ffd000"/>
<rect rx="1.6" x="1447.2" y="1235.1" width="5.6" height="17.7" fill="#ffdc00"/>
<rect rx="1.6" x="1113.8" y="1274.5" width="5.6" height="85.7" fill="#ffdf00"/>
<rect rx="1.6" x="1238.1" y="1259.4" width="5.6" height="36.0" fill="#ffe300"/>
<rect rx="1.6" x="1363.6" y="1277.6" width="5.6" height="29.9" fill="#ffe600"/>
<rect rx="1.6" x="1460.3" y="1271.5" width="5.6" height="17.7" fill="#ffdc00"/>
<rect rx="1.6" x="1421.6" y="1295.8" width="5.6" height="17.7" fill="#ffee00"/>
<rect rx="1.6" x="1217.9" y="1326.1" width="5.6" height="62.5" fill="#ffc600"/>
<rect rx="1.6" x="1337.9" y="1320.1" width="5.6" height="17.7" fill="#ffb800"/>
<rect rx="1.6" x="1247.0" y="1359.5" width="5.6" height="52.6" fill="#ffc300"/>
<rect rx="1.6" x="1296.7" y="1350.4" width="5.6" height="23.8" fill="#ffbd00"/>
<rect rx="1.6" x="1374.9" y="1344.3" width="5.6" height="17.7" fill="#ffb500"/>
<rect rx="1.6" x="1273.7" y="1389.9" width="5.6" height="39.0" fill="#ffc300"/>
<rect rx="1.6" x="1298.7" y="1380.8" width="5.6" height="23.8" fill="#ffbf00"/>
<rect rx="1.6" x="1348.5" y="1392.9" width="5.6" height="17.7" fill="#ffbb00"/>
<rect rx="1.6" x="1403.9" y="1417.2" width="5.6" height="17.7" fill="#ffdb00"/>
<rect rx="1.6" x="977.3" y="1468.9" width="5.6" height="385.9" fill="#fff900"/>
<rect rx="1.6" x="1032.6" y="1441.5" width="5.6" height="60.5" fill="#fffe00"/>
<rect rx="1.6" x="1086.5" y="1462.7" width="5.6" height="73.0" fill="#fff500"/>
<rect rx="1.6" x="1187.6" y="1453.6" width="5.6" height="23.8" fill="#ffd700"/>
<rect rx="1.6" x="1243.6" y="1465.7" width="5.6" height="17.7" fill="#ffd100"/>
<rect rx="1.6" x="1116.8" y="1496.1" width="5.6" height="73.6" fill="#fff900"/>
<rect rx="1.6" x="1420.4" y="1490.0" width="5.6" height="17.7" fill="#ffd900"/>
<rect rx="1.6" x="1170.1" y="1520.4" width="5.6" height="93.0" fill="#f9f906"/>
<rect rx="1.6" x="1366.5" y="1514.3" width="5.6" height="17.7" fill="#ff9c00"/>
<rect rx="1.6" x="1186.2" y="1571.2" width="5.6" height="78.8" fill="#ecec13"/>
<rect rx="1.6" x="1227.2" y="1549.2" width="5.6" height="49.6" fill="#f4f40b"/>
<rect rx="1.6" x="1293.1" y="1538.6" width="5.6" height="26.8" fill="#e2e21d"/>
<rect rx="1.6" x="1383.5" y="1550.7" width="5.6" height="23.8" fill="#d2d22d"/>
<rect rx="1.6" x="1470.4" y="1562.9" width="5.6" height="17.7" fill="#cdcd32"/>
<rect rx="1.6" x="1360.1" y="1587.2" width="5.6" height="17.7" fill="#ffcd00"/>
<rect rx="1.6" x="1202.8" y="1617.5" width="5.6" height="59.4" fill="#dcdc23"/>
<rect rx="1.6" x="1425.8" y="1611.4" width="5.6" height="17.7" fill="#70708f"/>
<rect rx="1.6" x="1233.7" y="1646.3" width="5.6" height="55.5" fill="#cece31"/>
<rect rx="1.6" x="1295.7" y="1635.7" width="5.6" height="26.8" fill="#b6b649"/>
<rect rx="1.6" x="1338.9" y="1647.9" width="5.6" height="23.8" fill="#adad52"/>
<rect rx="1.6" x="1390.5" y="1660.0" width="5.6" height="17.7" fill="#a4a45b"/>
<rect rx="1.6" x="1262.7" y="1684.3" width="5.6" height="29.5" fill="#cbcb34"/>
<rect rx="1.6" x="1288.6" y="1696.4" width="5.6" height="29.1" fill="#d1d12e"/>
<rect rx="1.6" x="1352.5" y="1708.6" width="5.6" height="28.4" fill="#b7b748"/>
<rect rx="1.6" x="1380.2" y="1720.7" width="5.6" height="26.8" fill="#a9a956"/>
<rect rx="1.6" x="1402.7" y="1732.8" width="5.6" height="23.8" fill="#8b8b74"/>
<rect rx="1.6" x="1425.0" y="1745.0" width="5.6" height="17.7" fill="#6e6e91"/>
<rect rx="1.6" x="1031.0" y="1792.0" width="5.6" height="120.0" fill="#fff800"/>
<rect rx="1.6" x="1166.6" y="1778.4" width="5.6" height="32.9" fill="#ffee00"/>
<rect rx="1.6" x="1373.5" y="1769.3" width="5.6" height="23.8" fill="#ffe400"/>
<rect rx="1.6" x="1451.4" y="1781.4" width="5.6" height="17.7" fill="#ffe000"/>
<rect rx="1.6" x="1098.2" y="1838.3" width="5.6" height="141.8" fill="#fffc00"/>
<rect rx="1.6" x="1198.8" y="1823.9" width="5.6" height="34.4" fill="#ffcd00"/>
<rect rx="1.6" x="1262.6" y="1817.8" width="5.6" height="17.7" fill="#ffaf00"/>
<rect rx="1.6" x="1277.6" y="1842.1" width="5.6" height="26.8" fill="#ffcd00"/>
<rect rx="1.6" x="1342.5" y="1854.2" width="5.6" height="23.8" fill="#ffcf00"/>
<rect rx="1.6" x="1411.8" y="1866.4" width="5.6" height="17.7" fill="#ffdc00"/>
<rect rx="1.6" x="1187.6" y="1911.9" width="5.6" height="130.8" fill="#d3d32c"/>
<rect rx="1.6" x="1319.7" y="1890.7" width="5.6" height="48.1" fill="#9b9b64"/>
<rect rx="1.6" x="1377.1" y="1918.0" width="5.6" height="36.0" fill="#8f8f70"/>
<rect rx="1.6" x="1420.4" y="1908.9" width="5.6" height="23.8" fill="#a3a35c"/>
<rect rx="1.6" x="1468.8" y="1902.8" width="5.6" height="17.7" fill="#f0f00f"/>
<rect rx="1.6" x="1409.8" y="1939.2" width="5.6" height="23.8" fill="#797986"/>
<rect rx="1.6" x="1472.8" y="1951.4" width="5.6" height="17.7" fill="#3333cc"/>
<rect rx="1.6" x="1227.2" y="2006.0" width="5.6" height="67.8" fill="#cfcf30"/>
<rect rx="1.6" x="1286.3" y="1990.8" width="5.6" height="36.0" fill="#acac53"/>
<rect rx="1.6" x="1342.5" y="1981.7" width="5.6" height="23.8" fill="#80807f"/>
<rect rx="1.6" x="1386.5" y="1975.6" width="5.6" height="17.7" fill="#65659a"/>
<rect rx="1.6" x="1310.6" y="2012.1" width="5.6" height="23.8" fill="#b1b14e"/>
<rect rx="1.6" x="1358.9" y="2024.2" width="5.6" height="17.7" fill="#afaf50"/>
<rect rx="1.6" x="1282.2" y="2054.6" width="5.6" height="32.9" fill="#e9e916"/>
<rect rx="1.6" x="1368.9" y="2048.5" width="5.6" height="17.7" fill="#fdfd02"/>
<rect rx="1.6" x="1441.4" y="2072.8" width="5.6" height="23.8" fill="#ffee00"/>
<rect rx="1.6" x="1498.3" y="2084.9" width="5.6" height="17.7" fill="#ff7d00"/>
<rect rx="1.6" x="66.4" y="15.0" width="786.9" height="5.6" fill="url(#g1)"/>
<rect rx="1.6" x="66.4" y="281.2" width="181.6" height="5.6" fill="url(#g2)"/>
<rect rx="1.6" x="847.7" y="8.9" width="677.3" height="5.6" fill="url(#g4)"/>
<rect rx="1.6" x="847.7" y="21.0" width="677.3" height="5.6" fill="url(#g5)"/>
<rect rx="1.6" x="242.4" y="53.3" width="620.6" height="5.6" fill="url(#g7)"/>
<rect rx="1.6" x="242.4" y="509.0" width="188.1" height="5.6" fill="url(#g8)"/>
<rect rx="1.6" x="857.4" y="33.2" width="667.6" height="5.6" fill="url(#g10)"/>
<rect rx="1.6" x="857.4" y="73.5" width="271.4" height="5.6" fill="url(#g11)"/>
<rect rx="1.6" x="1123.2" y="51.4" width="162.1" height="5.6" fill="url(#g13)"/>
<rect rx="1.6" x="1123.2" y="95.6" width="48.7" height="5.6" fill="url(#g14)"/>
<rect rx="1.6" x="1279.7" y="45.3" width="245.3" height="5.6" fill="url(#g16)"/>
<rect rx="1.6" x="1279.7" y="57.5" width="245.3" height="5.6" fill="url(#g17)"/>
<rect rx="1.6" x="1166.3" y="69.6" width="358.7" height="5.6" fill="url(#g19)"/>
<rect rx="1.6" x="1166.3" y="121.7" width="64.1" height="5.6" fill="url(#g20)"/>
<rect rx="1.6" x="1224.8" y="87.8" width="163.7" height="5.6" fill="url(#g22)"/>
<rect rx="1.6" x="1224.8" y="155.5" width="50.3" height="5.6" fill="url(#g23)"/>
<rect rx="1.6" x="1382.9" y="81.7" width="142.1" height="5.6" fill="url(#g25)"/>
<rect rx="1.6" x="1382.9" y="93.9" width="142.1" height="5.6" fill="url(#g26)"/>
<rect rx="1.6" x="1269.5" y="116.6" width="157.3" height="5.6" fill="url(#g28)"/>
<rect rx="1.6" x="1269.5" y="194.4" width="26.6" height="5.6" fill="url(#g29)"/>
<rect rx="1.6" x="1421.2" y="106.0" width="103.8" height="5.6" fill="url(#g31)"/>
<rect rx="1.6" x="1421.2" y="127.3" width="29.1" height="5.6" fill="url(#g32)"/>
<rect rx="1.6" x="1444.7" y="118.2" width="80.3" height="5.6" fill="url(#g34)"/>
<rect rx="1.6" x="1444.7" y="136.4" width="37.8" height="5.6" fill="url(#g35)"/>
<rect rx="1.6" x="1476.9" y="130.3" width="48.1" height="5.6" fill="url(#g37)"/>
<rect rx="1.6" x="1476.9" y="142.4" width="48.1" height="5.6" fill="url(#g38)"/>
<rect rx="1.6" x="1290.5" y="154.6" width="234.5" height="5.6" fill="url(#g40)"/>
<rect rx="1.6" x="1290.5" y="234.3" width="24.9" height="5.6" fill="url(#g41)"/>
<rect rx="1.6" x="1309.8" y="197.1" width="28.2" height="5.6" fill="url(#g43)"/>
<rect rx="1.6" x="1309.8" y="271.4" width="31.0" height="5.6" fill="#ffef00"/>
<rect rx="1.6" x="1332.4" y="175.8" width="58.5" height="5.6" fill="url(#g45)"/>
<rect rx="1.6" x="1332.4" y="218.3" width="58.0" height="5.6" fill="url(#g46)"/>
<rect rx="1.6" x="1385.3" y="166.7" width="139.7" height="5.6" fill="url(#g48)"/>
<rect rx="1.6" x="1385.3" y="184.9" width="86.8" height="5.6" fill="url(#g49)"/>
<rect rx="1.6" x="1466.5" y="178.9" width="58.5" height="5.6" fill="url(#g51)"/>
<rect rx="1.6" x="1466.5" y="191.0" width="58.5" height="5.6" fill="url(#g52)"/>
<rect rx="1.6" x="1384.8" y="209.2" width="48.4" height="5.6" fill="url(#g54)"/>
<rect rx="1.6" x="1384.8" y="227.4" width="140.2" height="5.6" fill="url(#g55)"/>
<rect rx="1.6" x="1427.6" y="203.1" width="97.4" height="5.6" fill="url(#g57)"/>
<rect rx="1.6" x="1427.6" y="215.3" width="97.4" height="5.6" fill="url(#g58)"/>
<rect rx="1.6" x="1335.2" y="248.7" width="72.9" height="5.6" fill="url(#g60)"/>
<rect rx="1.6" x="1335.2" y="294.2" width="27.4" height="5.6" fill="url(#g61)"/>
<rect rx="1.6" x="1402.5" y="239.6" width="122.5" height="5.6" fill="url(#g63)"/>
<rect rx="1.6" x="1402.5" y="257.8" width="44.3" height="5.6" fill="url(#g64)"/>
<rect rx="1.6" x="1441.2" y="251.7" width="83.8" height="5.6" fill="url(#g66)"/>
<rect rx="1.6" x="1441.2" y="263.8" width="83.8" height="5.6" fill="url(#g67)"/>
<rect rx="1.6" x="1357.0" y="282.1" width="78.9" height="5.6" fill="url(#g69)"/>
<rect rx="1.6" x="1357.0" y="306.3" width="74.3" height="5.6" fill="url(#g70)"/>
<rect rx="1.6" x="1430.3" y="276.0" width="94.7" height="5.6" fill="url(#g72)"/>
<rect rx="1.6" x="1430.3" y="288.1" width="94.7" height="5.6" fill="url(#g73)"/>
<rect rx="1.6" x="1425.7" y="300.3" width="99.3" height="5.6" fill="url(#g75)"/>
<rect rx="1.6" x="1425.7" y="312.4" width="99.3" height="5.6" fill="url(#g76)"/>
<rect rx="1.6" x="424.9" y="350.5" width="362.9" height="5.6" fill="#fff000"/>
<rect rx="1.6" x="424.9" y="667.4" width="157.8" height="5.6" fill="#fff000"/>
<rect rx="1.6" x="782.2" y="330.6" width="443.9" height="5.6" fill="url(#g79)"/>
<rect rx="1.6" x="782.2" y="370.5" width="179.0" height="5.6" fill="url(#g80)"/>
<rect rx="1.6" x="1220.5" y="324.6" width="304.5" height="5.6" fill="url(#g82)"/>
<rect rx="1.6" x="1220.5" y="336.7" width="304.5" height="5.6" fill="url(#g83)"/>
<rect rx="1.6" x="955.6" y="354.9" width="181.5" height="5.6" fill="url(#g85)"/>
<rect rx="1.6" x="955.6" y="386.0" width="222.0" height="5.6" fill="url(#g86)"/>
<rect rx="1.6" x="1131.5" y="348.8" width="393.5" height="5.6" fill="url(#g88)"/>
<rect rx="1.6" x="1131.5" y="361.0" width="393.5" height="5.6" fill="url(#g89)"/>
<rect rx="1.6" x="1172.0" y="373.1" width="353.0" height="5.6" fill="url(#g91)"/>
<rect rx="1.6" x="1172.0" y="398.9" width="103.4" height="5.6" fill="url(#g92)"/>
<rect rx="1.6" x="1269.8" y="385.3" width="255.2" height="5.6" fill="url(#g94)"/>
<rect rx="1.6" x="1269.8" y="412.6" width="47.9" height="5.6" fill="url(#g95)"/>
<rect rx="1.6" x="1312.1" y="403.5" width="72.8" height="5.6" fill="url(#g97)"/>
<rect rx="1.6" x="1312.1" y="421.7" width="212.9" height="5.6" fill="url(#g98)"/>
<rect rx="1.6" x="1379.3" y="397.4" width="145.7" height="5.6" fill="url(#g100)"/>
<rect rx="1.6" x="1379.3" y="409.5" width="145.7" height="5.6" fill="url(#g101)"/>
<rect rx="1.6" x="577.1" y="445.2" width="247.2" height="5.6" fill="url(#g103)"/>
<rect rx="1.6" x="577.1" y="889.7" width="152.2" height="5.6" fill="url(#g104)"/>
<rect rx="1.6" x="818.7" y="433.8" width="706.3" height="5.6" fill="url(#g106)"/>
<rect rx="1.6" x="818.7" y="456.6" width="200.5" height="5.6" fill="url(#g107)"/>
<rect rx="1.6" x="1013.6" y="446.0" width="511.4" height="5.6" fill="url(#g109)"/>
<rect rx="1.6" x="1013.6" y="467.2" width="218.3" height="5.6" fill="url(#g110)"/>
<rect rx="1.6" x="1226.3" y="458.1" width="298.7" height="5.6" fill="url(#g112)"/>
<rect rx="1.6" x="1226.3" y="476.3" width="128.1" height="5.6" fill="url(#g113)"/>
<rect rx="1.6" x="1348.8" y="470.2" width="176.2" height="5.6" fill="url(#g115)"/>
<rect rx="1.6" x="1348.8" y="482.4" width="176.2" height="5.6" fill="url(#g116)"/>
<rect rx="1.6" x="723.7" y="525.9" width="204.7" height="5.6" fill="url(#g118)"/>
<rect rx="1.6" x="723.7" y="1253.4" width="149.6" height="5.6" fill="#fff400"/>
<rect rx="1.6" x="922.8" y="494.5" width="602.2" height="5.6" fill="url(#g120)"/>
<rect rx="1.6" x="922.8" y="557.3" width="109.4" height="5.6" fill="url(#g121)"/>
<rect rx="1.6" x="1026.6" y="526.4" width="85.3" height="5.6" fill="url(#g123)"/>
<rect rx="1.6" x="1026.6" y="588.2" width="129.5" height="5.6" fill="url(#g124)"/>
<rect rx="1.6" x="1106.3" y="512.7" width="126.9" height="5.6" fill="url(#g126)"/>
<rect rx="1.6" x="1106.3" y="540.0" width="96.7" height="5.6" fill="url(#g127)"/>
<rect rx="1.6" x="1227.6" y="506.7" width="297.4" height="5.6" fill="url(#g129)"/>
<rect rx="1.6" x="1227.6" y="518.8" width="297.4" height="5.6" fill="url(#g130)"/>
<rect rx="1.6" x="1197.4" y="530.9" width="327.6" height="5.6" fill="url(#g132)"/>
<rect rx="1.6" x="1197.4" y="549.1" width="134.4" height="5.6" fill="url(#g133)"/>
<rect rx="1.6" x="1326.2" y="543.1" width="198.8" height="5.6" fill="url(#g135)"/>
<rect rx="1.6" x="1326.2" y="555.2" width="198.8" height="5.6" fill="#dbdb24"/>
<rect rx="1.6" x="1150.5" y="567.4" width="374.5" height="5.6" fill="url(#g137)"/>
<rect rx="1.6" x="1150.5" y="609.0" width="55.8" height="5.6" fill="url(#g138)"/>
<rect rx="1.6" x="1200.7" y="579.5" width="324.3" height="5.6" fill="url(#g140)"/>
<rect rx="1.6" x="1200.7" y="638.6" width="84.8" height="5.6" fill="url(#g141)"/>
<rect rx="1.6" x="1279.9" y="591.6" width="245.1" height="5.6" fill="url(#g143)"/>
<rect rx="1.6" x="1279.9" y="685.5" width="22.4" height="5.6" fill="url(#g144)"/>
<rect rx="1.6" x="1296.7" y="614.4" width="94.1" height="5.6" fill="url(#g146)"/>
<rect rx="1.6" x="1296.7" y="756.7" width="11.1" height="5.6" fill="#ff7200"/>
<rect rx="1.6" x="1385.2" y="603.8" width="139.8" height="5.6" fill="url(#g148)"/>
<rect rx="1.6" x="1385.2" y="625.0" width="49.1" height="5.6" fill="url(#g149)"/>
<rect rx="1.6" x="1428.7" y="615.9" width="96.3" height="5.6" fill="url(#g151)"/>
<rect rx="1.6" x="1428.7" y="634.1" width="38.4" height="5.6" fill="#ff5b00"/>
<rect rx="1.6" x="1461.5" y="628.1" width="63.5" height="5.6" fill="url(#g153)"/>
<rect rx="1.6" x="1461.5" y="640.2" width="63.5" height="5.6" fill="url(#g154)"/>
<rect rx="1.6" x="1302.2" y="671.7" width="58.1" height="5.6" fill="url(#g156)"/>
<rect rx="1.6" x="1302.2" y="841.6" width="5.6" height="5.6" fill="#ff7100"/>
<rect rx="1.6" x="1354.7" y="652.3" width="170.3" height="5.6" fill="url(#g158)"/>
<rect rx="1.6" x="1354.7" y="691.0" width="18.8" height="5.6" fill="url(#g159)"/>
<rect rx="1.6" x="1367.9" y="670.6" width="127.8" height="5.6" fill="url(#g161)"/>
<rect rx="1.6" x="1367.9" y="711.5" width="24.6" height="5.6" fill="url(#g162)"/>
<rect rx="1.6" x="1490.1" y="664.5" width="34.9" height="5.6" fill="url(#g164)"/>
<rect rx="1.6" x="1490.1" y="676.6" width="34.9" height="5.6" fill="url(#g165)"/>
<rect rx="1.6" x="1386.9" y="694.8" width="39.9" height="5.6" fill="url(#g167)"/>
<rect rx="1.6" x="1386.9" y="728.2" width="15.0" height="5.6" fill="url(#g168)"/>
<rect rx="1.6" x="1421.2" y="688.8" width="103.8" height="5.6" fill="url(#g170)"/>
<rect rx="1.6" x="1421.2" y="700.9" width="103.8" height="5.6" fill="url(#g171)"/>
<rect rx="1.6" x="1396.3" y="713.0" width="128.7" height="5.6" fill="url(#g173)"/>
<rect rx="1.6" x="1396.3" y="743.4" width="14.0" height="5.6" fill="url(#g174)"/>
<rect rx="1.6" x="1404.7" y="731.3" width="51.8" height="5.6" fill="url(#g176)"/>
<rect rx="1.6" x="1404.7" y="755.5" width="77.2" height="5.6" fill="url(#g177)"/>
<rect rx="1.6" x="1450.9" y="725.2" width="74.1" height="5.6" fill="url(#g179)"/>
<rect rx="1.6" x="1450.9" y="737.3" width="74.1" height="5.6" fill="url(#g180)"/>
<rect rx="1.6" x="1476.3" y="749.5" width="48.7" height="5.6" fill="url(#g182)"/>
<rect rx="1.6" x="1476.3" y="761.6" width="48.7" height="5.6" fill="url(#g183)"/>
<rect rx="1.6" x="1302.2" y="794.8" width="116.2" height="5.6" fill="url(#g185)"/>
<rect rx="1.6" x="1302.2" y="888.4" width="24.7" height="5.6" fill="#ff7100"/>
<rect rx="1.6" x="1412.8" y="779.8" width="83.3" height="5.6" fill="url(#g187)"/>
<rect rx="1.6" x="1412.8" y="809.8" width="60.0" height="5.6" fill="url(#g188)"/>
<rect rx="1.6" x="1490.5" y="773.7" width="34.5" height="5.6" fill="#ff4d00"/>
<rect rx="1.6" x="1490.5" y="785.9" width="34.5" height="5.6" fill="url(#g190)"/>
<rect rx="1.6" x="1467.2" y="798.0" width="57.8" height="5.6" fill="url(#g192)"/>
<rect rx="1.6" x="1467.2" y="821.5" width="31.2" height="5.6" fill="url(#g193)"/>
<rect rx="1.6" x="1492.8" y="810.2" width="32.2" height="5.6" fill="url(#g195)"/>
<rect rx="1.6" x="1492.8" y="832.9" width="11.5" height="5.6" fill="url(#g196)"/>
<rect rx="1.6" x="1498.7" y="822.3" width="26.3" height="5.6" fill="url(#g198)"/>
<rect rx="1.6" x="1498.7" y="843.6" width="9.6" height="5.6" fill="#ff9d00"/>
<rect rx="1.6" x="1502.7" y="834.4" width="22.3" height="5.6" fill="url(#g200)"/>
<rect rx="1.6" x="1502.7" y="852.7" width="9.1" height="5.6" fill="url(#g201)"/>
<rect rx="1.6" x="1506.2" y="846.6" width="18.8" height="5.6" fill="url(#g203)"/>
<rect rx="1.6" x="1506.2" y="858.7" width="18.8" height="5.6" fill="url(#g204)"/>
<rect rx="1.6" x="1321.3" y="870.9" width="203.7" height="5.6" fill="url(#g206)"/>
<rect rx="1.6" x="1321.3" y="906.0" width="21.0" height="5.6" fill="url(#g207)"/>
<rect rx="1.6" x="1336.7" y="883.0" width="188.3" height="5.6" fill="url(#g209)"/>
<rect rx="1.6" x="1336.7" y="929.0" width="19.8" height="5.6" fill="url(#g210)"/>
<rect rx="1.6" x="1350.9" y="895.1" width="174.1" height="5.6" fill="url(#g212)"/>
<rect rx="1.6" x="1350.9" y="962.8" width="22.8" height="5.6" fill="url(#g213)"/>
<rect rx="1.6" x="1368.1" y="927.0" width="37.6" height="5.6" fill="url(#g215)"/>
<rect rx="1.6" x="1368.1" y="998.5" width="12.6" height="5.6" fill="url(#g216)"/>
<rect rx="1.6" x="1400.1" y="913.4" width="41.1" height="5.6" fill="url(#g218)"/>
<rect rx="1.6" x="1400.1" y="940.7" width="40.5" height="5.6" fill="url(#g219)"/>
<rect rx="1.6" x="1435.6" y="907.3" width="89.4" height="5.6" fill="url(#g221)"/>
<rect rx="1.6" x="1435.6" y="919.4" width="89.4" height="5.6" fill="url(#g222)"/>
<rect rx="1.6" x="1435.0" y="931.6" width="90.0" height="5.6" fill="url(#g224)"/>
<rect rx="1.6" x="1435.0" y="949.8" width="32.7" height="5.6" fill="#ff4900"/>
<rect rx="1.6" x="1462.1" y="943.7" width="62.9" height="5.6" fill="url(#g226)"/>
<rect rx="1.6" x="1462.1" y="955.9" width="62.9" height="5.6" fill="url(#g227)"/>
<rect rx="1.6" x="1375.1" y="974.1" width="117.4" height="5.6" fill="url(#g229)"/>
<rect rx="1.6" x="1375.1" y="1023.0" width="11.5" height="5.6" fill="url(#g230)"/>
<rect rx="1.6" x="1486.9" y="968.0" width="38.1" height="5.6" fill="url(#g232)"/>
<rect rx="1.6" x="1486.9" y="980.1" width="38.1" height="5.6" fill="url(#g233)"/>
<rect rx="1.6" x="1381.0" y="1001.4" width="16.2" height="5.6" fill="#ff7300"/>
<rect rx="1.6" x="1381.0" y="1044.6" width="18.3" height="5.6" fill="url(#g235)"/>
<rect rx="1.6" x="1391.6" y="992.3" width="133.4" height="5.6" fill="url(#g237)"/>
<rect rx="1.6" x="1391.6" y="1010.5" width="34.2" height="5.6" fill="url(#g238)"/>
<rect rx="1.6" x="1420.2" y="1004.4" width="104.8" height="5.6" fill="url(#g240)"/>
<rect rx="1.6" x="1420.2" y="1016.6" width="104.8" height="5.6" fill="url(#g241)"/>
<rect rx="1.6" x="1393.7" y="1028.7" width="131.3" height="5.6" fill="url(#g243)"/>
<rect rx="1.6" x="1393.7" y="1060.6" width="24.7" height="5.6" fill="url(#g244)"/>
<rect rx="1.6" x="1412.8" y="1046.9" width="39.4" height="5.6" fill="#ff8000"/>
<rect rx="1.6" x="1412.8" y="1074.2" width="34.1" height="5.6" fill="url(#g246)"/>
<rect rx="1.6" x="1446.6" y="1040.8" width="78.4" height="5.6" fill="url(#g248)"/>
<rect rx="1.6" x="1446.6" y="1053.0" width="78.4" height="5.6" fill="url(#g249)"/>
<rect rx="1.6" x="1441.3" y="1065.1" width="83.7" height="5.6" fill="url(#g251)"/>
<rect rx="1.6" x="1441.3" y="1083.3" width="14.8" height="5.6" fill="#ff8c00"/>
<rect rx="1.6" x="1450.5" y="1077.3" width="74.5" height="5.6" fill="url(#g253)"/>
<rect rx="1.6" x="1450.5" y="1089.4" width="74.5" height="5.6" fill="url(#g254)"/>
<rect rx="1.6" x="867.7" y="1101.5" width="657.3" height="5.6" fill="url(#g256)"/>
<rect rx="1.6" x="867.7" y="1405.3" width="84.5" height="5.6" fill="url(#g257)"/>
<rect rx="1.6" x="946.6" y="1151.5" width="80.9" height="5.6" fill="url(#g259)"/>
<rect rx="1.6" x="946.6" y="1659.1" width="36.3" height="5.6" fill="url(#g260)"/>
<rect rx="1.6" x="1021.9" y="1113.7" width="503.1" height="5.6" fill="url(#g262)"/>
<rect rx="1.6" x="1021.9" y="1189.4" width="32.9" height="5.6" fill="url(#g263)"/>
<rect rx="1.6" x="1049.2" y="1131.9" width="333.1" height="5.6" fill="#ffec00"/>
<rect rx="1.6" x="1049.2" y="1246.9" width="37.6" height="5.6" fill="url(#g265)"/>
<rect rx="1.6" x="1376.7" y="1125.8" width="148.3" height="5.6" fill="url(#g267)"/>
<rect rx="1.6" x="1376.7" y="1138.0" width="148.3" height="5.6" fill="url(#g268)"/>
<rect rx="1.6" x="1081.2" y="1179.3" width="43.3" height="5.6" fill="#ffe400"/>
<rect rx="1.6" x="1081.2" y="1314.6" width="38.2" height="5.6" fill="url(#g270)"/>
<rect rx="1.6" x="1118.9" y="1156.2" width="192.5" height="5.6" fill="url(#g272)"/>
<rect rx="1.6" x="1118.9" y="1202.5" width="88.1" height="5.6" fill="#ffe500"/>
<rect rx="1.6" x="1305.8" y="1150.1" width="219.2" height="5.6" fill="url(#g274)"/>
<rect rx="1.6" x="1305.8" y="1162.2" width="219.2" height="5.6" fill="url(#g275)"/>
<rect rx="1.6" x="1201.4" y="1183.5" width="132.8" height="5.6" fill="url(#g277)"/>
<rect rx="1.6" x="1201.4" y="1221.4" width="122.8" height="5.6" fill="url(#g278)"/>
<rect rx="1.6" x="1328.6" y="1174.4" width="196.4" height="5.6" fill="url(#g280)"/>
<rect rx="1.6" x="1328.6" y="1192.6" width="62.2" height="5.6" fill="url(#g281)"/>
<rect rx="1.6" x="1385.2" y="1186.5" width="139.8" height="5.6" fill="url(#g283)"/>
<rect rx="1.6" x="1385.2" y="1198.7" width="139.8" height="5.6" fill="url(#g284)"/>
<rect rx="1.6" x="1318.6" y="1210.8" width="206.4" height="5.6" fill="#ffd600"/>
<rect rx="1.6" x="1318.6" y="1232.0" width="42.6" height="5.6" fill="url(#g286)"/>
<rect rx="1.6" x="1355.6" y="1222.9" width="169.4" height="5.6" fill="url(#g288)"/>
<rect rx="1.6" x="1355.6" y="1241.2" width="97.2" height="5.6" fill="url(#g289)"/>
<rect rx="1.6" x="1447.2" y="1235.1" width="77.8" height="5.6" fill="url(#g291)"/>
<rect rx="1.6" x="1447.2" y="1247.2" width="77.8" height="5.6" fill="url(#g292)"/>
<rect rx="1.6" x="1113.8" y="1274.5" width="129.9" height="5.6" fill="url(#g294)"/>
<rect rx="1.6" x="1113.8" y="1354.6" width="109.7" height="5.6" fill="url(#g295)"/>
<rect rx="1.6" x="1238.1" y="1259.4" width="286.9" height="5.6" fill="url(#g297)"/>
<rect rx="1.6" x="1238.1" y="1289.7" width="131.1" height="5.6" fill="url(#g298)"/>
<rect rx="1.6" x="1363.6" y="1277.6" width="102.3" height="5.6" fill="url(#g300)"/>
<rect rx="1.6" x="1363.6" y="1301.9" width="63.6" height="5.6" fill="url(#g301)"/>
<rect rx="1.6" x="1460.3" y="1271.5" width="64.7" height="5.6" fill="url(#g303)"/>
<rect rx="1.6" x="1460.3" y="1283.6" width="64.7" height="5.6" fill="url(#g304)"/>
<rect rx="1.6" x="1421.6" y="1295.8" width="103.4" height="5.6" fill="url(#g306)"/>
<rect rx="1.6" x="1421.6" y="1307.9" width="103.4" height="5.6" fill="url(#g307)"/>
<rect rx="1.6" x="1217.9" y="1326.1" width="125.6" height="5.6" fill="url(#g309)"/>
<rect rx="1.6" x="1217.9" y="1383.0" width="34.7" height="5.6" fill="url(#g310)"/>
<rect rx="1.6" x="1337.9" y="1320.1" width="187.1" height="5.6" fill="url(#g312)"/>
<rect rx="1.6" x="1337.9" y="1332.2" width="187.1" height="5.6" fill="url(#g313)"/>
<rect rx="1.6" x="1247.0" y="1359.5" width="55.3" height="5.6" fill="url(#g315)"/>
<rect rx="1.6" x="1247.0" y="1406.6" width="32.3" height="5.6" fill="#ffc300"/>
<rect rx="1.6" x="1296.7" y="1350.4" width="83.8" height="5.6" fill="url(#g317)"/>
<rect rx="1.6" x="1296.7" y="1368.6" width="228.3" height="5.6" fill="url(#g318)"/>
<rect rx="1.6" x="1374.9" y="1344.3" width="150.1" height="5.6" fill="url(#g320)"/>
<rect rx="1.6" x="1374.9" y="1356.5" width="150.1" height="5.6" fill="url(#g321)"/>
<rect rx="1.6" x="1273.7" y="1389.9" width="30.6" height="5.6" fill="url(#g323)"/>
<rect rx="1.6" x="1273.7" y="1423.3" width="135.8" height="5.6" fill="url(#g324)"/>
<rect rx="1.6" x="1298.7" y="1380.8" width="226.3" height="5.6" fill="url(#g326)"/>
<rect rx="1.6" x="1298.7" y="1399.0" width="55.4" height="5.6" fill="url(#g327)"/>
<rect rx="1.6" x="1348.5" y="1392.9" width="176.5" height="5.6" fill="#ffbc00"/>
<rect rx="1.6" x="1348.5" y="1405.0" width="176.5" height="5.6" fill="url(#g329)"/>
<rect rx="1.6" x="1403.9" y="1417.2" width="121.1" height="5.6" fill="url(#g331)"/>
<rect rx="1.6" x="1403.9" y="1429.3" width="121.1" height="5.6" fill="url(#g332)"/>
<rect rx="1.6" x="977.3" y="1468.9" width="60.9" height="5.6" fill="url(#g334)"/>
<rect rx="1.6" x="977.3" y="1849.2" width="59.3" height="5.6" fill="#fff800"/>
<rect rx="1.6" x="1032.6" y="1441.5" width="492.4" height="5.6" fill="url(#g336)"/>
<rect rx="1.6" x="1032.6" y="1496.4" width="59.5" height="5.6" fill="url(#g337)"/>
<rect rx="1.6" x="1086.5" y="1462.7" width="106.7" height="5.6" fill="url(#g339)"/>
<rect rx="1.6" x="1086.5" y="1530.1" width="35.9" height="5.6" fill="url(#g340)"/>
<rect rx="1.6" x="1187.6" y="1453.6" width="337.4" height="5.6" fill="url(#g342)"/>
<rect rx="1.6" x="1187.6" y="1471.8" width="61.6" height="5.6" fill="url(#g343)"/>
<rect rx="1.6" x="1243.6" y="1465.7" width="281.4" height="5.6" fill="url(#g345)"/>
<rect rx="1.6" x="1243.6" y="1477.9" width="281.4" height="5.6" fill="url(#g346)"/>
<rect rx="1.6" x="1116.8" y="1496.1" width="309.2" height="5.6" fill="url(#g348)"/>
<rect rx="1.6" x="1116.8" y="1564.1" width="58.9" height="5.6" fill="url(#g349)"/>
<rect rx="1.6" x="1420.4" y="1490.0" width="104.6" height="5.6" fill="url(#g351)"/>
<rect rx="1.6" x="1420.4" y="1502.2" width="104.6" height="5.6" fill="url(#g352)"/>
<rect rx="1.6" x="1170.1" y="1520.4" width="202.0" height="5.6" fill="url(#g354)"/>
<rect rx="1.6" x="1170.1" y="1607.8" width="21.7" height="5.6" fill="url(#g355)"/>
<rect rx="1.6" x="1366.5" y="1514.3" width="158.5" height="5.6" fill="url(#g357)"/>
<rect rx="1.6" x="1366.5" y="1526.5" width="158.5" height="5.6" fill="url(#g358)"/>
<rect rx="1.6" x="1186.2" y="1571.2" width="46.6" height="5.6" fill="url(#g360)"/>
<rect rx="1.6" x="1186.2" y="1644.4" width="22.2" height="5.6" fill="url(#g361)"/>
<rect rx="1.6" x="1227.2" y="1549.2" width="71.5" height="5.6" fill="url(#g363)"/>
<rect rx="1.6" x="1227.2" y="1593.2" width="138.5" height="5.6" fill="url(#g364)"/>
<rect rx="1.6" x="1293.1" y="1538.6" width="231.9" height="5.6" fill="url(#g366)"/>
<rect rx="1.6" x="1293.1" y="1559.8" width="96.0" height="5.6" fill="url(#g367)"/>
<rect rx="1.6" x="1383.5" y="1550.7" width="141.5" height="5.6" fill="url(#g369)"/>
<rect rx="1.6" x="1383.5" y="1568.9" width="92.5" height="5.6" fill="url(#g370)"/>
<rect rx="1.6" x="1470.4" y="1562.9" width="54.6" height="5.6" fill="url(#g372)"/>
<rect rx="1.6" x="1470.4" y="1575.0" width="54.6" height="5.6" fill="url(#g373)"/>
<rect rx="1.6" x="1360.1" y="1587.2" width="164.9" height="5.6" fill="#ffcc00"/>
<rect rx="1.6" x="1360.1" y="1599.3" width="164.9" height="5.6" fill="url(#g375)"/>
<rect rx="1.6" x="1202.8" y="1617.5" width="228.6" height="5.6" fill="url(#g377)"/>
<rect rx="1.6" x="1202.8" y="1671.3" width="36.5" height="5.6" fill="url(#g378)"/>
<rect rx="1.6" x="1425.8" y="1611.4" width="99.2" height="5.6" fill="url(#g380)"/>
<rect rx="1.6" x="1425.8" y="1623.6" width="99.2" height="5.6" fill="url(#g381)"/>
<rect rx="1.6" x="1233.7" y="1646.3" width="67.6" height="5.6" fill="url(#g383)"/>
<rect rx="1.6" x="1233.7" y="1696.2" width="34.6" height="5.6" fill="url(#g384)"/>
<rect rx="1.6" x="1295.7" y="1635.7" width="229.3" height="5.6" fill="url(#g386)"/>
<rect rx="1.6" x="1295.7" y="1657.0" width="48.8" height="5.6" fill="url(#g387)"/>
<rect rx="1.6" x="1338.9" y="1647.9" width="186.1" height="5.6" fill="url(#g389)"/>
<rect rx="1.6" x="1338.9" y="1666.1" width="57.2" height="5.6" fill="url(#g390)"/>
<rect rx="1.6" x="1390.5" y="1660.0" width="134.5" height="5.6" fill="url(#g392)"/>
<rect rx="1.6" x="1390.5" y="1672.1" width="134.5" height="5.6" fill="url(#g393)"/>
<rect rx="1.6" x="1262.7" y="1684.3" width="262.3" height="5.6" fill="url(#g395)"/>
<rect rx="1.6" x="1262.7" y="1708.2" width="31.5" height="5.6" fill="url(#g396)"/>
<rect rx="1.6" x="1288.6" y="1696.4" width="236.4" height="5.6" fill="url(#g398)"/>
<rect rx="1.6" x="1288.6" y="1719.9" width="69.5" height="5.6" fill="url(#g399)"/>
<rect rx="1.6" x="1352.5" y="1708.6" width="172.5" height="5.6" fill="url(#g401)"/>
<rect rx="1.6" x="1352.5" y="1731.3" width="33.3" height="5.6" fill="url(#g402)"/>
<rect rx="1.6" x="1380.2" y="1720.7" width="144.8" height="5.6" fill="url(#g404)"/>
<rect rx="1.6" x="1380.2" y="1741.9" width="28.1" height="5.6" fill="url(#g405)"/>
<rect rx="1.6" x="1402.7" y="1732.8" width="122.3" height="5.6" fill="url(#g407)"/>
<rect rx="1.6" x="1402.7" y="1751.0" width="27.9" height="5.6" fill="url(#g408)"/>
<rect rx="1.6" x="1425.0" y="1745.0" width="100.0" height="5.6" fill="url(#g410)"/>
<rect rx="1.6" x="1425.0" y="1757.1" width="100.0" height="5.6" fill="url(#g411)"/>
<rect rx="1.6" x="1031.0" y="1792.0" width="141.2" height="5.6" fill="url(#g413)"/>
<rect rx="1.6" x="1031.0" y="1906.4" width="72.8" height="5.6" fill="url(#g414)"/>
<rect rx="1.6" x="1166.6" y="1778.4" width="212.5" height="5.6" fill="url(#g416)"/>
<rect rx="1.6" x="1166.6" y="1805.7" width="358.4" height="5.6" fill="url(#g417)"/>
<rect rx="1.6" x="1373.5" y="1769.3" width="151.5" height="5.6" fill="#ffe500"/>
<rect rx="1.6" x="1373.5" y="1787.5" width="83.5" height="5.6" fill="url(#g419)"/>
<rect rx="1.6" x="1451.4" y="1781.4" width="73.6" height="5.6" fill="url(#g421)"/>
<rect rx="1.6" x="1451.4" y="1793.5" width="73.6" height="5.6" fill="url(#g422)"/>
<rect rx="1.6" x="1098.2" y="1838.3" width="106.2" height="5.6" fill="url(#g424)"/>
<rect rx="1.6" x="1098.2" y="1974.5" width="95.0" height="5.6" fill="url(#g425)"/>
<rect rx="1.6" x="1198.8" y="1823.9" width="69.4" height="5.6" fill="url(#g427)"/>
<rect rx="1.6" x="1198.8" y="1852.7" width="84.4" height="5.6" fill="#ffcd00"/>
<rect rx="1.6" x="1262.6" y="1817.8" width="262.4" height="5.6" fill="url(#g429)"/>
<rect rx="1.6" x="1262.6" y="1830.0" width="262.4" height="5.6" fill="url(#g430)"/>
<rect rx="1.6" x="1277.6" y="1842.1" width="247.4" height="5.6" fill="url(#g432)"/>
<rect rx="1.6" x="1277.6" y="1863.3" width="70.5" height="5.6" fill="url(#g433)"/>
<rect rx="1.6" x="1342.5" y="1854.2" width="182.5" height="5.6" fill="url(#g435)"/>
<rect rx="1.6" x="1342.5" y="1872.5" width="74.9" height="5.6" fill="url(#g436)"/>
<rect rx="1.6" x="1411.8" y="1866.4" width="113.2" height="5.6" fill="url(#g438)"/>
<rect rx="1.6" x="1411.8" y="1878.5" width="113.2" height="5.6" fill="url(#g439)"/>
<rect rx="1.6" x="1187.6" y="1911.9" width="137.7" height="5.6" fill="url(#g441)"/>
<rect rx="1.6" x="1187.6" y="2037.1" width="45.2" height="5.6" fill="url(#g442)"/>
<rect rx="1.6" x="1319.7" y="1890.7" width="205.3" height="5.6" fill="url(#g444)"/>
<rect rx="1.6" x="1319.7" y="1933.2" width="63.0" height="5.6" fill="url(#g445)"/>
<rect rx="1.6" x="1377.1" y="1918.0" width="48.9" height="5.6" fill="url(#g447)"/>
<rect rx="1.6" x="1377.1" y="1948.3" width="38.3" height="5.6" fill="url(#g448)"/>
<rect rx="1.6" x="1420.4" y="1908.9" width="54.0" height="5.6" fill="url(#g450)"/>
<rect rx="1.6" x="1420.4" y="1927.1" width="104.6" height="5.6" fill="url(#g451)"/>
<rect rx="1.6" x="1468.8" y="1902.8" width="56.2" height="5.6" fill="url(#g453)"/>
<rect rx="1.6" x="1468.8" y="1914.9" width="56.2" height="5.6" fill="url(#g454)"/>
<rect rx="1.6" x="1409.8" y="1939.2" width="115.2" height="5.6" fill="url(#g456)"/>
<rect rx="1.6" x="1409.8" y="1957.4" width="68.6" height="5.6" fill="url(#g457)"/>
<rect rx="1.6" x="1472.8" y="1951.4" width="52.2" height="5.6" fill="url(#g459)"/>
<rect rx="1.6" x="1472.8" y="1963.5" width="52.2" height="5.6" fill="#3333cc"/>
<rect rx="1.6" x="1227.2" y="2006.0" width="64.7" height="5.6" fill="url(#g461)"/>
<rect rx="1.6" x="1227.2" y="2068.2" width="60.6" height="5.6" fill="url(#g462)"/>
<rect rx="1.6" x="1286.3" y="1990.8" width="61.8" height="5.6" fill="url(#g464)"/>
<rect rx="1.6" x="1286.3" y="2021.2" width="29.9" height="5.6" fill="url(#g465)"/>
<rect rx="1.6" x="1342.5" y="1981.7" width="49.6" height="5.6" fill="url(#g467)"/>
<rect rx="1.6" x="1342.5" y="1999.9" width="182.5" height="5.6" fill="url(#g468)"/>
<rect rx="1.6" x="1386.5" y="1975.6" width="138.5" height="5.6" fill="url(#g470)"/>
<rect rx="1.6" x="1386.5" y="1987.8" width="138.5" height="5.6" fill="#65659a"/>
<rect rx="1.6" x="1310.6" y="2012.1" width="214.4" height="5.6" fill="url(#g472)"/>
<rect rx="1.6" x="1310.6" y="2030.3" width="53.9" height="5.6" fill="url(#g473)"/>
<rect rx="1.6" x="1358.9" y="2024.2" width="166.1" height="5.6" fill="url(#g475)"/>
<rect rx="1.6" x="1358.9" y="2036.3" width="166.1" height="5.6" fill="url(#g476)"/>
<rect rx="1.6" x="1282.2" y="2054.6" width="92.3" height="5.6" fill="url(#g478)"/>
<rect rx="1.6" x="1282.2" y="2081.9" width="164.8" height="5.6" fill="url(#g479)"/>
<rect rx="1.6" x="1368.9" y="2048.5" width="156.1" height="5.6" fill="url(#g481)"/>
<rect rx="1.6" x="1368.9" y="2060.6" width="156.1" height="5.6" fill="url(#g482)"/>
<rect rx="1.6" x="1441.4" y="2072.8" width="83.6" height="5.6" fill="url(#g484)"/>
<rect rx="1.6" x="1441.4" y="2091.0" width="62.5" height="5.6" fill="url(#g485)"/>
<rect rx="1.6" x="1498.3" y="2084.9" width="26.7" height="5.6" fill="url(#g487)"/>
<rect rx="1.6" x="1498.3" y="2097.0" width="26.7" height="5.6" fill="url(#g488)"/>
<rect x="5.9" y="146.7" width="140.9" height="8.4" fill="url(#g3)" stroke="#000" stroke-width="2.0"/>
<rect x="780.3" y="13.6" width="141.7" height="8.4" fill="url(#g6)" stroke="#000" stroke-width="2.0"/>
<rect x="179.7" y="279.8" width="131.1" height="8.4" fill="url(#g9)" stroke="#000" stroke-width="2.0"/>
<rect x="799.8" y="51.9" width="120.6" height="8.4" fill="url(#g12)" stroke="#000" stroke-width="2.0"/>
<rect x="1084.6" y="72.1" width="81.8" height="8.4" fill="url(#g15)" stroke="#000" stroke-width="2.0"/>
<rect x="1241.2" y="50.0" width="83.2" height="8.4" fill="url(#g18)" stroke="#000" stroke-width="2.0"/>
<rect x="1130.9" y="94.2" width="75.3" height="8.4" fill="url(#g21)" stroke="#000" stroke-width="2.0"/>
<rect x="1194.1" y="120.3" width="66.3" height="8.4" fill="url(#g24)" stroke="#000" stroke-width="2.0"/>
<rect x="1351.5" y="86.4" width="68.0" height="8.4" fill="url(#g27)" stroke="#000" stroke-width="2.0"/>
<rect x="1242.9" y="154.1" width="58.4" height="8.4" fill="url(#g30)" stroke="#000" stroke-width="2.0"/>
<rect x="1397.3" y="115.2" width="53.0" height="8.4" fill="url(#g33)" stroke="#000" stroke-width="2.0"/>
<rect x="1423.2" y="125.9" width="47.8" height="8.4" fill="url(#g36)" stroke="#000" stroke-width="2.0"/>
<rect x="1458.3" y="135.0" width="41.8" height="8.4" fill="url(#g39)" stroke="#000" stroke-width="2.0"/>
<rect x="1266.3" y="193.0" width="54.3" height="8.4" fill="url(#g42)" stroke="#000" stroke-width="2.0"/>
<rect x="1287.5" y="232.9" width="50.5" height="8.4" fill="url(#g44)" stroke="#000" stroke-width="2.0"/>
<rect x="1308.8" y="195.7" width="52.1" height="8.4" fill="url(#g47)" stroke="#000" stroke-width="2.0"/>
<rect x="1359.7" y="174.4" width="57.9" height="8.4" fill="url(#g50)" stroke="#000" stroke-width="2.0"/>
<rect x="1446.1" y="183.5" width="46.9" height="8.4" fill="url(#g53)" stroke="#000" stroke-width="2.0"/>
<rect x="1359.7" y="216.9" width="56.0" height="8.4" fill="url(#g56)" stroke="#000" stroke-width="2.0"/>
<rect x="1403.3" y="207.8" width="53.8" height="8.4" fill="url(#g59)" stroke="#000" stroke-width="2.0"/>
<rect x="1312.0" y="270.0" width="51.1" height="8.4" fill="url(#g62)" stroke="#000" stroke-width="2.0"/>
<rect x="1378.0" y="247.3" width="55.1" height="8.4" fill="url(#g65)" stroke="#000" stroke-width="2.0"/>
<rect x="1418.3" y="256.4" width="51.6" height="8.4" fill="url(#g68)" stroke="#000" stroke-width="2.0"/>
<rect x="1333.0" y="292.8" width="53.8" height="8.4" fill="url(#g71)" stroke="#000" stroke-width="2.0"/>
<rect x="1406.0" y="280.7" width="54.6" height="8.4" fill="url(#g74)" stroke="#000" stroke-width="2.0"/>
<rect x="1401.1" y="304.9" width="55.7" height="8.4" fill="url(#g77)" stroke="#000" stroke-width="2.0"/>
<rect x="371.5" y="507.6" width="113.2" height="8.4" fill="url(#g78)" stroke="#000" stroke-width="2.0"/>
<rect x="728.9" y="349.1" width="111.9" height="8.4" fill="url(#g81)" stroke="#000" stroke-width="2.0"/>
<rect x="1173.9" y="329.2" width="98.8" height="8.4" fill="url(#g84)" stroke="#000" stroke-width="2.0"/>
<rect x="907.9" y="369.1" width="101.3" height="8.4" fill="url(#g87)" stroke="#000" stroke-width="2.0"/>
<rect x="1084.6" y="353.5" width="100.6" height="8.4" fill="url(#g90)" stroke="#000" stroke-width="2.0"/>
<rect x="1131.4" y="384.6" width="87.1" height="8.4" fill="url(#g93)" stroke="#000" stroke-width="2.0"/>
<rect x="1235.0" y="397.5" width="74.4" height="8.4" fill="url(#g96)" stroke="#000" stroke-width="2.0"/>
<rect x="1280.2" y="411.2" width="69.8" height="8.4" fill="url(#g99)" stroke="#000" stroke-width="2.0"/>
<rect x="1349.4" y="402.1" width="65.7" height="8.4" fill="url(#g102)" stroke="#000" stroke-width="2.0"/>
<rect x="528.8" y="666.0" width="102.5" height="8.4" fill="url(#g105)" stroke="#000" stroke-width="2.0"/>
<rect x="765.7" y="443.8" width="111.6" height="8.4" fill="url(#g108)" stroke="#000" stroke-width="2.0"/>
<rect x="963.8" y="455.2" width="105.5" height="8.4" fill="url(#g111)" stroke="#000" stroke-width="2.0"/>
<rect x="1184.8" y="465.8" width="89.0" height="8.4" fill="url(#g114)" stroke="#000" stroke-width="2.0"/>
<rect x="1314.2" y="474.9" width="75.3" height="8.4" fill="url(#g117)" stroke="#000" stroke-width="2.0"/>
<rect x="679.2" y="888.3" width="94.1" height="8.4" fill="url(#g119)" stroke="#000" stroke-width="2.0"/>
<rect x="878.5" y="524.5" width="93.7" height="8.4" fill="url(#g122)" stroke="#000" stroke-width="2.0"/>
<rect x="988.3" y="555.9" width="82.1" height="8.4" fill="url(#g125)" stroke="#000" stroke-width="2.0"/>
<rect x="1068.5" y="525.0" width="80.8" height="8.4" fill="url(#g128)" stroke="#000" stroke-width="2.0"/>
<rect x="1188.1" y="511.3" width="85.7" height="8.4" fill="url(#g131)" stroke="#000" stroke-width="2.0"/>
<rect x="1159.0" y="538.6" width="82.3" height="8.4" fill="url(#g134)" stroke="#000" stroke-width="2.0"/>
<rect x="1290.3" y="547.7" width="77.4" height="8.4" fill="url(#g136)" stroke="#000" stroke-width="2.0"/>
<rect x="1114.0" y="586.8" width="77.8" height="8.4" fill="url(#g139)" stroke="#000" stroke-width="2.0"/>
<rect x="1167.7" y="607.6" width="71.9" height="8.4" fill="url(#g142)" stroke="#000" stroke-width="2.0"/>
<rect x="1255.3" y="637.2" width="54.9" height="8.4" fill="url(#g145)" stroke="#000" stroke-width="2.0"/>
<rect x="1275.8" y="684.1" width="47.9" height="8.4" fill="url(#g147)" stroke="#000" stroke-width="2.0"/>
<rect x="1359.9" y="613.0" width="56.8" height="8.4" fill="url(#g150)" stroke="#000" stroke-width="2.0"/>
<rect x="1405.7" y="623.6" width="51.6" height="8.4" fill="url(#g152)" stroke="#000" stroke-width="2.0"/>
<rect x="1441.1" y="632.7" width="47.0" height="8.4" fill="url(#g155)" stroke="#000" stroke-width="2.0"/>
<rect x="1282.2" y="755.3" width="45.9" height="8.4" fill="url(#g157)" stroke="#000" stroke-width="2.0"/>
<rect x="1332.6" y="670.3" width="50.2" height="8.4" fill="url(#g160)" stroke="#000" stroke-width="2.0"/>
<rect x="1346.8" y="689.6" width="48.0" height="8.4" fill="url(#g163)" stroke="#000" stroke-width="2.0"/>
<rect x="1473.3" y="669.2" width="39.1" height="8.4" fill="url(#g166)" stroke="#000" stroke-width="2.0"/>
<rect x="1366.9" y="710.1" width="45.3" height="8.4" fill="url(#g169)" stroke="#000" stroke-width="2.0"/>
<rect x="1398.1" y="693.4" width="51.2" height="8.4" fill="url(#g172)" stroke="#000" stroke-width="2.0"/>
<rect x="1376.1" y="726.8" width="45.7" height="8.4" fill="url(#g175)" stroke="#000" stroke-width="2.0"/>
<rect x="1384.3" y="742.0" width="46.6" height="8.4" fill="url(#g178)" stroke="#000" stroke-width="2.0"/>
<rect x="1429.0" y="729.9" width="48.7" height="8.4" fill="url(#g181)" stroke="#000" stroke-width="2.0"/>
<rect x="1457.6" y="754.1" width="43.6" height="8.4" fill="url(#g184)" stroke="#000" stroke-width="2.0"/>
<rect x="1282.2" y="840.2" width="45.9" height="8.4" fill="url(#g186)" stroke="#000" stroke-width="2.0"/>
<rect x="1388.6" y="793.4" width="54.5" height="8.4" fill="url(#g189)" stroke="#000" stroke-width="2.0"/>
<rect x="1474.4" y="778.4" width="38.0" height="8.4" fill="url(#g191)" stroke="#000" stroke-width="2.0"/>
<rect x="1448.9" y="808.4" width="42.8" height="8.4" fill="url(#g194)" stroke="#000" stroke-width="2.0"/>
<rect x="1478.2" y="820.1" width="32.1" height="8.4" fill="url(#g197)" stroke="#000" stroke-width="2.0"/>
<rect x="1487.7" y="831.5" width="27.5" height="8.4" fill="url(#g199)" stroke="#000" stroke-width="2.0"/>
<rect x="1493.0" y="842.2" width="25.4" height="8.4" fill="url(#g202)" stroke="#000" stroke-width="2.0"/>
<rect x="1496.6" y="851.3" width="25.2" height="8.4" fill="url(#g205)" stroke="#000" stroke-width="2.0"/>
<rect x="1300.2" y="887.0" width="48.0" height="8.4" fill="url(#g208)" stroke="#000" stroke-width="2.0"/>
<rect x="1316.1" y="904.6" width="47.0" height="8.4" fill="url(#g211)" stroke="#000" stroke-width="2.0"/>
<rect x="1330.9" y="927.6" width="45.5" height="8.4" fill="url(#g214)" stroke="#000" stroke-width="2.0"/>
<rect x="1350.0" y="961.4" width="42.1" height="8.4" fill="url(#g217)" stroke="#000" stroke-width="2.0"/>
<rect x="1379.7" y="925.6" width="46.9" height="8.4" fill="url(#g220)" stroke="#000" stroke-width="2.0"/>
<rect x="1413.6" y="912.0" width="50.1" height="8.4" fill="url(#g223)" stroke="#000" stroke-width="2.0"/>
<rect x="1414.0" y="939.3" width="47.2" height="8.4" fill="url(#g225)" stroke="#000" stroke-width="2.0"/>
<rect x="1442.1" y="948.4" width="45.3" height="8.4" fill="url(#g228)" stroke="#000" stroke-width="2.0"/>
<rect x="1358.0" y="997.1" width="41.1" height="8.4" fill="url(#g231)" stroke="#000" stroke-width="2.0"/>
<rect x="1469.3" y="972.7" width="40.2" height="8.4" fill="url(#g234)" stroke="#000" stroke-width="2.0"/>
<rect x="1363.8" y="1021.6" width="40.6" height="8.4" fill="url(#g236)" stroke="#000" stroke-width="2.0"/>
<rect x="1372.2" y="1000.0" width="44.3" height="8.4" fill="url(#g239)" stroke="#000" stroke-width="2.0"/>
<rect x="1397.7" y="1009.1" width="50.5" height="8.4" fill="url(#g242)" stroke="#000" stroke-width="2.0"/>
<rect x="1375.4" y="1043.2" width="43.2" height="8.4" fill="url(#g245)" stroke="#000" stroke-width="2.0"/>
<rect x="1394.1" y="1059.2" width="43.8" height="8.4" fill="url(#g247)" stroke="#000" stroke-width="2.0"/>
<rect x="1425.6" y="1045.5" width="47.6" height="8.4" fill="url(#g250)" stroke="#000" stroke-width="2.0"/>
<rect x="1422.0" y="1072.8" width="44.2" height="8.4" fill="url(#g252)" stroke="#000" stroke-width="2.0"/>
<rect x="1431.1" y="1081.9" width="44.7" height="8.4" fill="url(#g255)" stroke="#000" stroke-width="2.0"/>
<rect x="827.7" y="1252.0" width="85.1" height="8.4" fill="url(#g258)" stroke="#000" stroke-width="2.0"/>
<rect x="914.9" y="1403.9" width="68.7" height="8.4" fill="url(#g261)" stroke="#000" stroke-width="2.0"/>
<rect x="989.8" y="1150.1" width="70.1" height="8.4" fill="url(#g264)" stroke="#000" stroke-width="2.0"/>
<rect x="1017.3" y="1188.0" width="68.0" height="8.4" fill="url(#g266)" stroke="#000" stroke-width="2.0"/>
<rect x="1343.6" y="1130.5" width="72.4" height="8.4" fill="url(#g269)" stroke="#000" stroke-width="2.0"/>
<rect x="1051.9" y="1245.5" width="64.1" height="8.4" fill="url(#g271)" stroke="#000" stroke-width="2.0"/>
<rect x="1087.5" y="1177.9" width="68.5" height="8.4" fill="url(#g273)" stroke="#000" stroke-width="2.0"/>
<rect x="1268.9" y="1154.8" width="79.3" height="8.4" fill="url(#g276)" stroke="#000" stroke-width="2.0"/>
<rect x="1168.0" y="1201.1" width="72.3" height="8.4" fill="url(#g279)" stroke="#000" stroke-width="2.0"/>
<rect x="1297.1" y="1182.1" width="69.1" height="8.4" fill="url(#g282)" stroke="#000" stroke-width="2.0"/>
<rect x="1356.3" y="1191.2" width="64.4" height="8.4" fill="url(#g285)" stroke="#000" stroke-width="2.0"/>
<rect x="1288.1" y="1220.0" width="67.6" height="8.4" fill="url(#g287)" stroke="#000" stroke-width="2.0"/>
<rect x="1327.1" y="1230.6" width="64.1" height="8.4" fill="url(#g290)" stroke="#000" stroke-width="2.0"/>
<rect x="1423.8" y="1239.8" width="52.8" height="8.4" fill="url(#g293)" stroke="#000" stroke-width="2.0"/>
<rect x="1083.3" y="1313.2" width="66.4" height="8.4" fill="url(#g296)" stroke="#000" stroke-width="2.0"/>
<rect x="1202.2" y="1273.1" width="76.9" height="8.4" fill="url(#g299)" stroke="#000" stroke-width="2.0"/>
<rect x="1335.0" y="1288.3" width="63.3" height="8.4" fill="url(#g302)" stroke="#000" stroke-width="2.0"/>
<rect x="1438.9" y="1276.2" width="49.1" height="8.4" fill="url(#g305)" stroke="#000" stroke-width="2.0"/>
<rect x="1395.6" y="1300.5" width="57.7" height="8.4" fill="url(#g308)" stroke="#000" stroke-width="2.0"/>
<rect x="1189.1" y="1353.2" width="63.3" height="8.4" fill="url(#g311)" stroke="#000" stroke-width="2.0"/>
<rect x="1305.2" y="1324.7" width="71.5" height="8.4" fill="url(#g314)" stroke="#000" stroke-width="2.0"/>
<rect x="1219.8" y="1381.6" width="59.1" height="8.4" fill="url(#g316)" stroke="#000" stroke-width="2.0"/>
<rect x="1267.6" y="1358.1" width="64.7" height="8.4" fill="url(#g319)" stroke="#000" stroke-width="2.0"/>
<rect x="1345.0" y="1349.0" width="64.7" height="8.4" fill="url(#g322)" stroke="#000" stroke-width="2.0"/>
<rect x="1246.8" y="1405.2" width="59.7" height="8.4" fill="url(#g325)" stroke="#000" stroke-width="2.0"/>
<rect x="1271.0" y="1388.5" width="61.1" height="8.4" fill="url(#g328)" stroke="#000" stroke-width="2.0"/>
<rect x="1318.8" y="1397.6" width="64.8" height="8.4" fill="url(#g330)" stroke="#000" stroke-width="2.0"/>
<rect x="1374.9" y="1421.9" width="62.4" height="8.4" fill="url(#g333)" stroke="#000" stroke-width="2.0"/>
<rect x="946.8" y="1657.7" width="66.6" height="8.4" fill="url(#g335)" stroke="#000" stroke-width="2.0"/>
<rect x="999.9" y="1467.5" width="70.4" height="8.4" fill="url(#g338)" stroke="#000" stroke-width="2.0"/>
<rect x="1055.8" y="1495.0" width="66.8" height="8.4" fill="url(#g341)" stroke="#000" stroke-width="2.0"/>
<rect x="1151.7" y="1461.3" width="77.2" height="8.4" fill="url(#g344)" stroke="#000" stroke-width="2.0"/>
<rect x="1206.5" y="1470.4" width="79.7" height="8.4" fill="url(#g347)" stroke="#000" stroke-width="2.0"/>
<rect x="1086.0" y="1528.7" width="65.8" height="8.4" fill="url(#g350)" stroke="#000" stroke-width="2.0"/>
<rect x="1392.3" y="1494.7" width="62.6" height="8.4" fill="url(#g353)" stroke="#000" stroke-width="2.0"/>
<rect x="1142.9" y="1562.7" width="59.8" height="8.4" fill="url(#g356)" stroke="#000" stroke-width="2.0"/>
<rect x="1334.3" y="1519.0" width="70.9" height="8.4" fill="url(#g359)" stroke="#000" stroke-width="2.0"/>
<rect x="1159.8" y="1606.4" width="57.1" height="8.4" fill="url(#g362)" stroke="#000" stroke-width="2.0"/>
<rect x="1198.2" y="1569.8" width="63.2" height="8.4" fill="url(#g365)" stroke="#000" stroke-width="2.0"/>
<rect x="1262.0" y="1547.8" width="68.2" height="8.4" fill="url(#g368)" stroke="#000" stroke-width="2.0"/>
<rect x="1354.9" y="1558.4" width="63.6" height="8.4" fill="url(#g371)" stroke="#000" stroke-width="2.0"/>
<rect x="1450.2" y="1567.5" width="46.2" height="8.4" fill="url(#g374)" stroke="#000" stroke-width="2.0"/>
<rect x="1328.3" y="1591.8" width="69.9" height="8.4" fill="url(#g376)" stroke="#000" stroke-width="2.0"/>
<rect x="1176.5" y="1643.0" width="57.5" height="8.4" fill="url(#g379)" stroke="#000" stroke-width="2.0"/>
<rect x="1398.3" y="1616.1" width="60.6" height="8.4" fill="url(#g382)" stroke="#000" stroke-width="2.0"/>
<rect x="1207.0" y="1669.9" width="57.8" height="8.4" fill="url(#g385)" stroke="#000" stroke-width="2.0"/>
<rect x="1266.9" y="1644.9" width="63.3" height="8.4" fill="url(#g388)" stroke="#000" stroke-width="2.0"/>
<rect x="1311.0" y="1655.6" width="62.2" height="8.4" fill="url(#g391)" stroke="#000" stroke-width="2.0"/>
<rect x="1362.7" y="1664.7" width="61.8" height="8.4" fill="url(#g394)" stroke="#000" stroke-width="2.0"/>
<rect x="1235.5" y="1694.8" width="59.8" height="8.4" fill="url(#g397)" stroke="#000" stroke-width="2.0"/>
<rect x="1261.0" y="1706.8" width="60.7" height="8.4" fill="url(#g400)" stroke="#000" stroke-width="2.0"/>
<rect x="1326.7" y="1718.5" width="57.5" height="8.4" fill="url(#g403)" stroke="#000" stroke-width="2.0"/>
<rect x="1355.3" y="1729.9" width="53.8" height="8.4" fill="url(#g406)" stroke="#000" stroke-width="2.0"/>
<rect x="1378.9" y="1740.5" width="52.0" height="8.4" fill="url(#g409)" stroke="#000" stroke-width="2.0"/>
<rect x="1401.9" y="1749.6" width="52.0" height="8.4" fill="url(#g412)" stroke="#000" stroke-width="2.0"/>
<rect x="998.6" y="1847.8" width="70.1" height="8.4" fill="url(#g415)" stroke="#000" stroke-width="2.0"/>
<rect x="1127.1" y="1790.6" width="85.1" height="8.4" fill="url(#g418)" stroke="#000" stroke-width="2.0"/>
<rect x="1341.9" y="1777.0" width="68.2" height="8.4" fill="url(#g420)" stroke="#000" stroke-width="2.0"/>
<rect x="1428.2" y="1786.1" width="52.7" height="8.4" fill="url(#g423)" stroke="#000" stroke-width="2.0"/>
<rect x="1065.9" y="1905.0" width="69.8" height="8.4" fill="url(#g426)" stroke="#000" stroke-width="2.0"/>
<rect x="1165.5" y="1836.9" width="72.1" height="8.4" fill="url(#g428)" stroke="#000" stroke-width="2.0"/>
<rect x="1227.5" y="1822.5" width="76.6" height="8.4" fill="url(#g431)" stroke="#000" stroke-width="2.0"/>
<rect x="1244.8" y="1851.3" width="71.3" height="8.4" fill="url(#g434)" stroke="#000" stroke-width="2.0"/>
<rect x="1312.4" y="1861.9" width="66.6" height="8.4" fill="url(#g437)" stroke="#000" stroke-width="2.0"/>
<rect x="1384.3" y="1871.1" width="60.8" height="8.4" fill="url(#g440)" stroke="#000" stroke-width="2.0"/>
<rect x="1157.1" y="1973.1" width="66.3" height="8.4" fill="url(#g443)" stroke="#000" stroke-width="2.0"/>
<rect x="1289.3" y="1910.5" width="66.3" height="8.4" fill="url(#g446)" stroke="#000" stroke-width="2.0"/>
<rect x="1352.3" y="1931.8" width="55.7" height="8.4" fill="url(#g449)" stroke="#000" stroke-width="2.0"/>
<rect x="1396.9" y="1916.6" width="53.2" height="8.4" fill="url(#g452)" stroke="#000" stroke-width="2.0"/>
<rect x="1448.8" y="1907.5" width="45.6" height="8.4" fill="url(#g455)" stroke="#000" stroke-width="2.0"/>
<rect x="1385.7" y="1946.9" width="54.4" height="8.4" fill="url(#g458)" stroke="#000" stroke-width="2.0"/>
<rect x="1452.8" y="1956.0" width="45.2" height="8.4" fill="url(#g460)" stroke="#000" stroke-width="2.0"/>
<rect x="1198.0" y="2035.7" width="62.7" height="8.4" fill="url(#g463)" stroke="#000" stroke-width="2.0"/>
<rect x="1259.1" y="2004.6" width="60.0" height="8.4" fill="url(#g466)" stroke="#000" stroke-width="2.0"/>
<rect x="1314.4" y="1989.4" width="62.2" height="8.4" fill="url(#g469)" stroke="#000" stroke-width="2.0"/>
<rect x="1358.9" y="1980.3" width="61.6" height="8.4" fill="url(#g471)" stroke="#000" stroke-width="2.0"/>
<rect x="1283.0" y="2019.8" width="61.2" height="8.4" fill="url(#g474)" stroke="#000" stroke-width="2.0"/>
<rect x="1329.9" y="2028.9" width="64.3" height="8.4" fill="url(#g477)" stroke="#000" stroke-width="2.0"/>
<rect x="1251.8" y="2066.8" width="67.3" height="8.4" fill="url(#g480)" stroke="#000" stroke-width="2.0"/>
<rect x="1337.9" y="2053.2" width="67.7" height="8.4" fill="url(#g483)" stroke="#000" stroke-width="2.0"/>
<rect x="1417.2" y="2080.5" width="54.7" height="8.4" fill="url(#g486)" stroke="#000" stroke-width="2.0"/>
<rect x="1484.2" y="2089.6" width="34.6" height="8.4" fill="url(#g489)" stroke="#000" stroke-width="2.0"/>
</g>
<g font-family="'Liberation Sans',Arial,sans-serif" font-style="italic" font-size="14.4" fill="#000"><circle cx="1559.5" cy="11.7" r="3.35" fill="#fff" stroke="#000" stroke-width="2.1"/><text x="1594.0" y="15.9">Treubia</text><circle cx="1559.5" cy="23.8" r="3.35" fill="#fff" stroke="#000" stroke-width="2.1"/><text x="1594.0" y="28.0">Haplomitrium</text><circle cx="1559.5" cy="36.0" r="3.35" fill="#fff" stroke="#000" stroke-width="2.1"/><text x="1594.0" y="40.2">Blasia</text><circle cx="1559.5" cy="48.1" r="3.35" fill="#fff" stroke="#000" stroke-width="2.1"/><text x="1594.0" y="52.3">Riella</text><circle cx="1559.5" cy="60.3" r="3.35" fill="#fff" stroke="#000" stroke-width="2.1"/><text x="1594.0" y="64.5">Sphaerocarpos</text><circle cx="1559.5" cy="72.4" r="3.35" fill="#fff" stroke="#000" stroke-width="2.1"/><text x="1594.0" y="76.6">Lunularia</text><circle cx="1559.5" cy="84.5" r="3.35" fill="#fff" stroke="#000" stroke-width="2.1"/><text x="1594.0" y="88.7">Marchantia</text><circle cx="1559.5" cy="96.7" r="3.35" fill="#fff" stroke="#000" stroke-width="2.1"/><text x="1594.0" y="100.9">Preissia</text><circle cx="1559.5" cy="108.8" r="3.35" fill="#fff" stroke="#000" stroke-width="2.1"/><text x="1594.0" y="113.0">Mannia</text><circle cx="1559.5" cy="121.0" r="3.35" fill="#fff" stroke="#000" stroke-width="2.1"/><text x="1594.0" y="125.2">Asterella</text><circle cx="1559.5" cy="133.1" r="3.35" fill="#fff" stroke="#000" stroke-width="2.1"/><text x="1594.0" y="137.3">Plagiochasma</text><circle cx="1559.5" cy="145.2" r="3.35" fill="#fff" stroke="#000" stroke-width="2.1"/><text x="1594.0" y="149.4">Reboulia</text><circle cx="1559.5" cy="157.4" r="3.35" fill="#fff" stroke="#000" stroke-width="2.1"/><text x="1594.0" y="161.6">Dumortiera</text><circle cx="1559.5" cy="169.5" r="3.35" fill="#fff" stroke="#000" stroke-width="2.1"/><text x="1594.0" y="173.7">Cyathodium</text><circle cx="1559.5" cy="181.7" r="3.35" fill="#fff" stroke="#000" stroke-width="2.1"/><text x="1594.0" y="185.9">Exormotheca</text><circle cx="1559.5" cy="193.8" r="3.35" fill="#fff" stroke="#000" stroke-width="2.1"/><text x="1594.0" y="198.0">Corsinia</text><circle cx="1559.5" cy="205.9" r="3.35" fill="#fff" stroke="#000" stroke-width="2.1"/><text x="1594.0" y="210.1">Clevea</text><circle cx="1559.5" cy="218.1" r="3.35" fill="#fff" stroke="#000" stroke-width="2.1"/><text x="1594.0" y="222.3">Peltolepis</text><circle cx="1559.5" cy="230.2" r="3.35" fill="#fff" stroke="#000" stroke-width="2.1"/><text x="1594.0" y="234.4">Sauteria</text><circle cx="1559.5" cy="242.4" r="3.35" fill="#fff" stroke="#000" stroke-width="2.1"/><text x="1594.0" y="246.6">Oxymitra</text><circle cx="1559.5" cy="254.5" r="3.35" fill="#fff" stroke="#000" stroke-width="2.1"/><text x="1594.0" y="258.7">Ricciocarpos</text><circle cx="1559.5" cy="266.6" r="3.35" fill="#fff" stroke="#000" stroke-width="2.1"/><text x="1594.0" y="270.8">Riccia</text><circle cx="1559.5" cy="278.8" r="3.35" fill="#fff" stroke="#000" stroke-width="2.1"/><text x="1594.0" y="283.0">Targionia</text><circle cx="1559.5" cy="290.9" r="3.35" fill="#fff" stroke="#000" stroke-width="2.1"/><text x="1594.0" y="295.1">Wiesnerella</text><circle cx="1559.5" cy="303.1" r="3.35" fill="#fff" stroke="#000" stroke-width="2.1"/><text x="1594.0" y="307.3">Conocephalum</text><circle cx="1559.5" cy="315.2" r="3.35" fill="#fff" stroke="#000" stroke-width="2.1"/><text x="1594.0" y="319.4">Monoclea</text><circle cx="1559.5" cy="327.4" r="3.35" fill="#fff" stroke="#000" stroke-width="2.1"/><text x="1594.0" y="331.6">Pellia</text><circle cx="1559.5" cy="339.5" r="3.35" fill="#fff" stroke="#000" stroke-width="2.1"/><text x="1594.0" y="343.7">Noteroclada</text><circle cx="1559.5" cy="351.6" r="3.35" fill="#fff" stroke="#000" stroke-width="2.1"/><text x="1594.0" y="355.8">Makinoa</text><circle cx="1559.5" cy="363.8" r="3.35" fill="#fff" stroke="#000" stroke-width="2.1"/><text x="1594.0" y="368.0">Fossombronia</text><circle cx="1559.5" cy="375.9" r="3.35" fill="#fff" stroke="#000" stroke-width="2.1"/><text x="1594.0" y="380.1">Moerckia</text><circle cx="1559.5" cy="388.1" r="3.35" fill="#fff" stroke="#000" stroke-width="2.1"/><text x="1594.0" y="392.3">Pallavicinia</text><circle cx="1559.5" cy="400.2" r="3.35" fill="#fff" stroke="#000" stroke-width="2.1"/><text x="1594.0" y="404.4">Jensenia</text><circle cx="1559.5" cy="412.3" r="3.35" fill="#fff" stroke="#000" stroke-width="2.1"/><text x="1594.0" y="416.5">Podomitrium</text><circle cx="1559.5" cy="424.5" r="3.35" fill="#fff" stroke="#000" stroke-width="2.1"/><text x="1594.0" y="428.7">Symphyogyna</text><circle cx="1559.5" cy="436.6" r="3.35" fill="#fff" stroke="#000" stroke-width="2.1"/><text x="1594.0" y="440.8">Pleurozia</text><circle cx="1559.5" cy="448.8" r="4.6" fill="#000"/><text x="1594.0" y="453.0">Metzgeria</text><circle cx="1559.5" cy="460.9" r="3.35" fill="#fff" stroke="#000" stroke-width="2.1"/><text x="1594.0" y="465.1">Riccardia</text><circle cx="1559.5" cy="473.0" r="3.35" fill="#fff" stroke="#000" stroke-width="2.1"/><text x="1594.0" y="477.2">Lobatiriccardia</text><circle cx="1559.5" cy="485.2" r="3.35" fill="#fff" stroke="#000" stroke-width="2.1"/><text x="1594.0" y="489.4">Aneura</text><circle cx="1559.5" cy="497.3" r="3.35" fill="#fff" stroke="#000" stroke-width="2.1"/><text x="1594.0" y="501.5">Ptilidium</text><circle cx="1559.5" cy="509.5" r="3.4" fill="#b0b0b0" stroke="#000" stroke-width="2"/><text x="1594.0" y="513.7">Radula</text><circle cx="1559.5" cy="521.6" r="3.4" fill="#b0b0b0" stroke="#000" stroke-width="2"/><text x="1594.0" y="525.8">Porella</text><circle cx="1559.5" cy="533.7" r="4.6" fill="#000"/><text x="1594.0" y="537.9">Goebeliella</text><circle cx="1559.5" cy="545.9" r="3.35" fill="#fff" stroke="#000" stroke-width="2.1"/><text x="1594.0" y="550.1">Lepidogyna</text><circle cx="1559.5" cy="558.0" r="3.35" fill="#fff" stroke="#000" stroke-width="2.1"/><text x="1594.0" y="562.2">Lepidolaena</text><circle cx="1559.5" cy="570.2" r="4.6" fill="#000"/><text x="1594.0" y="574.4">Frullania</text><circle cx="1559.5" cy="582.3" r="3.35" fill="#fff" stroke="#000" stroke-width="2.1"/><text x="1594.0" y="586.5">Jubula</text><circle cx="1559.5" cy="594.4" r="4.6" fill="#000"/><text x="1594.0" y="598.6">Frullanoides</text><circle cx="1559.5" cy="606.6" r="4.6" fill="#000"/><text x="1594.0" y="610.8">Marchesinia</text><circle cx="1559.5" cy="618.7" r="4.6" fill="#000"/><text x="1594.0" y="622.9">Symbiezidium</text><circle cx="1559.5" cy="630.9" r="4.6" fill="#000"/><text x="1594.0" y="635.1">Schiffneriolejeunea</text><circle cx="1559.5" cy="643.0" r="4.6" fill="#000"/><text x="1594.0" y="647.2">Caudalejeunea</text><circle cx="1559.5" cy="655.1" r="4.6" fill="#000"/><text x="1594.0" y="659.3">Acrolejeunea</text><circle cx="1559.5" cy="667.3" r="4.6" fill="#000"/><text x="1594.0" y="671.5">Bryopteris</text><circle cx="1559.5" cy="679.4" r="4.6" fill="#000"/><text x="1594.0" y="683.6">Fulfordianthus</text><circle cx="1559.5" cy="691.6" r="4.6" fill="#000"/><text x="1594.0" y="695.8">Mastigolejeunea</text><circle cx="1559.5" cy="703.7" r="4.6" fill="#000"/><text x="1594.0" y="707.9">Lopholejeunea</text><circle cx="1559.5" cy="715.8" r="4.6" fill="#000"/><text x="1594.0" y="720.0">Thysananthus</text><circle cx="1559.5" cy="728.0" r="4.6" fill="#000"/><text x="1594.0" y="732.2">Spruceanthus</text><circle cx="1559.5" cy="740.1" r="4.6" fill="#000"/><text x="1594.0" y="744.3">Archilejeunea</text><circle cx="1559.5" cy="752.3" r="4.6" fill="#000"/><text x="1594.0" y="756.5">Tuzibeanthus</text><circle cx="1559.5" cy="764.4" r="4.6" fill="#000"/><text x="1594.0" y="768.6">Ptychanthus</text><circle cx="1559.5" cy="776.5" r="4.6" fill="#000"/><text x="1594.0" y="780.7">Neurolejeunea</text><circle cx="1559.5" cy="788.7" r="4.6" fill="#000"/><text x="1594.0" y="792.9">Stictolejeunea</text><circle cx="1559.5" cy="800.8" r="4.6" fill="#000"/><text x="1594.0" y="805.0">Blepharolejeunea</text><circle cx="1559.5" cy="813.0" r="4.6" fill="#000"/><text x="1594.0" y="817.2">Odontolejeunea</text><circle cx="1559.5" cy="825.1" r="4.6" fill="#000"/><text x="1594.0" y="829.3">Brachiolejeunea</text><circle cx="1559.5" cy="837.2" r="4.6" fill="#000"/><text x="1594.0" y="841.4">Lindigianthus</text><circle cx="1559.5" cy="849.4" r="4.6" fill="#000"/><text x="1594.0" y="853.6">Dicranolejeunea</text><circle cx="1559.5" cy="861.5" r="3.35" fill="#fff" stroke="#000" stroke-width="2.1"/><text x="1594.0" y="865.7">Acanthocoleus</text><circle cx="1559.5" cy="873.7" r="4.6" fill="#000"/><text x="1594.0" y="877.9">Anoplolejeunea</text><circle cx="1559.5" cy="885.8" r="4.6" fill="#000"/><text x="1594.0" y="890.0">Cheilolejeunea</text><circle cx="1559.5" cy="897.9" r="4.6" fill="#000"/><text x="1594.0" y="902.1">Pycnolejeunea</text><circle cx="1559.5" cy="910.1" r="4.6" fill="#000"/><text x="1594.0" y="914.3">Drepanolejeunea</text><circle cx="1559.5" cy="922.2" r="4.6" fill="#000"/><text x="1594.0" y="926.4">Cyclolejeunea</text><circle cx="1559.5" cy="934.4" r="4.6" fill="#000"/><text x="1594.0" y="938.6">Xylolejeunea</text><circle cx="1559.5" cy="946.5" r="4.6" fill="#000"/><text x="1594.0" y="950.7">Ceratolejeunea</text><circle cx="1559.5" cy="958.7" r="4.6" fill="#000"/><text x="1594.0" y="962.9">Luteolejeunea</text><circle cx="1559.5" cy="970.8" r="4.6" fill="#000"/><text x="1594.0" y="975.0">Lepidolejeunea</text><circle cx="1559.5" cy="982.9" r="4.6" fill="#000"/><text x="1594.0" y="987.1">Prionolejeunea</text><circle cx="1559.5" cy="995.1" r="4.6" fill="#000"/><text x="1594.0" y="999.3">Rectolejeunea</text><circle cx="1559.5" cy="1007.2" r="4.6" fill="#000"/><text x="1594.0" y="1011.4">Microlejeunea</text><circle cx="1559.5" cy="1019.4" r="4.6" fill="#000"/><text x="1594.0" y="1023.6">Lejeunea</text><circle cx="1559.5" cy="1031.5" r="4.6" fill="#000"/><text x="1594.0" y="1035.7">Diplasiolejeunea</text><circle cx="1559.5" cy="1043.6" r="4.6" fill="#000"/><text x="1594.0" y="1047.8">Tuyamaella</text><circle cx="1559.5" cy="1055.8" r="4.6" fill="#000"/><text x="1594.0" y="1060.0">Cololejeunea</text><circle cx="1559.5" cy="1067.9" r="4.6" fill="#000"/><text x="1594.0" y="1072.1">Myriocoleopsis</text><circle cx="1559.5" cy="1080.1" r="4.6" fill="#000"/><text x="1594.0" y="1084.3">Colura</text><circle cx="1559.5" cy="1092.2" r="4.6" fill="#000"/><text x="1594.0" y="1096.4">Harpalejeunea</text><circle cx="1559.5" cy="1104.3" r="3.35" fill="#fff" stroke="#000" stroke-width="2.1"/><text x="1594.0" y="1108.5">Schistochila</text><circle cx="1559.5" cy="1116.5" r="3.35" fill="#fff" stroke="#000" stroke-width="2.1"/><text x="1594.0" y="1120.7">Blepharostoma</text><circle cx="1559.5" cy="1128.6" r="3.35" fill="#fff" stroke="#000" stroke-width="2.1"/><text x="1594.0" y="1132.8">Temnoma</text><circle cx="1559.5" cy="1140.8" r="3.35" fill="#fff" stroke="#000" stroke-width="2.1"/><text x="1594.0" y="1145.0">Pseudolepicolea</text><circle cx="1559.5" cy="1152.9" r="3.35" fill="#fff" stroke="#000" stroke-width="2.1"/><text x="1594.0" y="1157.1">Leiomitra</text><circle cx="1559.5" cy="1165.0" r="3.35" fill="#fff" stroke="#000" stroke-width="2.1"/><text x="1594.0" y="1169.2">Trichocolea</text><circle cx="1559.5" cy="1177.2" r="3.4" fill="#b0b0b0" stroke="#000" stroke-width="2"/><text x="1594.0" y="1181.4">Plagiochila</text><circle cx="1559.5" cy="1189.3" r="3.35" fill="#fff" stroke="#000" stroke-width="2.1"/><text x="1594.0" y="1193.5">Pedinophyllum</text><circle cx="1559.5" cy="1201.5" r="4.6" fill="#000"/><text x="1594.0" y="1205.7">Chiastocaulon</text><circle cx="1559.5" cy="1213.6" r="3.4" fill="#b0b0b0" stroke="#000" stroke-width="2"/><text x="1594.0" y="1217.8">Leptoscyphus</text><circle cx="1559.5" cy="1225.7" r="3.4" fill="#b0b0b0" stroke="#000" stroke-width="2"/><text x="1594.0" y="1229.9">Heteroscyphus</text><circle cx="1559.5" cy="1237.9" r="3.4" fill="#b0b0b0" stroke="#000" stroke-width="2"/><text x="1594.0" y="1242.1">Chiloscyphus</text><circle cx="1559.5" cy="1250.0" r="3.35" fill="#fff" stroke="#000" stroke-width="2.1"/><text x="1594.0" y="1254.2">Clasmatocolea</text><circle cx="1559.5" cy="1262.2" r="3.4" fill="#b0b0b0" stroke="#000" stroke-width="2"/><text x="1594.0" y="1266.4">Lepicolea</text><circle cx="1559.5" cy="1274.3" r="4.6" fill="#000"/><text x="1594.0" y="1278.5">Dendromastigophora</text><circle cx="1559.5" cy="1286.4" r="4.6" fill="#000"/><text x="1594.0" y="1290.6">Mastigophora</text><circle cx="1559.5" cy="1298.6" r="3.35" fill="#fff" stroke="#000" stroke-width="2.1"/><text x="1594.0" y="1302.8">Triandrophyllum</text><circle cx="1559.5" cy="1310.7" r="3.4" fill="#b0b0b0" stroke="#000" stroke-width="2"/><text x="1594.0" y="1314.9">Herbertus</text><circle cx="1559.5" cy="1322.9" r="3.35" fill="#fff" stroke="#000" stroke-width="2.1"/><text x="1594.0" y="1327.1">Telaranea</text><circle cx="1559.5" cy="1335.0" r="3.35" fill="#fff" stroke="#000" stroke-width="2.1"/><text x="1594.0" y="1339.2">Lepidozia</text><circle cx="1559.5" cy="1347.1" r="3.35" fill="#fff" stroke="#000" stroke-width="2.1"/><text x="1594.0" y="1351.3">Zoopsis</text><circle cx="1559.5" cy="1359.3" r="3.35" fill="#fff" stroke="#000" stroke-width="2.1"/><text x="1594.0" y="1363.5">Psiloclada</text><circle cx="1559.5" cy="1371.4" r="3.4" fill="#b0b0b0" stroke="#000" stroke-width="2"/><text x="1594.0" y="1375.6">Bazzania</text><circle cx="1559.5" cy="1383.6" r="3.35" fill="#fff" stroke="#000" stroke-width="2.1"/><text x="1594.0" y="1387.8">Acromastigum</text><circle cx="1559.5" cy="1395.7" r="3.35" fill="#fff" stroke="#000" stroke-width="2.1"/><text x="1594.0" y="1399.9">Zoopsidella</text><circle cx="1559.5" cy="1407.8" r="3.35" fill="#fff" stroke="#000" stroke-width="2.1"/><text x="1594.0" y="1412.0">Paracromastigum</text><circle cx="1559.5" cy="1420.0" r="3.35" fill="#fff" stroke="#000" stroke-width="2.1"/><text x="1594.0" y="1424.2">Kurzia</text><circle cx="1559.5" cy="1432.1" r="3.35" fill="#fff" stroke="#000" stroke-width="2.1"/><text x="1594.0" y="1436.3">Hygrolembidium</text><circle cx="1559.5" cy="1444.3" r="3.35" fill="#fff" stroke="#000" stroke-width="2.1"/><text x="1594.0" y="1448.5">Mylia</text><circle cx="1559.5" cy="1456.4" r="3.35" fill="#fff" stroke="#000" stroke-width="2.1"/><text x="1594.0" y="1460.6">Lethocolea</text><circle cx="1559.5" cy="1468.5" r="3.35" fill="#fff" stroke="#000" stroke-width="2.1"/><text x="1594.0" y="1472.7">Saccogynidium</text><circle cx="1559.5" cy="1480.7" r="3.35" fill="#fff" stroke="#000" stroke-width="2.1"/><text x="1594.0" y="1484.9">Acrobolbus</text><circle cx="1559.5" cy="1492.8" r="3.35" fill="#fff" stroke="#000" stroke-width="2.1"/><text x="1594.0" y="1497.0">Balantiopsis</text><circle cx="1559.5" cy="1505.0" r="3.35" fill="#fff" stroke="#000" stroke-width="2.1"/><text x="1594.0" y="1509.2">Isotachis</text><circle cx="1559.5" cy="1517.1" r="3.35" fill="#fff" stroke="#000" stroke-width="2.1"/><text x="1594.0" y="1521.3">Jackiella</text><circle cx="1559.5" cy="1529.3" r="3.35" fill="#fff" stroke="#000" stroke-width="2.1"/><text x="1594.0" y="1533.5">Notoscyphus</text><circle cx="1559.5" cy="1541.4" r="3.35" fill="#fff" stroke="#000" stroke-width="2.1"/><text x="1594.0" y="1545.6">Geocalyx</text><circle cx="1559.5" cy="1553.5" r="3.35" fill="#fff" stroke="#000" stroke-width="2.1"/><text x="1594.0" y="1557.7">Southbya</text><circle cx="1559.5" cy="1565.7" r="3.35" fill="#fff" stroke="#000" stroke-width="2.1"/><text x="1594.0" y="1569.9">Gongylanthus</text><circle cx="1559.5" cy="1577.8" r="3.35" fill="#fff" stroke="#000" stroke-width="2.1"/><text x="1594.0" y="1582.0">Stephaniella</text><circle cx="1559.5" cy="1590.0" r="3.35" fill="#fff" stroke="#000" stroke-width="2.1"/><text x="1594.0" y="1594.2">Calypogeia</text><circle cx="1559.5" cy="1602.1" r="3.35" fill="#fff" stroke="#000" stroke-width="2.1"/><text x="1594.0" y="1606.3">Mnioloma</text><circle cx="1559.5" cy="1614.2" r="3.35" fill="#fff" stroke="#000" stroke-width="2.1"/><text x="1594.0" y="1618.4">Hygrobiella</text><circle cx="1559.5" cy="1626.4" r="3.35" fill="#fff" stroke="#000" stroke-width="2.1"/><text x="1594.0" y="1630.6">Anthelia</text><circle cx="1559.5" cy="1638.5" r="3.35" fill="#fff" stroke="#000" stroke-width="2.1"/><text x="1594.0" y="1642.7">Mesoptychia</text><circle cx="1559.5" cy="1650.7" r="3.35" fill="#fff" stroke="#000" stroke-width="2.1"/><text x="1594.0" y="1654.9">Liochlaena</text><circle cx="1559.5" cy="1662.8" r="3.35" fill="#fff" stroke="#000" stroke-width="2.1"/><text x="1594.0" y="1667.0">Jungermannia</text><circle cx="1559.5" cy="1674.9" r="3.35" fill="#fff" stroke="#000" stroke-width="2.1"/><text x="1594.0" y="1679.1">Eremonotus</text><circle cx="1559.5" cy="1687.1" r="3.35" fill="#fff" stroke="#000" stroke-width="2.1"/><text x="1594.0" y="1691.3">Harpanthus</text><circle cx="1559.5" cy="1699.2" r="3.35" fill="#fff" stroke="#000" stroke-width="2.1"/><text x="1594.0" y="1703.4">Saccogyna</text><circle cx="1559.5" cy="1711.4" r="3.35" fill="#fff" stroke="#000" stroke-width="2.1"/><text x="1594.0" y="1715.6">Nardia</text><circle cx="1559.5" cy="1723.5" r="3.35" fill="#fff" stroke="#000" stroke-width="2.1"/><text x="1594.0" y="1727.7">Solenostoma</text><circle cx="1559.5" cy="1735.6" r="3.35" fill="#fff" stroke="#000" stroke-width="2.1"/><text x="1594.0" y="1739.8">Marsupella</text><circle cx="1559.5" cy="1747.8" r="3.35" fill="#fff" stroke="#000" stroke-width="2.1"/><text x="1594.0" y="1752.0">Prasanthus</text><circle cx="1559.5" cy="1759.9" r="3.35" fill="#fff" stroke="#000" stroke-width="2.1"/><text x="1594.0" y="1764.1">Gymnomitrion</text><circle cx="1559.5" cy="1772.1" r="4.6" fill="#000"/><text x="1594.0" y="1776.3">Adelanthus</text><circle cx="1559.5" cy="1784.2" r="4.6" fill="#000"/><text x="1594.0" y="1788.4">Wettsteinia</text><circle cx="1559.5" cy="1796.3" r="4.6" fill="#000"/><text x="1594.0" y="1800.5">Pseudomarsupidium</text><circle cx="1559.5" cy="1808.5" r="3.35" fill="#fff" stroke="#000" stroke-width="2.1"/><text x="1594.0" y="1812.7">Syzygiella</text><circle cx="1559.5" cy="1820.6" r="3.35" fill="#fff" stroke="#000" stroke-width="2.1"/><text x="1594.0" y="1824.8">Alobiellopsis</text><circle cx="1559.5" cy="1832.8" r="3.35" fill="#fff" stroke="#000" stroke-width="2.1"/><text x="1594.0" y="1837.0">Odontoschisma</text><circle cx="1559.5" cy="1844.9" r="3.35" fill="#fff" stroke="#000" stroke-width="2.1"/><text x="1594.0" y="1849.1">Schiffneria</text><circle cx="1559.5" cy="1857.0" r="3.35" fill="#fff" stroke="#000" stroke-width="2.1"/><text x="1594.0" y="1861.2">Fuscocephaloziopsis</text><circle cx="1559.5" cy="1869.2" r="3.35" fill="#fff" stroke="#000" stroke-width="2.1"/><text x="1594.0" y="1873.4">Nowellia</text><circle cx="1559.5" cy="1881.3" r="3.35" fill="#fff" stroke="#000" stroke-width="2.1"/><text x="1594.0" y="1885.5">Cephalozia</text><circle cx="1559.5" cy="1893.5" r="3.35" fill="#fff" stroke="#000" stroke-width="2.1"/><text x="1594.0" y="1897.7">Gymnocolea</text><circle cx="1559.5" cy="1905.6" r="4.6" fill="#000"/><text x="1594.0" y="1909.8">Plicanthus</text><circle cx="1559.5" cy="1917.7" r="3.35" fill="#fff" stroke="#000" stroke-width="2.1"/><text x="1594.0" y="1921.9">Tetralophozia</text><circle cx="1559.5" cy="1929.9" r="3.35" fill="#fff" stroke="#000" stroke-width="2.1"/><text x="1594.0" y="1934.1">Barbilophozia</text><circle cx="1559.5" cy="1942.0" r="3.35" fill="#fff" stroke="#000" stroke-width="2.1"/><text x="1594.0" y="1946.2">Isopaches</text><circle cx="1559.5" cy="1954.2" r="3.35" fill="#fff" stroke="#000" stroke-width="2.1"/><text x="1594.0" y="1958.4">Schljakovianthus</text><circle cx="1559.5" cy="1966.3" r="3.35" fill="#fff" stroke="#000" stroke-width="2.1"/><text x="1594.0" y="1970.5">Sphenolobus</text><circle cx="1559.5" cy="1978.4" r="3.35" fill="#fff" stroke="#000" stroke-width="2.1"/><text x="1594.0" y="1982.6">Lophoziopsis</text><circle cx="1559.5" cy="1990.6" r="3.35" fill="#fff" stroke="#000" stroke-width="2.1"/><text x="1594.0" y="1994.8">Lophozia</text><circle cx="1559.5" cy="2002.7" r="3.35" fill="#fff" stroke="#000" stroke-width="2.1"/><text x="1594.0" y="2006.9">Tritomaria</text><circle cx="1559.5" cy="2014.9" r="3.35" fill="#fff" stroke="#000" stroke-width="2.1"/><text x="1594.0" y="2019.1">Schistochilopsis</text><circle cx="1559.5" cy="2027.0" r="3.35" fill="#fff" stroke="#000" stroke-width="2.1"/><text x="1594.0" y="2031.2">Diplophyllum</text><circle cx="1559.5" cy="2039.1" r="3.35" fill="#fff" stroke="#000" stroke-width="2.1"/><text x="1594.0" y="2043.3">Scapania</text><circle cx="1559.5" cy="2051.3" r="3.35" fill="#fff" stroke="#000" stroke-width="2.1"/><text x="1594.0" y="2055.5">Anastrophyllopsis</text><circle cx="1559.5" cy="2063.4" r="3.35" fill="#fff" stroke="#000" stroke-width="2.1"/><text x="1594.0" y="2067.6">Gottschelia</text><circle cx="1559.5" cy="2075.6" r="3.35" fill="#fff" stroke="#000" stroke-width="2.1"/><text x="1594.0" y="2079.8">Cephaloziella</text><circle cx="1559.5" cy="2087.7" r="3.35" fill="#fff" stroke="#000" stroke-width="2.1"/><text x="1594.0" y="2091.9">Kymatocalyx</text><circle cx="1559.5" cy="2099.8" r="3.35" fill="#fff" stroke="#000" stroke-width="2.1"/><text x="1594.0" y="2104.0">Cylindrocolea</text></g>
<g font-family="'Liberation Sans',Arial,sans-serif" font-size="18.5" fill="#4a4a4a"><rect x="104.6" y="1552.1" width="835.7" height="446.3" fill="#fff" stroke="#666" stroke-width="1.2"/><line x1="180.7" y1="1998.4" x2="180.7" y2="2009.4" stroke="#666" stroke-width="1.2"/><text x="180.7" y="2039.6" text-anchor="middle">0</text><line x1="334.7" y1="1998.4" x2="334.7" y2="2009.4" stroke="#666" stroke-width="1.2"/><text x="334.7" y="2039.6" text-anchor="middle">5</text><line x1="488.7" y1="1998.4" x2="488.7" y2="2009.4" stroke="#666" stroke-width="1.2"/><text x="488.7" y="2039.6" text-anchor="middle">10</text><line x1="642.7" y1="1998.4" x2="642.7" y2="2009.4" stroke="#666" stroke-width="1.2"/><text x="642.7" y="2039.6" text-anchor="middle">15</text><line x1="796.7" y1="1998.4" x2="796.7" y2="2009.4" stroke="#666" stroke-width="1.2"/><text x="796.7" y="2039.6" text-anchor="middle">20</text><line x1="93.6" y1="1981.5" x2="104.6" y2="1981.5" stroke="#666" stroke-width="1.2"/><text transform="translate(77.7,1981.5) rotate(-90)" text-anchor="middle">0.0</text><line x1="93.6" y1="1921.7" x2="104.6" y2="1921.7" stroke="#666" stroke-width="1.2"/><text transform="translate(77.7,1921.7) rotate(-90)" text-anchor="middle">0.1</text><line x1="93.6" y1="1862.0" x2="104.6" y2="1862.0" stroke="#666" stroke-width="1.2"/><text transform="translate(77.7,1862.0) rotate(-90)" text-anchor="middle">0.2</text><line x1="93.6" y1="1802.2" x2="104.6" y2="1802.2" stroke="#666" stroke-width="1.2"/><text transform="translate(77.7,1802.2) rotate(-90)" text-anchor="middle">0.3</text><line x1="93.6" y1="1742.4" x2="104.6" y2="1742.4" stroke="#666" stroke-width="1.2"/><text transform="translate(77.7,1742.4) rotate(-90)" text-anchor="middle">0.4</text><line x1="93.6" y1="1682.7" x2="104.6" y2="1682.7" stroke="#666" stroke-width="1.2"/><text transform="translate(77.7,1682.7) rotate(-90)" text-anchor="middle">0.5</text><line x1="93.6" y1="1622.9" x2="104.6" y2="1622.9" stroke="#666" stroke-width="1.2"/><text transform="translate(77.7,1622.9) rotate(-90)" text-anchor="middle">0.6</text><line x1="93.6" y1="1563.1" x2="104.6" y2="1563.1" stroke="#666" stroke-width="1.2"/><text transform="translate(77.7,1563.1) rotate(-90)" text-anchor="middle">0.7</text><text x="521.8" y="2083" text-anchor="middle" font-size="18.55">Annual mean temperature [°C]</text><text transform="translate(33,1774) rotate(-90)" text-anchor="middle" font-size="18.55">Genus diversification rate</text><circle cx="135.7" cy="1981.7" r="4.7" fill="#00b6f5"/><circle cx="173.1" cy="1968.4" r="4.7" fill="#00b6f5"/><circle cx="182.8" cy="1957.8" r="4.7" fill="#00b6f5"/><circle cx="240.0" cy="1968.2" r="4.7" fill="#00b6f5"/><circle cx="251.0" cy="1939.6" r="4.7" fill="#00b6f5"/><circle cx="263.2" cy="1944.8" r="4.7" fill="#00b6f5"/><circle cx="290.0" cy="1918.5" r="4.7" fill="#00b6f5"/><circle cx="295.5" cy="1960.6" r="4.7" fill="#00b6f5"/><circle cx="308.2" cy="1950.7" r="4.7" fill="#00b6f5"/><circle cx="316.3" cy="1939.3" r="4.7" fill="#00b6f5"/><circle cx="315.8" cy="1972.1" r="4.7" fill="#00b6f5"/><circle cx="325.4" cy="1967.4" r="4.7" fill="#00b6f5"/><circle cx="321.2" cy="1981.7" r="4.7" fill="#00b6f5"/><circle cx="325.4" cy="1979.4" r="4.7" fill="#00b6f5"/><circle cx="327.2" cy="1880.5" r="4.7" fill="#00b6f5"/><circle cx="348.0" cy="1961.9" r="4.7" fill="#00b6f5"/><circle cx="352.5" cy="1981.7" r="4.7" fill="#00b6f5"/><circle cx="360.0" cy="1952.6" r="4.7" fill="#00b6f5"/><circle cx="377.5" cy="1951.0" r="4.7" fill="#00b6f5"/><circle cx="388.1" cy="1969.0" r="4.7" fill="#00b6f5"/><circle cx="391.8" cy="1977.8" r="4.7" fill="#00b6f5"/><circle cx="395.7" cy="1928.4" r="4.7" fill="#00b6f5"/><circle cx="402.7" cy="1950.2" r="4.7" fill="#00b6f5"/><circle cx="421.7" cy="1963.5" r="4.7" fill="#00b6f5"/><circle cx="427.2" cy="1913.8" r="4.7" fill="#00b6f5"/><circle cx="430.3" cy="1931.0" r="4.7" fill="#00b6f5"/><circle cx="438.4" cy="1952.6" r="4.7" fill="#00b6f5"/><circle cx="444.1" cy="1973.1" r="4.7" fill="#00b6f5"/><circle cx="481.6" cy="1906.0" r="4.7" fill="#00b6f5"/><circle cx="484.7" cy="1957.0" r="4.7" fill="#00b6f5"/><circle cx="488.3" cy="1961.7" r="4.7" fill="#00b6f5"/><circle cx="499.0" cy="1932.8" r="4.7" fill="#00b6f5"/><circle cx="504.0" cy="1981.7" r="4.7" fill="#00b6f5"/><circle cx="511.0" cy="1841.7" r="4.7" fill="#00b6f5"/><circle cx="523.5" cy="1907.5" r="4.7" fill="#00b6f5"/><circle cx="770.9" cy="1861.5" r="4.7" fill="#00b6f5"/><circle cx="646.8" cy="1899.7" r="4.7" fill="#00b6f5"/><circle cx="574.1" cy="1920.8" r="4.7" fill="#00b6f5"/><circle cx="566.3" cy="1924.7" r="4.7" fill="#00b6f5"/><circle cx="584.5" cy="1924.7" r="4.7" fill="#00b6f5"/><circle cx="630.9" cy="1925.2" r="4.7" fill="#00b6f5"/><circle cx="534.8" cy="1930.2" r="4.7" fill="#00b6f5"/><circle cx="545.5" cy="1932.8" r="4.7" fill="#00b6f5"/><circle cx="583.5" cy="1932.8" r="4.7" fill="#00b6f5"/><circle cx="640.5" cy="1935.6" r="4.7" fill="#00b6f5"/><circle cx="536.1" cy="1941.4" r="4.7" fill="#00b6f5"/><circle cx="539.0" cy="1945.5" r="4.7" fill="#00b6f5"/><circle cx="564.2" cy="1944.0" r="4.7" fill="#00b6f5"/><circle cx="572.8" cy="1945.0" r="4.7" fill="#00b6f5"/><circle cx="583.2" cy="1938.8" r="4.7" fill="#00b6f5"/><circle cx="590.3" cy="1943.5" r="4.7" fill="#00b6f5"/><circle cx="634.0" cy="1941.4" r="4.7" fill="#00b6f5"/><circle cx="631.4" cy="1945.0" r="4.7" fill="#00b6f5"/><circle cx="669.1" cy="1943.5" r="4.7" fill="#00b6f5"/><circle cx="678.0" cy="1943.5" r="4.7" fill="#00b6f5"/><circle cx="710.8" cy="1944.8" r="4.7" fill="#00b6f5"/><circle cx="546.0" cy="1953.1" r="4.7" fill="#00b6f5"/><circle cx="617.6" cy="1952.8" r="4.7" fill="#00b6f5"/><circle cx="667.3" cy="1953.1" r="4.7" fill="#00b6f5"/><circle cx="657.9" cy="1956.5" r="4.7" fill="#00b6f5"/><circle cx="577.3" cy="1953.9" r="4.7" fill="#00b6f5"/><circle cx="587.4" cy="1958.6" r="4.7" fill="#00b6f5"/><circle cx="613.7" cy="1959.6" r="4.7" fill="#00b6f5"/><circle cx="563.5" cy="1963.0" r="4.7" fill="#00b6f5"/><circle cx="576.0" cy="1962.2" r="4.7" fill="#00b6f5"/><circle cx="582.5" cy="1964.8" r="4.7" fill="#00b6f5"/><circle cx="590.3" cy="1969.7" r="4.7" fill="#00b6f5"/><circle cx="553.3" cy="1970.3" r="4.7" fill="#00b6f5"/><circle cx="646.8" cy="1969.0" r="4.7" fill="#00b6f5"/><circle cx="675.6" cy="1972.1" r="4.7" fill="#00b6f5"/><circle cx="696.2" cy="1970.8" r="4.7" fill="#00b6f5"/><circle cx="710.5" cy="1965.3" r="4.7" fill="#00b6f5"/><circle cx="600.4" cy="1981.7" r="4.7" fill="#00b6f5"/><circle cx="619.9" cy="1981.7" r="4.7" fill="#00b6f5"/><circle cx="749.3" cy="1981.7" r="4.7" fill="#00b6f5"/><circle cx="830.3" cy="1973.9" r="4.7" fill="#00b6f5"/><circle cx="330.7" cy="1568.4" r="4.7" fill="#00b6f5"/><circle cx="677.6" cy="1765.9" r="4.7" fill="#00b6f5"/><circle cx="284.3" cy="1968.2" r="4.7" fill="#00ee00"/><circle cx="316.3" cy="1945.8" r="4.7" fill="#00ee00"/><circle cx="333.0" cy="1960.4" r="4.7" fill="#00ee00"/><circle cx="353.5" cy="1939.6" r="4.7" fill="#00ee00"/><circle cx="355.3" cy="1961.4" r="4.7" fill="#00ee00"/><circle cx="387.9" cy="1981.7" r="4.7" fill="#00ee00"/><circle cx="451.1" cy="1981.7" r="4.7" fill="#00ee00"/><circle cx="488.3" cy="1981.7" r="4.7" fill="#00ee00"/><circle cx="507.1" cy="1981.7" r="4.7" fill="#00ee00"/><circle cx="507.1" cy="1957.8" r="4.7" fill="#00ee00"/><circle cx="521.9" cy="1867.2" r="4.7" fill="#00ee00"/><circle cx="719.4" cy="1866.2" r="4.7" fill="#00ee00"/><circle cx="596.3" cy="1888.5" r="4.7" fill="#00ee00"/><circle cx="689.2" cy="1915.6" r="4.7" fill="#00ee00"/><circle cx="638.9" cy="1930.2" r="4.7" fill="#00ee00"/><circle cx="795.4" cy="1948.9" r="4.7" fill="#00ee00"/><circle cx="684.5" cy="1959.6" r="4.7" fill="#00ee00"/><circle cx="650.9" cy="1967.9" r="4.7" fill="#00ee00"/><circle cx="716.3" cy="1976.3" r="4.7" fill="#00ee00"/><circle cx="561.6" cy="1981.7" r="4.7" fill="#00ee00"/><circle cx="652.0" cy="1981.7" r="4.7" fill="#00ee00"/><circle cx="689.4" cy="1981.7" r="4.7" fill="#00ee00"/><circle cx="331.4" cy="1969.2" r="4.7" fill="#696969"/><circle cx="370.7" cy="1973.4" r="4.7" fill="#696969"/><circle cx="637.9" cy="1871.4" r="4.7" fill="#696969"/><circle cx="612.7" cy="1941.4" r="4.7" fill="#696969"/><circle cx="551.5" cy="1957.0" r="4.7" fill="#696969"/><circle cx="721.2" cy="1964.3" r="4.7" fill="#696969"/><circle cx="757.1" cy="1967.4" r="4.7" fill="#696969"/><circle cx="613.2" cy="1981.7" r="4.7" fill="#696969"/><circle cx="626.7" cy="1981.7" r="4.7" fill="#696969"/><circle cx="506.8" cy="1961.2" r="4.7" fill="#ff8c10"/><circle cx="581.7" cy="1950.5" r="4.7" fill="#ff8c10"/><circle cx="600.7" cy="1953.3" r="4.7" fill="#ff8c10"/><circle cx="614.2" cy="1966.4" r="4.7" fill="#ff8c10"/><circle cx="567.9" cy="1975.2" r="4.7" fill="#ff8c10"/><circle cx="558.8" cy="1965.6" r="4.7" fill="#cc99d9"/><circle cx="559.6" cy="1976.3" r="4.7" fill="#cc99d9"/><circle cx="246.8" cy="1967.7" r="4.7" fill="#9400d3"/><circle cx="391.0" cy="1974.7" r="4.7" fill="#ff3030"/><circle cx="467.0" cy="1981.7" r="4.7" fill="#ff3030"/><circle cx="476.9" cy="1957.8" r="4.7" fill="#ff3030"/><circle cx="618.4" cy="1929.7" r="4.7" fill="#ff3030"/><circle cx="641.8" cy="1954.1" r="4.7" fill="#ff3030"/><circle cx="638.9" cy="1959.6" r="4.7" fill="#ff3030"/><circle cx="691.5" cy="1949.4" r="4.7" fill="#ff3030"/><circle cx="461.0" cy="1981.7" r="4.3" fill="#ee3030" stroke="#4a1010" stroke-width="1"/><circle cx="785.5" cy="1808.9" r="4.3" fill="#ee3030" stroke="#4a1010" stroke-width="1"/><circle cx="621.5" cy="1827.6" r="4.3" fill="#ee3030" stroke="#4a1010" stroke-width="1"/><circle cx="738.6" cy="1841.9" r="4.3" fill="#ee3030" stroke="#4a1010" stroke-width="1"/><circle cx="798.2" cy="1842.5" r="4.3" fill="#ee3030" stroke="#4a1010" stroke-width="1"/><circle cx="814.6" cy="1869.5" r="4.3" fill="#ee3030" stroke="#4a1010" stroke-width="1"/><circle cx="712.6" cy="1886.5" r="4.3" fill="#ee3030" stroke="#4a1010" stroke-width="1"/><circle cx="751.4" cy="1895.6" r="4.3" fill="#ee3030" stroke="#4a1010" stroke-width="1"/><circle cx="789.7" cy="1892.2" r="4.3" fill="#ee3030" stroke="#4a1010" stroke-width="1"/><circle cx="685.3" cy="1894.3" r="4.3" fill="#ee3030" stroke="#4a1010" stroke-width="1"/><circle cx="691.8" cy="1898.2" r="4.3" fill="#ee3030" stroke="#4a1010" stroke-width="1"/><circle cx="677.5" cy="1903.6" r="4.3" fill="#ee3030" stroke="#4a1010" stroke-width="1"/><circle cx="683.5" cy="1903.6" r="4.3" fill="#ee3030" stroke="#4a1010" stroke-width="1"/><circle cx="651.4" cy="1903.6" r="4.3" fill="#ee3030" stroke="#4a1010" stroke-width="1"/><circle cx="852.1" cy="1902.1" r="4.3" fill="#ee3030" stroke="#4a1010" stroke-width="1"/><circle cx="790.7" cy="1909.6" r="4.3" fill="#ee3030" stroke="#4a1010" stroke-width="1"/><circle cx="797.5" cy="1911.7" r="4.3" fill="#ee3030" stroke="#4a1010" stroke-width="1"/><circle cx="814.9" cy="1913.8" r="4.3" fill="#ee3030" stroke="#4a1010" stroke-width="1"/><circle cx="818.5" cy="1915.3" r="4.3" fill="#ee3030" stroke="#4a1010" stroke-width="1"/><circle cx="802.4" cy="1920.6" r="4.3" fill="#ee3030" stroke="#4a1010" stroke-width="1"/><circle cx="559.0" cy="1926.5" r="4.3" fill="#ee3030" stroke="#4a1010" stroke-width="1"/><circle cx="669.1" cy="1925.8" r="4.3" fill="#ee3030" stroke="#4a1010" stroke-width="1"/><circle cx="680.9" cy="1923.7" r="4.3" fill="#ee3030" stroke="#4a1010" stroke-width="1"/><circle cx="770.9" cy="1932.5" r="4.3" fill="#ee3030" stroke="#4a1010" stroke-width="1"/><circle cx="668.4" cy="1937.7" r="4.3" fill="#ee3030" stroke="#4a1010" stroke-width="1"/><circle cx="805.8" cy="1940.1" r="4.3" fill="#ee3030" stroke="#4a1010" stroke-width="1"/><circle cx="826.1" cy="1935.4" r="4.3" fill="#ee3030" stroke="#4a1010" stroke-width="1"/><circle cx="854.5" cy="1939.6" r="4.3" fill="#ee3030" stroke="#4a1010" stroke-width="1"/><circle cx="816.2" cy="1948.9" r="4.3" fill="#ee3030" stroke="#4a1010" stroke-width="1"/><circle cx="701.4" cy="1950.5" r="4.3" fill="#ee3030" stroke="#4a1010" stroke-width="1"/><circle cx="786.0" cy="1952.6" r="4.3" fill="#ee3030" stroke="#4a1010" stroke-width="1"/><circle cx="788.1" cy="1954.4" r="4.3" fill="#ee3030" stroke="#4a1010" stroke-width="1"/><circle cx="908.9" cy="1947.9" r="4.3" fill="#ee3030" stroke="#4a1010" stroke-width="1"/><circle cx="875.0" cy="1953.6" r="4.3" fill="#ee3030" stroke="#4a1010" stroke-width="1"/><circle cx="772.7" cy="1958.0" r="4.3" fill="#ee3030" stroke="#4a1010" stroke-width="1"/><circle cx="684.5" cy="1966.4" r="4.3" fill="#ee3030" stroke="#4a1010" stroke-width="1"/><circle cx="604.9" cy="1981.7" r="4.3" fill="#ee3030" stroke="#4a1010" stroke-width="1"/><circle cx="684.5" cy="1981.7" r="4.3" fill="#ee3030" stroke="#4a1010" stroke-width="1"/><circle cx="731.1" cy="1981.7" r="4.3" fill="#ee3030" stroke="#4a1010" stroke-width="1"/><circle cx="810.2" cy="1981.7" r="4.3" fill="#ee3030" stroke="#4a1010" stroke-width="1"/><circle cx="718.9" cy="1696.2" r="4.3" fill="#ee3030" stroke="#4a1010" stroke-width="1"/><path d="M134.8 1959.4 Q520 1944 911.2 1915.9" fill="none" stroke="#666" stroke-width="2"/><rect x="792.1" y="1552.1" width="148.2" height="219.1" fill="#fff" stroke="#666" stroke-width="1.2"/><circle cx="805.4" cy="1576.5" r="4" fill="#cc99d9"/><text x="819.4" y="1581.4" font-size="15.4">Haplomitriopsida</text><circle cx="805.4" cy="1601.1" r="4" fill="#00ee00"/><text x="819.4" y="1606.0" font-size="15.4">Marchantiopsida</text><circle cx="805.4" cy="1625.6" r="4" fill="#696969"/><text x="819.4" y="1630.5" font-size="15.4">Pelliidae</text><circle cx="805.4" cy="1650.2" r="4" fill="#ff8c10"/><text x="819.4" y="1655.1" font-size="15.4">Metzgeriidae</text><circle cx="805.4" cy="1674.8" r="4" fill="#9400d3"/><text x="819.4" y="1679.7" font-size="15.4">Ptilidiales</text><circle cx="805.4" cy="1699.3" r="4" fill="#ff3030"/><text x="819.4" y="1704.2" font-size="15.4">Porellales</text><circle cx="805.4" cy="1723.9" r="3.5" fill="#ee3030" stroke="#4a1010" stroke-width="1"/><text x="819.4" y="1728.8" font-size="15.4">Lejeuneaceae</text><circle cx="805.4" cy="1748.5" r="4" fill="#00b6f5"/><text x="819.4" y="1753.4" font-size="15.4">Jungermanniales</text></g>
<g font-family="'Liberation Sans',Arial,sans-serif" fill="#000"><circle cx="141.4" cy="2157.6" r="10.6" fill="#000"/><text x="163.9" y="2166.2" font-size="34.5">Epiphyte</text><circle cx="391.7" cy="2157.6" r="9.3" fill="#fff" stroke="#000" stroke-width="2"/><text x="415.2" y="2166.2" font-size="34.5">Generalist</text><circle cx="643" cy="2157.6" r="9.3" fill="#bdbdbd" stroke="#000" stroke-width="2"/><text x="665" y="2166.2" font-size="34.5">both</text><rect x="960" y="2155.2" width="309" height="10.6" fill="url(#cb)" stroke="#000" stroke-width="1.4"/><text x="965.5" y="2140" font-size="20" text-anchor="middle">−1.5</text><text x="1264" y="2140" font-size="20" text-anchor="middle">23.6</text><text x="1114.2" y="2194" font-size="20.35" text-anchor="middle">Annual mean temperature [°C]</text><path d="M28.8 2240 V2282.7 H1522.1 V2240" fill="none" stroke="#000" stroke-width="3.8" stroke-linejoin="miter" stroke-linecap="round"/><line x1="1223.4" y1="2240" x2="1223.4" y2="2282.7" stroke="#000" stroke-width="3.8" stroke-linecap="round"/><line x1="924.8" y1="2240" x2="924.8" y2="2282.7" stroke="#000" stroke-width="3.8" stroke-linecap="round"/><line x1="626.1" y1="2240" x2="626.1" y2="2282.7" stroke="#000" stroke-width="3.8" stroke-linecap="round"/><line x1="327.5" y1="2240" x2="327.5" y2="2282.7" stroke="#000" stroke-width="3.8" stroke-linecap="round"/><text x="1522.1" y="2358.5" font-size="35.4" text-anchor="middle">0</text><text x="1223.4" y="2358.5" font-size="35.4" text-anchor="middle">100</text><text x="924.8" y="2358.5" font-size="35.4" text-anchor="middle">200</text><text x="626.1" y="2358.5" font-size="35.4" text-anchor="middle">300</text><text x="327.5" y="2358.5" font-size="35.4" text-anchor="middle">400</text><text x="28.8" y="2358.5" font-size="35.4" text-anchor="middle">500</text></g>
</svg></body></html>
